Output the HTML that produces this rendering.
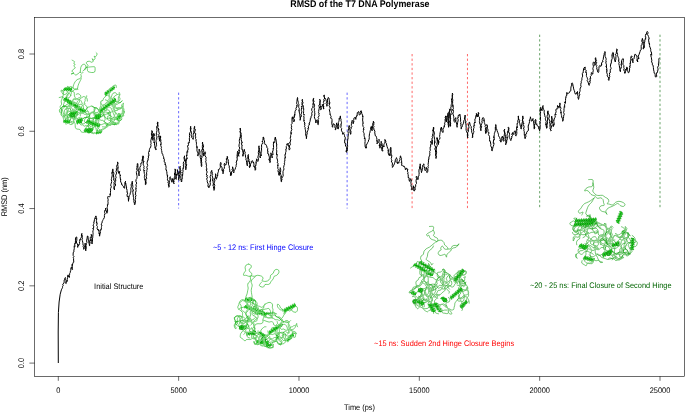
<!DOCTYPE html>
<html><head><meta charset="utf-8"><title>RMSD of the T7 DNA Polymerase</title>
<style>html,body{margin:0;padding:0;background:#fff;width:685px;height:412px;overflow:hidden}</style></head>
<body>
<svg width="685" height="412" viewBox="0 0 685 412" style="display:block;position:absolute;left:0;top:0;text-rendering:geometricPrecision" font-family="'Liberation Sans', Arial, Helvetica, sans-serif" font-size="7.30">
<rect x="0" y="0" width="685" height="412" fill="#fff"/>
<g fill="none" stroke="#000" stroke-width="0.58" stroke-linecap="butt">
<rect x="34.6" y="17.4" width="649.9" height="358.9"/>
<path d="M58.30 376.3v4.50M178.64 376.3v4.50M298.98 376.3v4.50M419.32 376.3v4.50M539.66 376.3v4.50M660.00 376.3v4.50M34.6 363.10h-5.20M34.6 285.83h-5.20M34.6 208.55h-5.20M34.6 131.28h-5.20M34.6 54.00h-5.20"/>
</g>
<text transform="translate(58.30 392.50) scale(0.9136 1)" font-size="8.10" fill="#000" text-anchor="middle">0</text>
<text transform="translate(178.64 392.50) scale(0.9136 1)" font-size="8.10" fill="#000" text-anchor="middle">5000</text>
<text transform="translate(298.98 392.50) scale(0.9136 1)" font-size="8.10" fill="#000" text-anchor="middle">10000</text>
<text transform="translate(419.32 392.50) scale(0.9136 1)" font-size="8.10" fill="#000" text-anchor="middle">15000</text>
<text transform="translate(539.66 392.50) scale(0.9136 1)" font-size="8.10" fill="#000" text-anchor="middle">20000</text>
<text transform="translate(660.00 392.50) scale(0.9136 1)" font-size="8.10" fill="#000" text-anchor="middle">25000</text>
<text transform="translate(23.90 363.10) rotate(-90) scale(0.9136 1)" font-size="8.10" fill="#000" text-anchor="middle">0.0</text>
<text transform="translate(23.90 285.83) rotate(-90) scale(0.9136 1)" font-size="8.10" fill="#000" text-anchor="middle">0.2</text>
<text transform="translate(23.90 208.55) rotate(-90) scale(0.9136 1)" font-size="8.10" fill="#000" text-anchor="middle">0.4</text>
<text transform="translate(23.90 131.28) rotate(-90) scale(0.9136 1)" font-size="8.10" fill="#000" text-anchor="middle">0.6</text>
<text transform="translate(23.90 54.00) rotate(-90) scale(0.9136 1)" font-size="8.10" fill="#000" text-anchor="middle">0.8</text>
<text transform="translate(359.50 409.70) scale(0.9136 1)" font-size="8.10" fill="#000" text-anchor="middle">Time (ps)</text>
<text transform="translate(6.70 196.80) rotate(-90) scale(0.9136 1)" font-size="8.10" fill="#000" text-anchor="middle">RMSD (nm)</text>
<text transform="translate(359.90 6.60) scale(0.9136 1)" font-size="9.72" fill="#000" text-anchor="middle" font-weight="bold">RMSD of the T7 DNA Polymerase</text>
<path d="M178.64 92.64V208.55" stroke="#0000ff" stroke-width="0.6" stroke-dasharray="2.3 2.3" fill="none"/>
<path d="M347.12 92.64V208.55" stroke="#0000ff" stroke-width="0.6" stroke-dasharray="2.3 2.3" fill="none"/>
<path d="M412.10 54.00V208.55" stroke="#ff0000" stroke-width="0.6" stroke-dasharray="2.3 2.3" fill="none"/>
<path d="M467.46 54.00V208.55" stroke="#ff0000" stroke-width="0.6" stroke-dasharray="2.3 2.3" fill="none"/>
<path d="M539.66 34.68V208.55" stroke="#006400" stroke-width="0.6" stroke-dasharray="2.3 2.3" fill="none"/>
<path d="M660.00 34.68V208.55" stroke="#006400" stroke-width="0.6" stroke-dasharray="2.3 2.3" fill="none"/>
<polyline fill="none" stroke="#000" stroke-width="1" stroke-linejoin="round" points="58.3,363.0 58.2,332.0 58.4,312.6 59.1,302.0 60.2,294.2 61.4,289.8 61.9,288.8 62.5,287.7 62.6,286.3 63.2,285.5 62.7,284.2 63.9,283.2 64.2,281.8 64.0,281.0 64.4,279.7 65.0,278.7 65.4,277.5 65.0,278.4 65.4,279.8 66.1,280.4 66.2,281.4 66.1,282.4 66.1,283.6 65.8,283.4 66.3,280.8 67.4,281.3 67.2,279.3 67.2,279.3 67.6,277.5 67.5,277.0 68.0,274.9 68.7,276.9 69.3,276.2 69.3,277.5 69.3,275.7 69.3,274.4 69.7,274.6 69.6,273.7 70.3,272.3 70.4,270.8 71.1,270.1 70.7,269.1 71.4,267.0 71.4,267.0 72.2,267.2 72.1,269.6 72.5,269.4 71.8,268.3 72.3,266.8 72.0,264.5 72.3,265.6 72.8,263.5 72.7,262.9 73.8,262.2 73.6,260.0 73.5,258.5 73.7,258.4 73.2,257.2 74.0,256.3 73.1,255.4 73.2,252.8 73.6,252.0 74.0,251.9 73.8,250.9 74.3,248.3 74.2,246.9 74.1,245.8 75.0,246.7 74.6,243.4 75.7,243.5 75.2,241.7 75.6,242.0 75.7,240.0 75.4,240.1 75.6,238.0 76.3,236.9 76.8,237.1 76.8,240.1 76.8,240.8 76.4,241.0 76.6,243.0 76.9,243.1 77.8,245.1 77.9,245.2 77.5,246.9 77.7,247.4 78.0,245.9 78.3,244.6 78.6,245.6 79.6,243.7 79.4,241.9 79.8,241.3 79.6,239.6 80.7,239.9 80.5,238.6 81.3,237.3 81.5,236.3 81.4,235.0 81.9,233.4 81.8,234.5 82.4,236.1 82.0,237.9 82.5,238.1 82.0,239.2 82.4,240.6 82.7,242.1 83.0,243.2 82.8,243.9 83.4,245.5 83.1,246.6 83.8,247.4 84.0,249.2 83.6,249.2 83.9,248.2 83.7,248.0 84.8,246.1 84.8,245.6 85.1,243.3 85.0,243.1 85.5,244.4 85.5,245.1 85.5,247.1 85.7,248.1 85.1,247.9 85.7,250.2 85.9,250.9 85.7,250.3 86.3,247.7 86.3,247.1 85.9,245.8 86.3,244.9 86.3,243.5 86.8,243.2 87.0,242.7 86.8,242.3 86.6,240.1 87.0,239.0 87.0,239.0 87.4,236.0 87.7,236.1 88.0,236.2 88.1,237.8 88.3,240.4 88.8,240.1 89.0,241.8 88.7,241.6 89.1,243.7 89.7,245.7 89.4,245.7 89.7,244.2 90.2,242.2 89.5,242.4 90.2,240.3 90.4,240.9 90.3,238.7 90.3,237.2 91.3,236.3 91.5,236.4 91.2,234.3 91.4,234.8 91.9,236.4 91.4,237.1 92.1,238.6 91.4,239.6 91.3,241.0 91.8,241.3 92.3,243.7 92.0,243.9 91.6,242.9 92.0,242.8 92.6,240.0 92.1,238.7 93.0,238.0 92.7,237.3 92.8,236.5 93.0,234.3 93.1,233.6 93.0,232.6 92.8,232.0 93.1,230.5 93.5,229.9 92.8,228.0 93.3,228.5 93.9,226.5 93.0,226.0 93.5,224.4 93.9,223.5 93.8,222.0 94.1,222.0 94.4,219.7 95.2,218.2 95.0,218.7 95.1,217.7 95.9,215.9 96.3,216.9 95.9,218.9 96.8,218.5 96.4,220.6 96.6,221.2 96.4,223.0 97.2,222.8 96.7,225.8 97.5,226.6 97.3,227.3 97.1,228.9 98.5,230.7 98.5,229.5 99.0,231.0 99.1,233.9 99.5,233.0 99.4,236.0 99.9,236.1 99.7,235.3 100.2,233.1 100.5,231.8 100.1,231.5 100.3,229.7 101.0,230.3 101.5,227.7 101.2,227.1 101.5,226.5 102.0,225.1 101.2,224.8 101.5,223.6 102.0,223.2 102.2,221.2 102.8,220.6 103.0,219.5 103.5,219.1 104.3,217.7 104.5,215.7 104.3,215.2 105.0,213.7 105.2,213.8 104.6,212.7 104.8,210.3 105.5,209.5 106.0,209.1 105.7,208.0 105.8,209.8 105.7,210.7 106.0,210.3 107.2,212.7 106.9,213.3 106.7,211.3 107.6,211.5 107.5,209.1 107.4,208.5 107.1,207.3 107.5,206.3 107.4,204.6 108.0,204.8 108.0,203.1 108.1,202.2 107.9,201.3 108.2,199.7 107.6,197.7 107.8,196.6 108.2,196.6 109.6,196.9 110.2,195.9 110.3,193.7 110.1,194.8 110.5,192.7 110.5,190.9 110.7,190.8 110.4,188.9 110.7,188.4 111.4,186.7 110.8,186.0 110.8,184.9 110.9,184.3 110.8,184.3 111.3,183.2 111.7,181.5 111.6,181.1 111.3,179.3 111.6,178.3 111.9,176.8 112.3,174.9 111.8,173.4 112.0,172.4 112.3,173.4 112.4,170.7 112.6,169.5 112.8,168.9 113.2,170.5 112.7,170.3 113.4,173.0 113.5,172.8 114.0,172.8 113.6,175.0 113.2,176.8 113.7,176.1 113.9,179.4 113.9,178.9 113.5,179.3 114.5,181.4 114.6,181.4 113.9,182.5 114.1,183.6 114.0,185.5 114.1,185.7 113.9,188.9 114.1,188.9 114.5,189.9 114.5,188.9 114.3,187.3 114.4,186.7 115.5,185.8 115.5,183.8 114.7,183.5 115.3,182.4 115.3,181.5 115.8,181.1 115.5,178.9 116.2,177.2 115.9,176.8 115.6,175.3 115.7,175.3 116.6,173.1 116.0,171.5 116.2,170.5 116.5,170.6 116.4,168.3 117.0,167.2 116.6,166.7 116.9,165.2 117.1,164.6 117.6,164.2 117.8,163.3 117.5,161.9 117.9,163.2 117.7,164.9 118.0,166.4 118.2,166.9 117.8,168.3 118.0,167.8 117.8,169.1 118.1,171.4 118.2,171.1 118.6,173.3 119.5,172.5 119.8,171.5 119.3,171.5 119.5,173.3 120.4,175.8 120.3,175.1 120.1,176.5 120.1,176.7 120.5,179.7 120.7,179.0 120.6,180.2 120.7,182.0 121.3,182.8 122.0,184.5 121.6,184.2 122.4,185.5 123.4,186.3 123.5,187.2 124.2,188.2 124.7,188.1 124.7,187.0 125.0,183.7 125.4,183.3 124.8,183.5 125.6,181.2 125.2,182.4 125.8,184.2 125.9,183.7 125.9,184.7 126.3,186.2 126.7,187.0 126.4,188.1 127.2,190.5 126.8,190.8 127.3,192.1 127.0,192.0 127.7,193.9 127.0,194.2 127.2,196.6 128.3,196.4 128.3,197.7 128.4,200.1 128.5,201.0 128.5,201.3 128.6,199.0 129.0,199.3 128.9,197.8 129.2,195.8 129.4,195.6 129.8,195.2 130.0,194.8 130.3,192.6 130.8,192.4 130.9,190.7 130.9,189.9 130.8,188.2 131.4,186.9 131.1,184.7 131.1,184.2 131.8,184.1 132.1,181.8 132.0,181.2 132.6,181.7 132.4,182.3 132.6,184.8 132.9,186.4 132.7,187.4 132.8,187.9 132.3,188.8 133.1,189.2 133.3,191.0 132.8,190.8 132.8,192.3 133.2,195.1 133.6,195.5 133.1,195.4 133.5,197.5 133.6,198.2 133.4,199.6 134.2,199.9 133.8,201.1 134.4,203.7 134.2,204.1 134.8,204.8 135.2,203.1 134.5,202.8 135.5,202.5 135.4,200.3 135.2,199.5 135.8,197.9 135.2,197.5 136.0,195.4 135.1,194.2 135.7,194.3 135.4,192.2 135.9,192.2 135.9,190.8 136.2,190.3 135.5,188.6 136.4,188.6 135.9,187.3 136.3,186.4 135.9,184.8 136.7,183.1 135.9,181.4 136.0,180.1 136.1,180.2 136.1,179.5 136.8,178.5 137.0,177.2 137.1,176.7 136.9,175.6 136.4,172.5 136.4,171.6 136.8,171.2 137.2,170.7 136.6,168.8 137.1,167.7 136.7,167.1 137.0,166.3 137.2,165.8 137.3,163.6 137.9,163.7 137.9,166.4 137.6,166.1 137.9,167.8 138.4,170.2 138.1,169.8 138.4,171.9 138.9,172.7 138.5,173.3 139.3,174.8 139.1,175.9 138.7,174.6 139.1,174.0 139.1,171.9 139.3,171.3 140.5,170.3 140.0,170.1 139.8,167.6 140.8,165.6 140.9,165.3 140.8,164.5 140.9,163.1 142.0,162.8 142.2,161.3 142.4,159.4 142.2,160.4 142.7,158.0 142.4,156.4 143.1,155.8 143.7,157.3 143.2,156.9 143.2,159.7 143.3,160.4 143.9,161.6 143.7,161.2 143.1,164.1 143.6,165.4 144.1,166.6 143.7,167.9 144.2,168.8 143.6,169.6 144.0,171.1 144.7,170.4 144.1,171.6 144.3,173.3 144.4,173.9 144.8,174.7 144.4,176.6 144.4,177.6 145.4,179.9 144.8,179.0 145.6,182.4 145.5,181.5 145.3,184.5 145.7,184.7 146.3,182.5 145.6,182.3 145.8,182.0 146.0,181.0 145.8,179.2 146.8,178.6 146.0,176.1 146.7,175.6 146.5,174.8 146.8,174.8 146.5,172.8 146.9,171.5 146.8,170.5 147.4,168.4 147.2,168.6 146.8,167.7 147.3,165.9 147.7,165.5 147.1,163.7 147.2,162.2 147.7,160.2 147.7,160.2 148.2,160.2 148.0,158.1 148.5,157.9 148.3,155.8 149.0,155.8 148.5,152.6 149.4,151.2 149.1,151.7 149.4,149.7 149.6,148.8 150.5,147.2 150.6,147.4 151.0,145.5 150.7,144.1 151.1,143.6 150.9,142.2 150.8,140.3 151.2,139.4 151.9,138.6 151.2,138.8 151.8,136.5 151.9,136.3 151.5,135.2 151.4,133.3 152.2,132.6 152.3,130.9 151.9,130.7 151.6,130.7 152.4,132.9 151.7,132.8 152.6,134.9 152.8,134.9 152.6,136.2 152.8,138.4 152.8,138.6 152.8,140.3 153.4,138.2 152.6,138.4 152.9,135.7 153.4,136.0 154.1,135.0 153.8,133.3 153.4,134.7 154.4,134.5 154.3,135.9 153.9,136.4 154.5,138.7 154.8,139.7 154.0,140.2 154.2,143.0 154.2,142.0 154.5,143.1 154.6,145.4 155.0,145.4 154.9,147.3 154.8,148.2 155.8,148.9 155.9,149.9 156.1,149.8 155.6,147.1 156.1,146.7 156.6,145.6 156.3,144.1 156.5,144.0 156.0,141.2 156.1,140.6 156.8,139.3 156.6,139.1 157.0,136.7 156.8,136.1 156.1,135.7 157.0,134.5 156.2,134.3 156.6,132.3 157.0,130.3 156.8,129.8 156.8,128.2 156.6,126.5 157.3,126.2 157.6,124.2 157.1,123.4 157.9,123.7 157.5,121.9 158.1,123.0 157.3,123.9 157.6,124.0 158.1,125.8 157.7,127.4 158.8,129.5 158.4,128.6 158.6,130.7 158.9,130.8 158.8,131.8 159.4,133.9 158.8,134.3 159.0,137.0 159.0,136.3 159.2,139.0 159.1,139.4 159.8,139.7 159.4,141.2 160.0,140.2 159.5,138.0 160.5,137.9 160.2,138.0 160.5,135.9 160.7,137.0 160.4,138.7 160.5,139.1 161.1,140.5 160.5,140.7 161.2,143.0 160.7,144.8 160.8,143.9 160.8,145.6 161.5,147.7 161.1,148.4 161.5,149.1 161.4,150.3 161.8,150.8 161.9,152.7 162.2,153.9 162.9,154.3 163.0,155.7 163.5,156.6 164.0,158.8 163.5,158.6 164.4,159.3 164.2,161.3 164.3,162.1 165.2,162.4 165.1,164.9 165.4,164.1 165.9,165.9 166.1,167.7 165.9,168.3 166.0,170.2 166.4,170.0 166.7,171.4 166.8,172.7 167.1,172.7 166.9,173.4 167.4,176.2 167.6,175.5 167.4,177.7 167.6,178.7 167.3,179.1 168.4,181.7 167.8,182.7 168.4,182.7 168.5,183.4 168.3,184.0 168.8,186.4 168.8,187.3 169.2,186.3 169.0,184.7 169.5,183.8 169.5,183.7 169.5,182.5 169.2,180.4 170.2,179.1 169.5,177.7 170.4,176.9 170.2,176.8 170.4,177.7 171.1,178.8 171.0,178.8 171.5,181.6 171.5,182.0 172.0,181.7 172.4,180.2 172.7,178.5 173.4,179.9 172.7,181.6 174.1,181.0 173.3,182.4 174.1,183.8 173.7,182.4 173.8,181.0 173.7,180.4 174.1,180.1 174.3,177.7 175.0,178.4 174.7,175.7 174.5,175.2 174.6,173.1 174.7,173.8 175.0,173.0 175.0,171.7 175.3,171.0 175.0,168.9 175.4,169.8 175.4,171.4 175.8,172.6 175.4,172.4 175.4,173.6 175.9,175.9 175.5,176.3 176.3,177.0 175.6,178.6 176.2,179.4 176.2,177.5 176.3,176.1 176.3,176.0 176.4,173.9 177.0,175.2 177.5,172.6 177.7,170.9 177.1,169.7 177.6,169.8 177.2,171.1 178.2,171.8 178.3,172.8 178.6,174.2 178.3,174.2 178.4,175.9 178.9,176.5 178.5,178.9 178.4,179.3 179.0,180.3 178.8,179.6 179.3,177.2 179.5,176.8 179.2,176.8 179.8,174.4 179.8,172.9 179.7,171.7 179.9,172.7 180.0,169.5 180.0,169.4 180.0,167.6 179.9,167.2 180.2,166.3 179.8,167.8 180.1,168.0 180.0,169.2 181.0,170.3 180.2,171.5 181.2,172.0 180.7,173.5 181.1,175.2 180.6,177.3 180.9,178.0 181.1,179.6 180.8,179.1 181.1,180.4 181.4,182.0 182.0,181.0 181.6,179.9 182.4,178.9 182.1,178.0 182.4,176.3 182.4,174.6 182.6,175.3 182.8,173.3 182.7,171.9 183.2,171.3 182.8,169.9 183.5,167.8 183.0,168.4 183.9,165.7 183.2,165.9 183.5,164.9 183.3,163.3 183.6,161.9 184.3,161.3 184.5,161.0 184.4,159.9 184.0,157.9 184.3,157.2 184.6,155.8 184.3,157.8 184.7,158.6 185.4,160.1 184.9,160.9 185.7,160.3 185.5,162.8 185.3,162.8 185.1,164.2 186.0,165.2 185.4,166.8 185.7,167.9 185.8,168.2 186.0,169.8 185.6,169.5 186.3,167.0 186.2,166.8 186.3,166.5 186.7,164.0 186.3,163.6 186.2,163.3 186.1,161.2 186.5,160.2 186.3,158.4 187.4,158.7 186.6,156.8 186.5,155.0 186.8,156.0 187.0,153.1 186.8,151.7 187.9,152.2 187.4,150.5 188.0,150.3 188.1,147.9 187.6,146.9 187.6,145.6 188.5,145.4 188.5,144.4 188.1,142.8 189.2,143.0 189.3,141.6 189.6,140.0 189.2,139.0 189.6,137.7 189.4,135.4 189.5,135.3 189.5,133.2 189.7,132.8 190.6,131.9 190.6,131.4 190.4,129.3 190.3,128.1 190.7,128.3 190.6,126.3 191.0,126.9 190.5,127.2 191.1,128.8 190.5,130.1 190.9,130.9 191.5,132.9 191.2,134.3 191.2,135.9 191.7,135.9 191.7,137.3 192.8,138.8 193.1,139.4 193.2,139.2 193.4,137.7 193.0,135.4 193.5,135.1 193.2,134.5 193.6,132.8 193.9,132.6 193.8,130.8 194.2,129.9 194.0,127.9 194.3,127.6 194.5,126.3 194.7,126.4 194.6,128.5 194.4,128.5 195.4,129.3 195.0,131.0 194.6,132.0 194.8,133.4 195.8,133.7 195.2,136.2 195.5,136.8 195.8,136.7 195.5,138.5 196.3,139.9 195.8,141.1 196.2,141.4 196.5,143.9 196.4,144.5 196.6,145.5 197.0,147.7 197.0,146.6 197.0,149.1 196.9,150.2 197.1,151.1 197.5,152.3 198.0,153.4 197.9,154.4 197.5,155.3 198.0,156.1 198.3,153.8 198.7,153.1 198.6,152.6 199.0,152.0 199.0,151.3 199.2,149.1 199.3,150.3 200.0,150.8 199.9,153.4 199.4,154.1 200.1,154.6 200.4,156.5 199.9,156.7 200.4,157.8 200.7,159.4 201.2,160.7 201.2,160.0 200.9,163.2 201.6,163.9 201.0,165.0 201.4,165.9 201.5,166.6 201.7,166.3 201.8,165.5 201.6,163.2 201.9,162.3 201.3,162.1 201.6,159.9 201.4,158.0 202.4,157.1 201.8,157.3 201.7,155.8 202.2,155.3 202.1,152.8 201.9,151.8 201.7,150.0 201.9,149.4 202.7,149.8 202.3,147.0 202.3,146.8 202.5,144.5 202.6,143.7 202.3,143.8 202.7,142.0 202.3,143.0 203.1,144.3 203.3,144.8 203.5,145.3 203.5,147.3 202.6,147.9 203.7,150.1 203.5,151.4 202.8,151.3 203.3,153.8 203.9,153.1 204.0,155.1 203.6,156.1 203.7,154.0 204.2,153.9 204.6,152.3 205.0,151.7 205.6,152.7 205.0,154.6 205.1,154.9 205.0,155.6 206.2,157.6 205.8,158.9 205.9,159.6 206.1,160.7 205.9,160.9 205.6,161.9 206.1,162.8 206.3,165.0 206.6,165.8 206.2,166.8 206.5,167.7 207.0,169.5 206.2,169.7 207.2,172.0 206.6,173.4 206.4,175.0 207.5,175.6 206.6,176.1 207.5,177.6 206.9,177.9 206.8,179.7 207.4,180.8 207.2,181.8 208.3,184.1 208.0,185.0 207.9,186.5 208.9,186.6 208.8,187.8 209.5,186.3 209.8,185.3 210.1,185.5 210.4,184.2 210.2,182.6 209.8,181.0 210.5,181.4 210.6,178.3 210.3,178.0 210.1,176.6 210.6,175.9 210.4,175.0 211.2,174.4 211.1,174.1 210.9,172.0 210.9,172.1 211.9,170.3 211.6,170.7 212.4,173.1 212.4,173.6 212.6,174.6 212.1,175.2 212.2,175.9 213.2,179.2 212.6,179.0 212.7,181.0 213.0,180.6 213.1,182.6 213.7,184.7 212.9,184.7 213.2,186.3 213.5,186.6 213.5,188.4 213.9,189.3 214.0,190.4 214.3,189.3 214.7,188.1 214.6,188.1 214.5,186.2 214.8,185.4 214.2,183.6 214.3,181.5 215.0,181.2 214.6,179.3 214.4,179.8 214.9,178.1 215.3,178.1 215.5,175.3 215.9,174.1 215.4,173.8 215.8,175.2 215.7,176.8 216.3,177.5 216.0,178.8 216.6,179.1 216.6,178.3 217.3,176.6 217.0,175.6 218.0,175.3 217.6,174.1 217.9,172.9 218.5,171.2 218.3,169.6 219.3,169.4 219.6,168.5 220.3,167.4 220.4,167.1 220.2,164.6 220.4,163.3 220.7,162.4 221.2,163.6 220.7,165.6 221.4,166.2 221.7,166.8 221.9,167.7 222.2,167.8 221.9,170.3 222.3,169.8 223.1,172.3 223.2,172.5 223.1,173.8 222.9,173.4 223.1,172.1 223.8,170.1 223.1,169.8 224.1,168.8 224.5,166.8 224.4,166.3 224.3,164.9 224.1,164.5 224.5,163.3 225.3,165.1 225.9,165.0 226.2,163.9 226.4,163.2 226.3,161.2 226.7,160.4 226.2,158.8 226.7,158.9 227.2,157.3 227.2,156.3 227.7,157.0 227.3,159.1 227.9,159.5 228.3,159.6 228.1,162.8 228.6,162.3 228.4,164.2 228.9,165.4 229.3,166.0 229.2,167.9 229.7,168.3 229.3,168.9 229.8,169.9 229.8,172.0 230.6,172.4 230.4,175.5 231.2,175.5 231.4,175.1 231.4,172.7 231.6,173.4 231.5,172.1 232.5,170.5 232.0,169.5 232.9,168.1 232.6,166.8 232.5,168.1 233.5,169.0 232.8,169.1 233.5,169.8 233.1,171.6 233.8,172.9 234.0,171.7 234.2,170.7 235.0,169.4 235.5,168.0 235.6,167.4 236.1,166.5 236.1,165.5 236.6,163.3 236.4,163.3 236.1,163.0 237.0,159.9 237.2,160.2 237.3,159.3 236.9,156.8 237.4,157.1 237.2,154.9 237.2,155.4 237.4,152.6 238.1,153.3 237.7,151.0 237.6,151.3 238.4,152.9 238.4,154.6 238.4,155.5 238.9,156.3 238.6,154.5 239.0,153.9 239.5,152.2 239.6,151.4 239.0,149.9 239.0,150.9 239.1,149.5 239.8,148.1 239.0,146.3 239.1,144.8 239.3,143.5 239.7,143.3 239.4,141.6 239.3,140.2 239.6,139.0 239.8,138.3 240.1,137.3 240.3,137.8 240.4,135.0 240.4,134.5 240.4,133.4 240.1,131.8 240.4,131.0 240.6,130.7 240.2,128.0 240.3,128.1 240.1,129.0 240.4,130.5 240.1,131.3 241.2,133.5 241.0,134.0 241.1,135.8 241.4,135.6 241.1,137.9 241.3,138.1 241.2,139.4 241.5,141.1 242.1,142.4 241.7,142.3 242.3,142.2 241.4,144.0 242.3,145.6 241.8,145.6 241.9,146.8 241.9,149.3 242.0,149.0 242.6,150.0 242.9,152.3 243.1,153.6 243.0,153.6 242.7,154.9 242.9,156.3 243.0,156.1 243.3,154.7 243.8,151.8 243.5,151.8 244.4,149.8 244.3,149.3 244.2,150.0 244.6,151.2 245.3,152.7 244.8,153.2 245.2,153.8 245.3,154.6 245.7,157.6 246.2,158.1 245.9,158.9 246.0,160.2 246.4,160.5 246.6,162.4 246.5,163.4 247.4,165.1 247.3,165.9 247.2,164.1 247.7,163.8 247.4,162.4 247.6,161.7 248.2,159.9 248.0,159.2 248.2,157.3 247.9,157.8 247.9,156.1 248.4,154.5 248.2,155.6 248.5,156.1 248.3,158.9 248.3,158.0 249.1,159.7 248.6,161.8 249.6,161.5 249.4,163.0 249.8,164.6 249.8,165.9 249.1,166.4 249.6,167.7 250.1,165.8 249.6,166.8 250.8,165.0 250.1,164.1 251.4,163.2 251.2,161.5 252.1,161.0 252.6,160.7 253.2,162.8 253.5,162.0 254.0,164.2 253.8,166.3 254.6,167.2 254.2,166.3 255.0,168.1 254.9,168.6 255.2,170.3 255.6,169.8 255.7,167.8 255.5,166.6 255.6,165.3 255.8,165.7 256.2,162.6 256.2,163.1 256.0,162.1 256.8,159.0 256.4,158.9 257.0,159.5 257.3,160.8 257.8,161.5 258.3,160.7 258.4,158.7 258.4,157.9 257.8,157.8 258.3,155.2 258.8,154.8 258.6,154.8 258.3,152.6 258.6,150.9 258.7,151.4 259.0,148.6 259.1,148.3 258.8,147.3 259.0,145.8 259.0,147.6 259.2,148.8 259.2,148.3 259.4,149.3 260.1,152.5 259.7,151.8 260.3,154.4 259.8,154.2 260.2,154.9 260.0,156.7 260.4,158.0 260.1,156.1 260.8,155.4 261.3,156.0 261.1,153.3 261.3,152.4 261.6,151.5 261.5,151.3 261.6,150.2 261.4,147.7 261.7,147.5 261.7,147.6 261.5,144.9 262.0,144.2 262.8,142.5 262.1,141.1 262.5,141.8 262.8,140.5 263.1,138.8 263.1,137.0 263.4,137.0 264.1,138.7 263.4,138.6 264.4,140.5 264.6,142.3 264.2,143.6 264.8,144.0 265.4,144.0 266.6,145.8 267.1,147.6 266.9,147.6 267.7,148.4 267.6,151.2 268.0,151.0 267.7,153.2 268.7,154.5 268.2,153.7 268.6,154.8 269.3,156.9 269.4,157.8 269.2,160.1 269.0,159.5 269.9,161.5 269.7,162.4 270.2,162.5 270.3,160.5 270.4,159.3 270.0,157.7 270.9,157.1 270.0,156.3 271.2,155.2 270.8,153.7 270.9,152.8 271.3,154.1 271.4,155.8 272.1,156.6 272.2,157.5 272.2,158.0 272.0,156.9 272.1,155.2 273.0,154.1 273.0,154.5 272.6,151.5 272.5,151.9 273.2,150.1 273.1,148.6 273.3,149.0 273.6,147.4 273.4,145.0 273.2,144.9 273.6,144.0 273.4,142.0 274.6,142.5 274.4,141.5 275.0,140.3 274.7,138.8 275.6,139.1 275.3,137.0 275.1,138.8 275.8,138.7 276.0,139.6 276.2,141.4 276.1,141.2 276.6,144.4 276.6,143.9 276.7,144.5 276.6,146.1 276.7,147.5 276.8,148.1 276.4,149.5 276.6,150.0 276.8,151.0 276.5,154.1 276.6,155.0 277.1,154.2 277.1,156.2 276.8,157.4 276.8,157.9 277.6,160.3 277.1,160.3 278.0,161.2 277.1,162.1 278.0,163.4 277.8,165.9 277.9,165.2 277.8,166.6 277.8,168.4 278.4,169.7 278.0,170.3 278.2,172.1 278.5,171.7 278.9,172.9 278.6,174.2 279.2,175.5 279.3,173.3 279.3,174.4 279.6,171.9 279.7,171.5 279.9,169.7 280.2,168.3 280.2,167.7 280.5,168.6 280.7,169.5 280.7,170.2 280.6,172.0 280.2,172.2 280.8,174.8 281.3,176.0 281.4,177.4 280.9,176.5 280.9,179.1 281.1,179.1 281.1,181.6 281.6,181.7 281.5,179.9 282.1,179.9 281.7,178.5 282.5,177.3 282.7,176.8 283.2,175.8 283.0,173.8 283.0,171.6 283.3,170.4 283.6,170.4 283.8,170.1 283.9,168.7 283.6,167.6 284.1,165.3 284.5,164.8 284.2,163.0 284.7,162.6 284.4,161.5 284.9,161.2 284.8,159.4 284.9,157.4 285.5,157.9 284.8,154.6 285.5,154.5 285.6,152.5 285.7,152.0 285.6,152.0 286.1,151.3 285.8,149.0 286.4,148.9 286.3,146.4 286.3,146.3 287.1,145.4 286.7,144.0 287.8,144.4 288.1,143.1 288.2,144.3 288.9,146.0 288.6,145.9 289.2,147.3 288.9,148.4 289.3,150.1 289.7,149.4 290.1,148.2 289.7,147.8 289.4,146.0 290.5,144.3 289.7,142.6 289.6,143.0 290.2,142.2 290.8,139.2 290.3,138.6 290.4,137.0 290.7,137.0 290.6,135.5 290.9,134.8 291.6,132.7 290.7,133.5 291.0,131.5 291.1,131.2 291.9,129.3 291.0,127.7 291.8,127.1 291.4,125.5 291.3,124.4 292.2,123.3 291.9,121.6 292.3,121.1 292.0,120.8 292.0,118.0 292.5,118.5 292.4,116.8 292.2,117.5 293.3,118.9 293.1,119.1 293.2,121.2 293.6,122.0 294.3,121.3 294.5,119.6 293.6,118.4 294.1,116.6 294.0,117.6 295.0,114.6 294.3,115.5 294.9,113.3 295.0,111.6 295.5,110.2 296.3,109.8 295.9,108.6 296.8,106.5 296.6,105.6 297.0,106.3 297.2,104.3 296.6,103.6 296.6,102.6 296.9,101.8 297.0,100.3 297.4,98.0 297.5,97.5 297.7,98.5 297.6,100.0 298.2,101.5 298.3,102.5 298.3,103.4 298.9,104.5 298.7,106.3 298.7,106.3 298.7,107.4 299.3,108.4 298.9,111.1 299.2,110.6 299.4,113.2 299.9,114.5 299.7,114.3 299.8,114.7 300.1,117.7 300.4,118.8 300.2,119.9 300.1,120.3 300.1,119.4 300.2,119.2 300.8,116.4 301.5,116.4 301.2,115.0 301.0,114.7 301.5,113.1 301.9,111.2 301.3,110.7 301.3,109.9 301.7,107.6 301.4,106.3 302.0,107.0 302.3,105.7 302.1,104.5 302.0,102.3 302.7,100.9 302.5,100.6 302.4,99.3 302.0,100.5 303.0,102.4 302.7,103.6 302.3,104.7 303.2,105.6 303.0,106.2 303.5,106.4 303.0,108.8 303.8,108.6 303.6,110.4 303.6,111.5 303.5,113.5 303.6,114.4 303.8,114.0 304.5,115.1 303.6,115.9 304.0,117.0 303.9,120.3 304.1,120.8 304.1,120.2 304.0,121.6 305.1,123.5 304.4,123.6 304.9,125.3 304.5,126.7 305.2,127.6 305.0,129.1 305.3,129.4 305.4,130.1 306.0,133.3 305.7,133.3 305.7,135.0 306.1,136.0 306.1,136.3 306.5,136.8 306.4,138.7 306.4,136.9 306.5,137.3 306.8,135.9 306.6,135.2 307.3,133.6 307.1,132.2 307.7,130.8 308.3,129.2 307.7,128.4 308.7,128.3 308.2,126.2 308.9,125.5 309.6,123.9 308.9,124.1 309.9,121.9 310.0,121.5 310.4,119.0 310.3,118.5 310.8,118.5 311.2,116.5 311.0,116.5 312.0,115.1 311.7,113.3 311.8,113.2 312.4,111.2 311.7,110.4 311.8,108.6 312.4,108.0 312.6,107.7 313.1,105.4 313.2,104.3 312.7,104.3 313.5,102.7 313.4,102.4 313.0,100.8 313.8,98.3 313.4,98.4 313.1,100.4 313.7,100.4 314.0,101.6 313.4,102.5 314.1,104.3 313.9,103.9 314.6,105.2 313.9,108.0 314.7,108.8 314.1,110.1 314.5,110.8 314.7,111.8 314.5,112.2 314.9,113.0 314.7,115.0 314.4,116.5 314.5,118.2 314.9,118.3 315.1,119.5 315.7,119.9 315.8,122.9 315.9,122.9 316.0,121.4 316.5,120.2 317.3,120.3 317.0,122.5 318.2,121.4 318.3,123.8 318.2,124.7 317.9,124.5 317.9,122.8 318.5,121.8 318.1,119.4 318.6,118.7 318.7,118.6 318.1,117.5 319.2,115.6 318.8,114.3 319.2,113.0 318.4,112.5 318.8,111.6 318.6,111.3 319.1,108.9 319.4,107.0 319.6,107.8 318.9,105.8 318.8,105.5 319.9,103.9 319.9,102.5 319.9,102.3 320.0,100.3 319.6,99.3 319.7,99.2 320.3,100.4 320.0,102.7 319.7,103.1 320.0,103.3 320.2,105.3 320.7,107.1 321.1,108.6 320.4,109.0 320.8,109.8 321.3,109.4 321.0,107.3 321.8,106.2 322.4,105.4 322.2,104.5 322.7,104.6 323.3,107.8 323.6,107.4 323.4,108.9 323.9,109.0 323.1,105.7 323.8,106.8 323.2,105.4 323.9,103.5 323.4,102.5 323.9,100.6 324.4,100.9 323.7,99.5 324.2,99.2 324.7,98.0 323.7,95.8 324.3,94.9 324.3,96.6 324.5,97.9 325.5,98.5 325.7,99.3 326.4,101.3 326.4,101.9 326.4,102.8 326.0,103.2 326.9,104.9 326.9,106.3 327.0,106.0 327.1,104.6 327.7,103.8 327.3,102.2 327.7,101.0 327.4,99.0 327.7,99.3 328.2,97.5 329.0,98.1 329.2,99.3 329.4,100.2 329.4,100.9 329.2,103.7 329.9,102.7 329.1,105.6 329.5,106.2 329.7,107.2 330.1,107.2 330.1,108.5 329.3,109.7 329.9,112.0 329.9,112.4 330.2,114.6 330.0,114.2 330.7,115.7 331.1,116.5 330.6,118.2 331.3,118.5 331.8,118.6 332.0,119.5 332.0,122.1 331.8,121.9 331.9,124.3 332.4,125.9 332.2,126.5 332.7,127.3 332.9,125.0 333.2,124.0 333.9,123.8 333.8,123.7 334.9,125.5 334.8,126.7 334.8,127.3 335.5,128.2 335.2,129.9 335.9,129.4 336.0,126.6 336.4,126.8 336.2,125.4 336.3,125.2 336.6,122.9 337.3,125.0 336.6,125.0 337.5,125.2 337.9,127.6 337.3,127.5 338.0,129.1 338.3,128.9 338.8,126.3 338.8,126.0 338.4,124.0 338.3,122.5 338.8,121.6 338.7,121.0 339.2,120.3 339.1,118.5 339.5,119.2 340.0,117.3 340.4,115.9 340.5,118.1 340.9,119.1 341.1,119.7 341.1,119.8 340.9,120.8 341.3,121.7 341.5,122.7 340.8,125.0 341.2,124.8 340.8,127.5 340.9,127.6 341.7,128.6 341.4,128.9 341.5,130.8 342.4,132.2 342.5,132.9 342.7,134.3 343.5,133.1 343.9,132.6 343.7,133.3 344.5,135.5 344.4,136.1 345.0,137.1 345.2,137.2 345.2,139.5 345.0,140.1 344.7,139.8 344.7,143.0 345.3,143.1 345.4,144.3 345.6,146.0 346.1,145.9 346.1,146.5 346.6,147.4 346.7,149.3 346.0,151.4 346.2,151.7 346.7,152.4 346.6,150.4 347.2,151.1 347.4,149.4 347.3,147.1 347.7,146.3 347.4,144.5 347.2,144.6 347.5,143.2 347.4,141.1 347.8,140.8 347.3,139.7 348.0,139.5 348.0,137.8 348.0,135.8 348.3,135.8 348.3,135.6 348.3,133.4 348.0,131.4 348.3,130.4 348.4,129.1 349.3,129.1 348.9,127.9 348.8,127.5 349.2,125.5 349.6,126.5 349.0,126.5 349.2,129.4 349.4,129.8 350.1,130.7 350.0,133.2 350.9,133.8 350.6,134.3 350.7,134.3 351.0,131.5 350.5,130.2 350.6,129.7 351.2,128.2 350.8,127.4 351.3,127.7 351.9,126.5 351.3,125.4 351.4,123.7 351.8,121.8 351.9,120.8 352.0,120.3 352.7,120.8 353.1,121.9 353.2,123.8 352.9,122.6 354.0,122.1 353.6,120.7 353.8,120.1 354.0,117.9 354.4,117.7 355.7,117.4 355.8,119.4 355.7,117.9 356.2,117.4 356.7,115.4 357.3,115.7 357.2,114.2 357.3,112.5 357.6,112.4 358.5,111.5 359.0,113.2 359.0,114.7 359.7,115.0 360.5,113.9 360.0,112.1 361.0,110.7 361.1,110.7 361.6,112.3 361.3,112.0 361.9,113.8 362.5,115.0 363.0,116.8 362.5,116.1 362.8,117.6 362.6,120.5 362.6,120.3 363.1,122.6 362.6,122.9 363.3,122.9 362.7,124.5 363.1,126.5 363.9,127.5 363.3,129.4 364.0,129.1 363.5,130.4 363.2,131.8 363.7,132.6 364.1,133.5 364.1,135.6 364.2,136.2 364.6,137.3 364.3,138.9 364.9,137.9 365.1,139.1 365.1,141.3 365.1,141.6 364.9,143.1 364.9,143.3 365.0,144.2 365.2,147.0 365.8,148.1 366.0,148.3 366.8,147.1 366.1,147.2 366.3,145.2 367.4,143.2 367.2,143.1 367.6,142.6 368.5,141.3 368.2,141.1 369.1,139.3 369.3,137.2 369.5,137.0 369.2,136.6 369.5,133.6 369.9,132.5 369.9,132.6 370.2,130.9 370.2,130.3 370.8,129.8 370.6,127.8 371.3,126.4 371.3,126.4 371.6,128.1 371.8,127.5 371.5,130.0 372.1,130.8 372.6,130.1 372.9,129.1 372.5,128.7 372.4,125.6 372.7,124.3 373.0,124.5 372.7,123.6 373.2,122.7 373.4,121.2 373.8,123.0 373.8,122.5 373.8,125.0 373.5,125.4 374.0,126.3 373.6,127.5 374.1,129.8 374.9,131.1 374.9,132.6 374.6,132.6 375.1,134.0 375.0,135.4 376.0,136.1 376.5,136.8 376.5,137.3 377.0,139.3 376.6,139.9 377.3,142.8 376.9,142.9 377.2,143.9 377.3,143.3 378.0,142.6 377.7,140.7 378.6,139.6 379.3,139.5 379.1,141.5 378.7,142.4 379.8,143.3 379.5,145.9 379.2,145.0 380.0,147.5 380.0,148.3 379.7,148.0 380.7,146.2 380.3,145.8 380.5,144.8 381.1,143.5 381.2,141.3 381.4,142.6 382.0,143.3 381.4,145.6 382.3,144.7 382.3,147.3 381.7,147.1 381.7,149.6 381.9,150.7 382.5,150.9 383.0,151.1 382.5,149.6 382.7,146.9 383.8,146.0 383.9,147.0 383.9,144.8 384.1,143.6 384.8,143.0 385.1,142.1 384.8,139.5 385.1,139.6 385.9,141.3 385.4,142.2 385.9,142.7 386.5,143.9 386.4,144.0 387.1,146.6 387.6,148.1 387.7,148.3 388.4,149.9 387.8,151.0 388.6,150.4 388.0,153.3 388.7,153.3 388.7,155.1 390.0,154.8 389.9,155.9 390.1,153.8 389.7,154.6 390.4,152.0 390.0,150.5 390.8,149.9 390.1,150.1 390.5,147.5 390.8,147.2 391.0,148.0 391.0,149.3 391.1,150.0 391.1,152.7 390.9,152.6 391.2,153.7 391.2,155.3 391.9,155.3 391.4,158.4 391.0,158.8 391.5,159.5 392.0,160.0 391.3,162.0 392.4,162.7 392.4,164.0 392.2,165.4 392.4,166.5 392.2,167.3 393.0,166.9 393.4,165.5 393.6,165.6 394.4,163.8 394.7,162.9 395.2,161.5 395.1,161.8 395.4,159.4 396.2,158.7 396.4,157.7 396.2,158.1 397.2,158.8 397.1,159.8 396.9,162.9 397.5,162.7 397.8,163.8 397.8,162.1 398.8,163.1 399.2,161.2 400.0,159.9 399.8,158.4 400.4,157.1 400.1,156.2 400.6,155.9 401.0,157.9 400.8,157.6 401.4,158.2 401.4,159.8 401.6,160.7 401.7,163.2 401.2,162.7 401.7,163.5 401.7,165.5 402.4,165.5 403.1,166.4 404.0,165.9 404.5,167.3 405.1,167.6 405.4,169.6 405.7,169.9 405.9,168.6 406.9,168.2 407.4,169.8 407.8,169.3 407.4,171.2 408.1,172.7 407.7,173.0 408.1,174.5 408.3,176.1 408.0,177.4 409.2,177.9 409.0,180.1 409.8,181.4 409.5,181.3 410.2,179.7 410.2,179.2 410.8,178.7 411.2,180.5 411.3,180.1 410.8,183.3 411.0,183.5 411.2,184.9 410.9,186.3 412.0,187.1 411.5,188.3 411.4,189.6 411.8,190.1 412.5,189.2 412.8,188.3 413.2,187.8 413.2,185.7 413.8,187.7 414.0,186.8 413.6,189.8 413.8,190.8 414.5,190.9 414.9,189.1 415.3,189.4 414.8,187.5 415.5,187.2 415.6,186.7 415.7,184.8 415.6,184.6 416.5,183.5 416.0,180.9 416.2,180.2 416.5,178.4 416.2,177.3 416.2,176.7 416.7,176.1 417.2,177.9 417.4,179.3 418.0,179.6 418.2,179.5 418.2,176.8 418.2,176.8 418.9,176.0 419.0,174.4 419.2,172.6 418.9,172.5 419.0,169.6 420.1,168.2 420.2,169.4 419.4,166.9 420.3,167.1 420.1,165.9 420.2,163.8 420.3,165.5 420.1,166.4 420.4,167.6 420.6,167.0 420.9,168.6 421.2,169.2 421.2,170.8 421.5,172.6 421.6,171.8 422.2,170.4 422.1,168.9 422.6,168.9 422.7,167.3 422.7,165.2 423.6,164.4 423.7,163.8 424.2,165.1 423.7,165.8 424.8,168.1 424.7,169.7 425.3,170.3 425.0,170.8 425.8,169.6 426.2,168.0 426.2,167.3 426.9,169.5 427.0,170.5 427.0,170.9 426.6,172.0 427.2,172.6 426.9,172.5 427.8,171.4 427.9,168.9 427.8,168.3 428.3,167.5 427.9,166.8 428.4,165.5 428.1,164.5 428.4,162.1 428.5,162.0 428.4,160.1 428.8,158.9 429.2,159.0 428.7,158.2 429.5,155.4 429.6,155.4 430.0,155.4 429.7,153.3 430.0,152.9 429.6,151.6 430.3,150.5 430.1,148.2 430.2,146.9 430.6,147.0 430.7,146.2 430.5,144.6 431.2,143.6 430.6,141.6 431.1,141.0 431.2,141.7 432.0,143.1 432.1,144.5 431.9,144.5 432.4,143.3 432.3,140.3 432.0,141.1 432.0,138.0 432.7,137.7 432.2,136.5 432.9,135.0 432.7,134.1 432.9,134.5 433.1,133.1 433.4,130.2 432.7,131.1 433.2,129.0 433.7,127.5 433.4,127.0 433.5,128.8 433.8,128.2 433.4,131.2 433.9,131.2 434.4,132.6 434.5,133.2 434.3,134.5 433.7,136.3 434.4,136.6 434.3,138.0 434.6,139.3 434.8,141.5 435.0,142.5 434.6,141.3 434.5,144.4 434.5,145.2 435.6,146.4 435.1,146.1 435.6,147.1 434.8,148.9 435.8,151.2 435.5,149.9 435.5,152.0 435.8,152.9 435.6,155.1 436.1,154.7 435.9,155.3 435.9,156.3 436.0,158.5 436.2,157.2 436.6,156.3 435.8,155.8 436.1,154.2 436.6,152.8 436.4,150.8 436.2,149.8 436.5,149.6 436.3,148.2 436.1,148.6 437.1,145.9 437.3,145.8 436.8,143.7 437.1,143.8 437.3,141.8 437.4,140.2 437.4,140.9 436.7,137.8 437.2,137.5 437.6,139.1 437.2,138.7 438.3,142.2 438.5,141.1 438.5,143.2 438.5,144.5 438.4,143.0 439.0,142.2 438.5,140.2 438.5,140.1 439.4,139.4 439.8,139.1 439.9,137.3 439.6,136.6 439.9,134.3 439.9,134.0 440.1,132.7 440.3,131.7 440.6,130.8 440.6,128.5 441.6,128.8 441.3,127.0 441.3,128.8 442.1,128.7 441.8,129.4 441.7,130.6 442.5,132.3 443.2,132.3 443.2,131.2 442.9,129.1 443.7,127.9 444.6,126.1 443.9,126.6 444.8,124.4 445.0,124.4 444.5,123.1 445.2,122.1 445.1,119.0 445.5,118.7 445.1,117.2 445.2,117.2 445.8,115.9 446.2,116.0 445.7,118.7 445.9,119.2 446.0,120.8 446.6,120.0 446.6,122.0 446.6,121.4 446.6,119.0 446.9,117.6 446.7,116.7 447.1,117.3 447.8,115.2 447.8,115.2 447.7,113.3 448.3,113.7 448.0,116.4 448.2,115.4 448.3,118.2 448.1,117.6 447.6,118.6 448.2,121.1 447.8,122.7 448.2,122.1 448.4,123.5 448.1,124.4 448.8,125.3 448.6,127.3 448.3,125.4 448.8,125.6 448.6,123.2 448.2,124.0 448.9,120.8 449.0,121.6 448.6,120.8 448.6,118.5 448.9,118.7 449.0,117.0 449.4,114.9 449.1,114.2 449.0,112.5 448.9,113.3 449.8,110.3 449.9,109.6 449.4,108.9 449.8,109.9 449.5,110.9 449.1,112.2 449.4,114.3 449.8,113.9 450.1,115.7 450.0,117.1 450.1,117.0 450.3,119.3 450.3,120.4 449.7,122.1 450.3,123.0 449.9,122.7 450.6,125.4 450.5,124.5 450.3,126.4 450.1,125.5 449.9,123.9 450.5,124.2 450.7,123.1 450.2,122.0 450.3,119.4 450.8,118.3 450.2,118.3 450.3,117.1 450.4,115.7 451.3,114.5 450.6,114.5 451.4,112.4 451.3,110.8 450.5,109.7 451.2,110.0 450.7,107.4 451.2,107.2 451.1,105.5 451.2,105.6 451.3,104.5 451.7,103.8 451.8,102.9 451.6,100.8 451.5,98.9 451.8,99.4 452.5,97.3 452.0,96.0 452.3,95.2 452.9,94.7 452.4,93.1 452.3,94.4 452.5,96.4 452.2,97.2 452.3,97.3 452.1,98.0 452.5,99.1 452.9,99.9 452.5,102.0 452.8,103.2 452.5,103.5 453.2,106.4 452.6,105.3 453.4,108.6 452.9,109.6 453.2,110.5 452.6,109.5 453.5,111.7 452.8,113.5 452.7,113.2 453.3,115.0 453.8,116.8 453.7,117.6 454.0,118.0 453.9,120.0 454.0,121.6 454.5,122.0 455.3,121.3 454.8,119.3 455.5,118.6 455.7,117.7 455.8,117.6 455.9,119.5 455.8,122.0 456.7,123.1 456.2,123.5 456.9,123.5 456.9,125.7 457.1,126.3 457.1,127.3 457.0,125.6 457.2,125.1 457.4,123.2 457.2,124.0 457.6,122.7 458.3,119.8 457.7,118.8 457.6,117.7 458.4,117.7 458.1,116.2 458.5,115.0 459.4,115.1 459.9,114.2 460.2,115.8 459.7,115.4 460.5,117.2 460.5,119.0 460.7,120.0 460.4,121.5 460.7,121.6 461.0,122.3 460.6,124.0 461.3,124.1 460.7,124.9 461.2,126.9 461.1,127.6 461.2,129.1 461.4,128.4 461.6,127.2 462.4,126.4 462.4,125.4 463.1,124.0 463.2,123.9 463.8,122.0 463.7,120.9 464.7,119.4 464.3,119.0 464.6,118.0 465.2,115.6 465.0,115.0 465.1,116.1 465.2,117.6 465.0,117.9 465.1,119.4 465.3,120.2 466.1,122.1 465.5,122.0 466.0,124.3 466.0,124.1 466.1,127.0 466.2,127.8 466.1,128.3 466.1,130.3 466.4,130.8 466.9,132.1 466.8,132.6 467.6,133.2 467.3,135.0 467.8,137.8 467.6,137.8 467.8,137.2 467.5,136.7 467.9,135.3 467.5,132.9 468.4,131.4 467.7,130.6 468.6,130.8 468.1,129.0 469.0,128.3 468.8,126.5 468.5,124.9 468.9,123.8 469.2,122.6 469.1,122.0 469.7,122.5 470.2,125.3 470.5,125.5 471.1,126.4 471.4,126.8 471.1,128.2 471.3,128.7 471.7,130.8 471.7,132.2 472.2,133.0 472.6,134.7 472.5,136.3 472.2,137.3 472.6,137.8 472.7,136.2 473.0,136.2 472.5,135.2 473.6,132.5 473.7,132.4 473.9,131.2 473.5,130.8 473.5,128.8 474.0,128.0 474.0,127.3 473.6,125.7 474.7,125.7 474.0,124.0 474.7,122.1 475.1,123.0 475.0,121.4 474.9,119.0 475.2,118.5 475.6,118.4 475.9,115.6 476.5,116.4 476.4,113.6 476.4,113.3 476.4,113.5 477.4,115.7 477.5,116.8 478.2,114.9 477.7,114.1 478.5,114.1 478.3,112.4 478.8,113.5 478.4,114.4 478.4,116.3 479.2,117.0 479.6,117.2 479.5,118.2 479.6,120.3 479.4,121.7 479.9,123.3 479.7,123.1 480.0,124.0 480.5,125.2 480.3,127.3 480.1,128.0 480.7,128.5 480.8,129.0 481.0,130.8 480.7,130.3 481.0,128.1 481.0,128.0 481.7,126.9 481.1,125.4 481.6,123.7 482.1,123.2 482.3,122.4 481.8,122.2 482.2,120.3 482.1,119.1 482.9,117.6 483.4,117.7 483.8,118.2 484.4,120.7 483.6,120.0 484.5,122.2 484.3,122.4 484.8,123.8 485.5,125.9 484.9,126.4 485.7,127.4 485.3,129.1 485.6,129.6 486.1,129.1 485.3,130.2 485.7,133.5 486.0,133.4 486.4,132.0 486.4,131.1 486.4,129.8 487.0,129.6 486.2,128.2 487.3,126.6 486.6,124.7 487.1,124.7 487.3,125.5 487.5,127.4 487.5,128.3 487.9,129.3 488.0,129.6 487.9,131.8 488.3,132.6 489.1,132.7 488.4,134.5 489.6,136.6 489.1,137.0 489.7,137.8 489.5,139.7 489.7,141.2 490.2,140.9 490.4,141.6 490.6,143.0 490.9,144.8 490.6,145.8 491.7,147.5 491.6,147.0 491.7,148.3 491.9,150.8 492.2,150.9 492.1,149.9 492.7,148.6 492.5,148.7 493.2,146.6 493.8,144.8 493.9,144.2 494.0,142.8 493.2,143.3 493.6,139.9 493.6,139.5 494.4,139.9 493.9,136.7 493.8,137.7 494.3,134.5 494.5,134.3 494.4,133.3 494.9,132.2 495.2,131.0 495.4,130.5 495.3,128.0 495.2,127.4 496.0,127.7 495.9,126.2 495.9,124.7 495.7,124.5 495.8,126.6 496.2,128.9 496.2,129.1 496.7,129.0 497.1,130.8 497.9,132.7 498.0,133.1 498.5,134.3 498.5,135.7 499.6,137.6 499.7,137.8 500.4,139.6 500.0,141.0 500.2,140.5 500.9,142.2 501.2,141.7 501.6,140.4 501.9,138.9 501.4,137.6 502.2,137.6 502.3,136.1 502.5,137.2 503.2,138.4 503.0,139.0 502.9,140.0 503.6,141.3 504.2,140.2 503.7,139.5 503.5,137.8 503.7,136.9 504.0,136.5 504.4,134.3 504.8,133.7 504.2,131.6 503.9,130.9 504.6,129.6 504.6,129.1 504.3,130.1 504.4,130.6 504.9,133.0 504.8,134.0 504.9,133.8 505.5,136.2 505.4,137.5 505.3,137.0 505.0,139.3 505.7,139.2 505.8,142.4 505.8,143.5 505.7,144.3 505.8,144.8 505.5,143.8 506.4,143.3 506.8,141.3 506.0,141.0 507.1,140.4 507.2,137.1 507.1,138.2 507.1,136.1 507.0,135.2 507.5,133.6 508.1,131.8 507.4,132.3 508.2,130.5 508.5,128.8 508.0,127.3 508.5,127.3 509.0,127.9 508.8,129.4 508.9,129.9 508.5,132.2 509.0,132.2 509.2,132.5 509.6,134.3 509.3,135.1 509.1,137.3 509.7,137.8 510.3,139.4 510.6,140.4 511.1,140.4 511.2,139.4 511.8,137.7 511.7,136.7 511.4,137.1 512.5,135.5 511.8,134.7 512.5,132.6 512.7,134.4 513.7,134.3 514.0,132.0 514.8,130.8 514.9,130.8 515.5,131.0 515.7,131.8 515.2,134.4 515.9,135.5 516.0,136.1 515.7,135.2 516.6,134.7 516.8,133.4 516.8,131.9 516.6,131.1 517.1,129.0 516.6,129.5 516.7,126.7 517.4,127.8 517.2,125.5 517.0,123.4 517.5,123.6 517.8,122.6 517.8,120.3 517.8,120.1 518.6,119.1 518.3,118.4 518.4,117.4 518.5,115.9 518.2,116.4 518.5,118.0 518.8,120.2 518.8,119.4 519.7,120.5 519.2,122.1 519.9,123.8 520.0,124.8 520.5,126.5 521.2,126.4 520.9,127.7 521.3,129.1 521.0,128.1 521.9,126.2 521.3,124.8 521.7,125.9 522.1,122.7 522.6,121.8 522.1,121.6 522.8,121.2 522.3,120.3 522.7,118.9 522.5,117.3 522.8,115.9 523.2,118.2 523.4,118.3 522.6,119.6 522.7,121.2 523.7,122.1 522.8,122.5 523.5,124.0 523.8,123.5 523.2,124.3 524.1,126.5 523.8,128.5 523.4,128.3 524.0,129.4 523.9,130.8 524.3,131.7 524.3,133.2 524.3,135.3 524.9,134.8 524.8,136.7 524.6,136.7 525.1,138.7 525.3,137.9 525.9,136.8 525.8,135.5 525.5,134.2 526.6,133.9 526.5,132.6 526.7,132.6 527.7,130.8 528.4,130.5 528.4,128.1 528.1,127.0 528.5,125.1 528.4,125.4 529.0,123.8 529.6,121.6 529.1,120.8 530.0,120.2 529.7,119.4 530.4,118.1 530.4,116.8 530.8,118.6 531.1,119.3 531.3,121.0 531.8,121.2 532.6,120.4 532.7,120.3 533.0,118.5 532.7,119.2 533.1,120.9 533.7,121.9 533.6,123.4 533.5,124.2 534.0,124.8 534.1,124.7 534.1,127.5 534.3,127.1 534.2,129.1 534.4,128.3 534.8,128.0 534.3,125.2 535.0,123.7 534.9,122.6 535.3,122.9 534.9,120.7 535.3,120.0 535.6,119.4 535.8,120.6 535.9,120.3 535.8,123.3 536.2,124.6 536.7,123.7 537.0,125.5 538.2,126.4 538.7,126.5 538.7,128.8 539.2,128.7 539.6,130.8 539.9,129.1 540.2,127.8 539.4,126.9 540.1,127.2 540.2,124.5 539.8,124.2 540.0,124.0 540.3,121.9 539.6,121.9 540.6,120.4 540.4,119.1 540.6,118.0 540.3,116.4 540.3,114.1 540.4,113.1 540.7,112.0 540.1,112.4 540.0,109.9 540.4,110.6 541.0,107.4 540.5,107.3 540.4,107.7 541.8,110.0 541.9,110.8 542.5,109.8 542.3,109.5 542.5,108.4 543.0,105.7 543.1,105.5 542.8,106.7 543.3,109.0 543.2,109.0 544.1,109.8 544.2,111.1 544.2,112.6 544.1,112.6 544.7,115.0 544.8,115.2 544.6,115.9 545.6,117.4 545.4,118.7 545.7,119.0 545.4,119.8 546.3,121.3 545.9,122.2 546.0,125.2 546.1,123.9 546.3,126.4 546.3,126.1 546.6,128.3 546.9,127.1 547.2,127.3 547.0,125.7 547.2,122.9 547.2,123.5 547.5,122.0 547.5,121.4 547.7,118.9 547.9,119.4 547.1,116.9 547.1,116.3 547.3,115.0 547.6,114.3 547.6,112.1 547.4,112.9 548.0,110.8 548.1,112.2 547.9,112.0 548.6,114.4 549.2,114.6 549.3,117.4 548.9,117.5 548.8,118.9 549.4,119.6 549.9,121.5 549.8,121.4 549.4,122.8 550.1,123.0 549.9,126.1 550.3,127.4 549.9,127.6 550.1,129.0 551.0,130.1 550.7,130.9 551.2,130.5 550.5,129.6 551.1,128.2 551.5,125.8 551.4,126.5 550.6,124.8 551.3,123.4 551.2,121.5 551.5,122.2 551.8,119.2 551.7,118.9 552.1,118.9 551.7,116.6 551.9,116.1 551.5,116.9 551.8,118.8 552.3,119.2 552.0,119.4 552.2,120.5 552.3,122.0 552.9,123.4 552.9,124.5 552.7,125.3 553.3,126.6 553.6,124.3 553.8,125.4 554.3,124.4 553.8,121.7 553.7,120.0 554.5,120.0 554.0,119.4 554.7,117.8 555.3,117.1 555.0,115.4 554.9,114.2 556.2,114.6 555.5,113.6 556.1,111.7 555.8,109.9 556.4,108.9 557.1,109.3 557.3,107.9 557.4,107.6 557.5,105.5 558.3,106.8 559.0,106.1 558.9,108.2 559.0,107.2 559.6,105.2 559.5,105.1 559.9,104.7 559.9,102.9 560.0,105.2 559.9,106.1 560.5,107.0 560.9,108.3 561.0,108.4 560.5,109.6 560.9,111.0 561.3,113.1 560.7,112.3 561.3,114.3 561.3,115.2 561.6,115.5 561.7,117.1 562.3,118.5 562.9,119.0 562.7,121.3 563.1,119.9 563.3,118.6 563.6,117.4 562.9,118.1 563.6,116.7 563.5,116.0 564.2,114.7 564.2,113.9 563.6,112.6 564.1,110.8 563.9,110.1 564.1,108.3 564.3,106.6 564.7,107.2 564.6,104.5 565.2,103.5 564.6,101.9 565.4,103.0 565.5,100.9 565.6,100.3 565.5,98.5 566.3,97.8 565.6,97.7 566.5,95.2 566.9,95.4 566.6,93.2 566.9,92.4 567.3,93.9 568.4,93.3 569.3,92.8 569.8,91.5 569.8,91.2 570.9,90.7 570.8,88.9 571.0,86.9 571.4,85.8 571.3,85.6 572.1,85.4 571.4,83.9 572.0,82.8 572.5,83.2 572.7,83.8 573.1,86.1 573.6,88.0 573.4,88.0 573.5,88.1 574.2,90.7 574.6,90.9 574.7,92.4 575.3,94.0 576.1,94.2 576.6,92.7 576.6,92.9 577.5,91.5 577.4,93.7 578.1,93.6 577.6,93.8 578.1,96.6 577.8,97.0 578.2,98.2 578.5,99.4 578.8,98.2 579.1,96.5 579.4,96.0 579.4,95.2 580.0,94.9 579.2,93.2 579.9,91.5 580.1,90.8 580.0,89.2 580.3,88.0 581.1,86.7 580.7,85.0 580.8,84.4 581.0,83.0 581.3,82.8 581.2,81.3 581.6,80.6 581.9,79.9 581.9,78.3 582.1,77.8 582.1,77.5 582.7,76.1 582.2,73.5 582.7,73.1 583.1,73.0 583.2,71.8 583.6,68.8 584.2,69.9 583.9,67.9 585.2,67.0 585.2,68.8 585.2,69.5 585.8,70.0 586.2,70.4 585.6,72.5 586.4,72.3 586.5,73.8 586.4,75.6 586.6,76.6 587.1,77.4 587.3,78.2 587.8,79.4 587.1,80.3 588.2,82.2 588.0,82.8 588.2,82.7 589.0,85.0 589.2,85.4 589.0,84.0 589.9,83.5 590.2,82.5 589.5,81.1 590.3,81.2 590.0,78.1 590.8,78.4 590.2,76.8 591.3,75.6 591.0,73.7 591.6,73.3 591.3,72.6 591.9,73.0 592.5,74.3 593.1,73.0 592.9,72.8 593.1,71.0 593.3,70.3 592.8,68.7 593.1,67.8 593.4,66.3 593.6,66.3 593.0,64.9 593.1,62.8 593.6,62.0 594.2,62.1 594.9,63.7 594.8,65.5 595.3,64.6 595.1,64.3 595.1,63.3 595.6,61.0 595.5,60.7 595.2,58.1 595.8,57.7 595.8,59.2 596.5,60.3 595.8,61.8 596.8,62.7 596.1,63.8 596.0,64.4 596.8,65.4 596.5,66.6 596.9,67.4 596.6,67.9 597.5,70.8 597.1,70.8 597.3,70.9 598.3,72.6 598.6,72.2 598.8,71.4 598.8,68.8 598.9,68.5 599.2,66.1 599.7,65.5 600.9,66.4 601.7,64.5 601.4,65.1 601.7,62.5 602.3,62.0 603.0,62.0 602.6,60.4 603.2,59.5 603.5,57.0 603.5,56.8 604.0,54.9 604.5,53.7 604.0,53.6 605.0,52.2 604.9,51.5 604.9,51.8 605.4,53.3 605.1,53.7 605.1,55.2 605.1,56.4 606.0,58.2 606.2,59.5 605.8,60.6 606.2,60.9 605.8,63.0 606.2,63.8 606.5,64.9 606.3,66.7 606.1,66.0 606.8,68.7 606.6,70.2 606.7,69.5 607.2,71.3 606.6,71.2 606.8,72.9 607.4,74.3 607.1,75.9 608.0,76.5 607.8,76.5 608.8,78.3 608.3,79.3 608.8,80.4 609.0,80.3 609.1,77.7 608.8,78.1 609.8,76.6 609.3,76.0 609.7,74.5 609.4,73.0 610.4,72.6 610.2,70.8 610.7,69.5 610.2,69.5 611.1,68.5 610.8,67.4 610.4,66.3 610.8,63.5 611.2,63.5 611.4,62.0 611.3,60.2 612.1,60.1 611.8,59.5 612.2,58.8 612.1,55.9 611.9,56.0 612.3,53.5 612.7,53.7 612.8,52.4 613.5,52.9 613.1,55.5 613.6,54.6 613.5,55.7 614.1,57.9 614.1,58.5 614.4,58.6 614.9,60.3 615.3,62.0 615.4,60.3 615.0,60.8 615.8,59.5 615.9,56.5 616.4,56.0 615.5,55.0 615.6,54.1 616.4,53.3 616.3,53.4 616.4,52.2 616.8,49.8 616.7,48.9 617.2,49.3 616.7,52.1 617.0,52.2 617.6,54.4 617.6,55.6 618.0,56.0 617.9,56.8 618.2,57.3 618.7,58.3 618.9,60.6 618.4,60.3 619.1,62.7 619.3,62.6 618.8,63.7 619.3,65.5 619.5,67.2 619.5,66.6 619.8,68.5 620.4,70.8 620.2,70.1 620.4,71.7 620.1,69.4 620.1,68.8 620.4,68.2 621.2,68.3 621.3,66.7 621.6,66.3 620.9,63.9 621.8,64.3 621.4,62.0 621.7,60.3 622.7,58.7 622.8,58.5 623.4,58.9 623.3,60.9 623.1,62.6 623.0,63.2 623.0,64.4 623.6,65.2 623.9,65.8 623.8,67.7 624.2,68.3 623.9,69.1 623.7,70.1 624.9,71.7 624.4,73.0 625.1,73.4 625.6,71.5 625.1,71.5 625.4,69.2 626.3,70.4 626.6,67.7 626.3,67.3 627.3,67.4 627.5,69.3 627.7,70.8 628.3,72.8 628.9,72.6 629.4,71.1 629.6,70.1 629.5,68.1 630.2,67.0 629.3,66.3 630.2,66.4 630.2,64.7 629.9,63.1 630.5,63.5 630.4,60.6 630.7,59.5 631.5,60.2 630.7,58.5 631.2,56.1 631.6,55.9 632.1,56.6 631.4,57.6 632.4,58.6 632.8,60.8 632.8,62.5 632.6,62.9 633.2,62.3 632.8,61.6 633.1,59.3 633.8,58.5 634.6,58.1 634.2,57.5 634.9,54.2 635.1,54.2 635.8,54.6 636.5,55.9 637.1,55.9 636.9,57.3 637.2,58.1 636.9,60.8 637.6,60.9 637.7,62.0 637.4,59.8 638.2,59.2 638.7,57.9 638.9,58.4 638.2,56.1 638.9,55.0 639.1,54.3 640.0,51.7 640.1,51.6 640.0,50.7 641.2,49.8 641.2,49.1 641.2,46.6 641.1,45.3 642.2,44.4 642.0,43.9 642.4,42.3 641.7,41.1 642.1,39.5 642.2,39.4 642.4,38.4 642.7,40.1 643.0,39.8 643.1,42.7 643.3,42.1 643.2,42.9 643.4,44.8 642.9,45.0 643.8,45.9 643.0,48.8 643.5,48.9 644.1,46.6 644.1,47.6 644.4,44.6 644.6,43.5 644.0,43.0 644.9,42.1 644.7,41.0 645.3,38.7 645.6,39.2 645.8,36.7 645.1,36.3 645.4,35.6 645.9,34.0 646.6,34.2 646.6,32.4 647.3,31.4 648.1,32.8 647.5,34.4 648.0,35.0 648.1,36.1 648.6,36.6 649.2,38.6 648.9,38.4 648.6,40.1 648.8,41.9 648.9,41.8 649.2,44.1 649.5,43.4 649.6,45.4 649.4,45.8 650.3,47.9 650.6,49.1 650.8,49.8 650.7,50.8 651.5,52.9 651.5,52.5 651.7,55.2 650.8,54.1 651.1,57.1 651.5,57.5 651.3,57.5 651.8,60.3 652.0,61.2 651.4,61.3 652.5,63.7 652.1,63.8 652.4,64.8 653.0,65.1 653.4,67.6 653.4,67.9 653.5,69.1 653.9,71.2 654.0,71.3 654.2,73.2 654.7,73.4 655.1,74.4 655.3,76.9 656.1,76.9 656.8,76.5 656.4,74.2 656.2,73.0 657.0,73.2 657.6,71.2 657.3,70.8 658.0,70.6 658.0,68.8 657.6,67.2 658.4,66.0 658.6,65.8 658.4,63.8 658.8,62.1 658.9,60.6 658.6,59.7 658.8,59.5 659.1,58.4 659.6,57.7"/>
<text transform="translate(94.10 288.60) scale(0.9136 1)" font-size="8.10" fill="#000" text-anchor="start">Initial Structure</text>
<text transform="translate(212.90 249.80) scale(0.9136 1)" font-size="8.10" fill="#0000ff" text-anchor="start">~5 - 12 ns: First Hinge Closure</text>
<text transform="translate(374.10 346.20) scale(0.9136 1)" font-size="8.10" fill="#ff0000" text-anchor="start">~15 ns: Sudden 2nd Hinge Closure Begins</text>
<text transform="translate(529.90 288.10) scale(0.9136 1)" font-size="8.10" fill="#006400" text-anchor="start">~20 - 25 ns: Final Closure of Second Hinge</text>
<g fill="none" stroke-linecap="round" stroke-linejoin="round">
<path d="M80.8 74.5C80.9 75.0 81.5 76.4 81.3 77.1C81.2 77.8 80.5 78.2 79.8 78.6C79.1 79.0 78.0 79.1 77.2 79.6C76.5 80.1 75.8 80.8 75.2 81.7C74.6 82.5 74.0 83.8 73.7 84.7C73.3 85.7 73.0 86.5 73.2 87.3C73.3 88.1 74.0 89.0 74.7 89.3C75.4 89.7 76.7 89.8 77.2 89.3C77.8 88.9 77.5 87.7 77.8 86.8C78.0 85.8 78.4 84.7 78.8 83.7C79.2 82.7 79.9 81.5 80.3 80.7C80.7 79.8 81.2 79.0 81.3 78.6" stroke="#12b012" stroke-width="0.60"/>
<path d="M72.1 60.2C72.6 60.5 74.4 61.3 74.7 61.8C74.9 62.3 73.6 62.9 73.7 63.3C73.8 63.7 75.2 63.9 75.2 64.3C75.2 64.8 73.7 65.3 73.7 65.9C73.7 66.4 75.1 66.9 75.2 67.4C75.3 67.9 74.6 68.5 74.2 68.9C73.8 69.3 73.0 69.5 72.7 69.9C72.3 70.4 72.0 71.0 72.1 71.5C72.3 72.0 73.8 72.6 73.7 73.0C73.5 73.4 71.1 73.9 71.1 74.0C71.1 74.1 72.9 73.3 73.7 73.5C74.4 73.7 75.0 75.0 75.7 75.0C76.4 75.1 77.2 74.4 77.8 74.0C78.4 73.6 78.8 72.7 79.3 72.5C79.8 72.2 80.4 72.3 80.8 72.5C81.2 72.7 81.5 73.5 81.8 73.5C82.2 73.5 82.7 72.7 82.9 72.5" stroke="#12b012" stroke-width="0.60"/>
<path d="M80.3 72.0C80.4 71.2 80.5 68.6 80.8 67.4C81.2 66.2 81.8 65.3 82.3 64.8C82.9 64.3 83.8 64.2 84.4 64.3C85.0 64.5 85.7 65.2 85.9 65.9C86.1 66.5 85.7 67.7 85.4 68.4C85.1 69.1 84.3 69.5 83.9 69.9C83.5 70.4 83.0 70.8 82.9 71.0" stroke="#12b012" stroke-width="0.60"/>
<path d="M86.9 67.4C87.5 67.3 89.2 67.0 90.5 66.9C91.8 66.8 93.8 66.5 94.6 66.9C95.4 67.2 95.1 68.1 95.1 68.9C95.1 69.8 95.2 71.4 94.6 72.0C94.0 72.6 92.6 72.6 91.5 72.5C90.4 72.4 88.6 72.0 88.0 71.5C87.3 71.0 87.6 70.1 87.4 69.4C87.3 68.7 87.0 67.7 86.9 67.4" stroke="#12b012" stroke-width="0.60"/>
<path d="M96.1 52.6C96.3 52.8 97.2 53.4 97.1 54.1C97.1 54.8 96.1 56.3 95.6 56.7C95.1 57.0 94.2 55.9 94.1 56.2C94.0 56.4 95.2 57.5 95.1 58.2C95.0 58.9 94.0 60.2 93.6 60.2C93.1 60.3 92.4 58.5 92.3 58.7C92.3 58.9 93.2 60.7 93.1 61.3C93.0 61.9 92.3 62.3 91.7 62.3C91.1 62.3 90.3 61.4 89.5 61.3C88.7 61.2 87.4 61.4 86.9 61.8C86.4 62.1 86.3 62.7 86.4 63.3C86.6 63.9 87.9 64.8 88.0 65.3C88.0 65.9 87.4 66.4 86.9 66.9C86.5 67.4 85.7 67.9 85.4 68.4C85.1 68.9 85.0 69.7 84.9 69.9" stroke="#12b012" stroke-width="0.60"/>
<path d="M67.4 94.3C67.2 94.7 66.6 95.8 66.3 96.5C66.0 97.3 65.5 98.2 65.7 98.9C66.0 99.5 67.0 99.9 67.7 100.3C68.4 100.7 69.3 100.8 69.9 101.3C70.5 101.8 71.3 102.5 71.4 103.2C71.5 103.9 70.9 104.8 70.3 105.3C69.8 105.9 68.9 106.1 68.1 106.3C67.3 106.4 66.5 106.4 65.7 106.3C64.9 106.2 63.9 105.5 63.3 105.7C62.7 106.0 62.2 106.9 61.8 107.7C61.5 108.4 61.3 109.2 61.2 110.0C61.2 110.8 61.6 111.6 61.5 112.4C61.5 113.2 60.8 114.1 61.0 114.8C61.1 115.5 61.9 116.1 62.5 116.6C63.1 117.1 63.9 117.5 64.6 117.9C65.2 118.3 66.3 119.0 66.6 119.2" stroke="#12b012" stroke-width="0.60"/>
<path d="M59.2 97.5C59.5 97.4 60.4 97.2 61.0 97.1C61.6 97.0 62.3 96.6 62.8 96.8C63.3 97.0 63.3 98.1 63.8 98.3C64.3 98.6 65.2 98.6 65.7 98.3C66.2 98.1 66.5 97.4 66.9 96.9C67.2 96.4 67.7 95.9 67.9 95.4C68.1 94.8 68.0 94.1 68.2 93.6C68.5 93.0 69.0 92.6 69.5 92.2C69.9 91.7 70.3 91.0 70.8 90.9C71.3 90.8 72.0 91.2 72.6 91.4C73.1 91.7 73.9 91.9 74.2 92.3C74.5 92.8 74.2 93.6 74.3 94.2C74.3 94.8 74.3 95.4 74.5 96.0C74.6 96.6 74.9 97.2 75.3 97.7C75.6 98.1 76.2 98.8 76.7 98.8C77.2 98.9 77.8 98.2 78.4 98.0C78.9 97.8 79.8 98.0 80.2 97.6C80.6 97.3 80.9 96.4 80.8 95.9C80.7 95.4 80.1 94.8 79.6 94.5C79.1 94.1 78.5 93.7 77.9 93.7C77.3 93.7 76.5 94.4 76.2 94.5" stroke="#12b012" stroke-width="0.60"/>
<path d="M120.7 120.0C120.9 119.8 121.8 118.6 121.8 118.6C121.9 118.7 121.5 119.9 121.1 120.2C120.7 120.6 119.9 120.4 119.4 120.7C118.9 120.9 118.2 121.2 117.9 121.7C117.7 122.1 118.0 123.1 117.7 123.4C117.4 123.7 116.5 123.5 116.0 123.4C115.4 123.3 114.8 123.2 114.3 123.0C113.7 122.7 113.2 122.4 112.8 122.0C112.4 121.6 112.3 121.0 111.9 120.5C111.5 120.1 110.8 119.9 110.5 119.4C110.2 119.0 110.0 118.3 110.0 117.8C110.1 117.2 110.8 116.7 110.8 116.2C110.8 115.7 110.4 115.0 110.1 114.6C109.7 114.2 109.2 113.6 108.7 113.5C108.2 113.4 107.6 113.8 107.0 113.9C106.4 114.1 105.9 114.3 105.3 114.4C104.8 114.6 104.1 114.6 103.7 114.9C103.2 115.2 102.8 115.7 102.4 116.1C101.9 116.5 101.6 117.1 101.0 117.2C100.5 117.4 99.9 116.9 99.3 117.0C98.8 117.1 98.0 117.6 97.7 117.7" stroke="#12b012" stroke-width="0.60"/>
<path d="M65.8 109.2C66.0 109.5 66.9 110.0 67.1 110.6C67.4 111.2 67.2 111.9 67.2 112.5C67.3 113.2 67.1 114.0 67.4 114.5C67.8 114.9 68.8 114.7 69.3 115.1C69.8 115.5 70.1 116.1 70.4 116.7C70.7 117.3 71.1 118.0 71.0 118.5C70.9 119.1 70.2 119.6 69.9 120.1C69.5 120.6 68.9 121.1 68.8 121.7C68.7 122.3 68.8 123.2 69.1 123.6C69.4 124.1 70.2 124.5 70.8 124.6C71.4 124.6 72.2 124.4 72.7 124.0C73.1 123.6 73.4 122.9 73.5 122.2C73.6 121.6 73.3 120.9 73.4 120.3C73.5 119.7 73.8 119.1 74.1 118.5C74.3 117.9 75.0 117.4 75.1 116.8C75.1 116.2 74.5 115.6 74.4 115.0C74.4 114.4 74.8 113.6 74.6 113.0C74.4 112.5 73.6 112.0 73.1 111.9C72.5 111.8 71.8 112.2 71.2 112.5C70.6 112.7 70.1 113.1 69.6 113.5C69.1 113.9 68.6 114.3 68.2 114.8C67.8 115.4 67.4 116.0 67.3 116.6C67.2 117.2 67.5 117.9 67.7 118.5C68.0 119.1 68.5 119.5 68.7 120.1C68.9 120.7 68.7 121.6 69.1 122.0C69.5 122.4 70.7 122.5 71.0 122.5" stroke="#12b012" stroke-width="0.60"/>
<path d="M99.2 120.8C98.9 120.6 98.0 120.0 97.6 119.5C97.1 119.0 97.0 118.0 96.5 117.8C96.0 117.6 95.1 117.8 94.5 118.1C93.9 118.4 93.3 118.9 93.0 119.5C92.6 120.1 92.4 120.8 92.4 121.5C92.3 122.1 92.5 122.8 92.6 123.5C92.6 124.2 92.5 124.9 92.5 125.5C92.6 126.2 92.8 126.9 92.9 127.5C93.1 128.2 93.4 129.0 93.2 129.6C93.1 130.2 92.1 130.6 91.9 131.1C91.8 131.7 92.7 132.9 92.5 133.1C92.3 133.3 91.2 132.7 90.6 132.3C90.1 131.9 89.4 131.4 89.2 130.8C89.1 130.2 89.8 129.5 89.9 128.9C90.1 128.2 89.7 127.3 90.1 126.8C90.4 126.3 91.3 126.3 91.9 125.9C92.5 125.6 92.9 124.7 93.4 124.6C94.0 124.5 95.0 125.3 95.3 125.4" stroke="#12b012" stroke-width="0.60"/>
<path d="M120.4 120.0C120.2 120.2 119.6 121.1 119.2 121.7C118.9 122.2 118.6 122.9 118.1 123.4C117.7 123.9 117.0 124.7 116.5 124.6C116.0 124.6 115.6 123.5 115.0 123.2C114.5 122.8 113.8 122.5 113.2 122.4C112.5 122.2 111.6 122.7 111.1 122.4C110.6 122.1 110.7 120.9 110.3 120.5C109.8 120.1 108.8 120.5 108.3 120.1C107.8 119.8 107.4 119.0 107.3 118.3C107.2 117.7 107.3 116.8 107.7 116.3C108.1 115.9 109.2 116.1 109.6 115.6C110.0 115.2 110.3 114.3 110.3 113.7C110.3 113.0 110.0 112.4 109.7 111.7C109.4 111.1 109.1 110.3 108.6 110.0C108.1 109.7 107.2 109.8 106.5 109.9C105.9 110.1 105.0 110.7 104.7 110.8" stroke="#12b012" stroke-width="0.60"/>
<path d="M68.7 115.3C68.9 115.5 69.7 116.0 70.1 116.3C70.6 116.7 70.9 117.3 71.3 117.7C71.7 118.1 72.2 118.7 72.7 118.8C73.3 118.9 74.1 118.7 74.5 118.3C74.8 117.9 74.4 116.9 74.8 116.5C75.1 116.2 76.0 116.4 76.5 116.0C77.0 115.7 77.1 115.0 77.6 114.6C78.1 114.3 78.8 114.3 79.2 113.9C79.7 113.5 79.7 112.7 80.2 112.4C80.7 112.0 81.4 112.0 82.0 112.0C82.5 111.9 83.2 112.1 83.7 112.0C84.3 111.8 85.0 111.5 85.3 111.1C85.7 110.7 85.6 109.9 85.9 109.4C86.2 108.9 87.0 108.7 87.2 108.2C87.3 107.7 87.1 106.9 86.8 106.4C86.5 105.9 85.9 105.7 85.5 105.3C85.0 104.8 84.4 104.4 84.3 103.9C84.1 103.4 84.4 102.7 84.5 102.1C84.7 101.5 85.2 101.0 85.2 100.5C85.3 99.9 84.8 99.2 85.0 98.7C85.2 98.2 86.1 98.0 86.4 97.5C86.7 97.1 86.7 96.1 86.7 95.8" stroke="#12b012" stroke-width="0.60"/>
<path d="M91.1 131.1C90.8 131.2 89.9 132.0 89.4 131.9C88.8 131.8 88.3 131.1 87.9 130.6C87.6 130.1 87.6 129.2 87.1 128.9C86.7 128.6 85.7 128.5 85.2 128.7C84.7 128.9 84.2 129.7 84.1 130.2C84.0 130.8 84.7 131.8 84.5 132.1C84.2 132.5 83.2 132.4 82.6 132.3C82.0 132.2 81.3 131.9 80.9 131.4C80.5 131.0 80.6 130.0 80.1 129.7C79.7 129.3 78.9 129.3 78.3 129.2C77.7 129.1 76.9 129.2 76.4 128.9C75.9 128.6 75.5 127.9 75.3 127.3C75.2 126.7 75.3 126.0 75.2 125.4C75.2 124.8 75.2 124.1 75.0 123.5C74.8 122.9 74.4 122.2 73.9 121.9C73.4 121.7 72.5 122.1 72.0 121.9C71.4 121.7 70.7 121.2 70.5 120.7C70.2 120.2 70.4 119.1 70.4 118.8" stroke="#12b012" stroke-width="0.60"/>
<path d="M94.4 133.2C94.1 133.1 93.0 133.0 92.3 132.9C91.7 132.7 91.0 132.4 90.3 132.3C89.6 132.2 88.7 132.6 88.2 132.2C87.7 131.9 87.3 131.0 87.4 130.3C87.4 129.7 88.3 129.2 88.5 128.6C88.7 128.0 88.6 127.2 88.6 126.5C88.6 125.8 88.8 125.0 88.5 124.4C88.2 123.9 87.4 123.5 86.8 123.2C86.3 122.8 85.4 122.7 85.0 122.2C84.6 121.7 84.2 120.8 84.3 120.2C84.4 119.6 85.2 119.1 85.6 118.5C86.0 118.0 86.5 117.4 86.7 116.8C86.9 116.1 87.1 115.3 87.0 114.7C86.8 114.1 86.1 113.6 85.8 113.0C85.5 112.4 85.2 111.3 85.1 111.0" stroke="#12b012" stroke-width="0.60"/>
<path d="M92.0 106.1C92.3 106.2 93.3 106.6 93.8 107.0C94.3 107.4 95.1 107.9 95.2 108.4C95.4 109.0 94.9 109.7 94.7 110.4C94.4 111.0 94.3 111.8 93.9 112.2C93.4 112.6 92.6 112.6 92.0 112.8C91.3 113.0 90.7 113.2 90.1 113.5C89.5 113.8 89.0 114.6 88.4 114.6C87.9 114.7 87.2 114.1 86.7 113.7C86.2 113.2 85.6 112.7 85.4 112.1C85.2 111.5 85.7 110.6 85.4 110.1C85.1 109.6 84.0 109.5 83.7 109.0C83.3 108.5 83.6 107.7 83.4 107.1C83.2 106.4 83.1 105.7 82.7 105.2C82.2 104.7 81.5 104.3 80.9 104.2C80.3 104.2 79.7 104.9 79.0 104.9C78.4 104.9 77.5 104.7 77.2 104.2C76.8 103.8 76.8 102.8 77.0 102.2C77.2 101.6 78.0 100.9 78.2 100.6" stroke="#12b012" stroke-width="0.60"/>
<path d="M62.9 106.6C63.3 106.6 64.5 106.3 65.2 106.5C66.0 106.6 66.8 106.9 67.4 107.5C67.9 108.0 68.4 108.9 68.3 109.6C68.3 110.3 67.4 110.8 67.1 111.6C66.8 112.3 66.9 113.2 66.6 113.8C66.3 114.5 65.8 115.4 65.2 115.7C64.6 116.0 63.5 115.9 62.9 115.6C62.3 115.3 62.0 114.3 61.5 113.7C61.0 113.2 60.1 112.8 59.8 112.2C59.4 111.5 59.2 110.5 59.4 109.9C59.6 109.2 60.4 108.7 61.0 108.1C61.5 107.6 62.1 107.1 62.8 106.7C63.5 106.3 64.3 106.2 65.0 105.8C65.7 105.5 66.2 104.8 66.9 104.4C67.5 104.0 68.2 103.7 69.0 103.4C69.7 103.2 70.7 103.4 71.3 103.0C71.8 102.5 71.7 101.5 72.1 100.8C72.5 100.1 73.0 99.2 73.6 99.0C74.3 98.9 75.5 99.6 75.9 99.8" stroke="#12b012" stroke-width="0.60"/>
<path d="M120.2 108.9C119.9 108.8 119.0 108.4 118.4 108.3C117.8 108.1 117.0 108.3 116.5 108.0C116.0 107.7 115.4 107.0 115.3 106.5C115.2 105.9 115.5 105.0 115.9 104.6C116.3 104.2 117.1 104.3 117.7 104.0C118.2 103.7 118.7 103.2 119.2 102.8C119.8 102.5 120.5 102.4 121.0 102.1C121.5 101.7 122.2 100.6 122.2 100.6C122.3 100.6 121.5 101.7 121.0 102.1C120.5 102.5 119.8 102.9 119.3 102.8C118.7 102.7 118.3 101.9 117.8 101.6C117.2 101.3 116.4 101.2 115.9 101.3C115.3 101.5 114.8 102.0 114.3 102.5C113.8 102.9 113.2 103.3 112.9 103.8C112.6 104.3 112.4 105.0 112.4 105.6C112.5 106.2 112.9 106.9 113.2 107.4C113.5 108.0 114.1 108.7 114.3 109.0" stroke="#12b012" stroke-width="0.60"/>
<path d="M71.0 95.4C70.8 95.2 70.2 94.5 69.7 94.1C69.3 93.6 68.8 93.2 68.4 92.8C67.9 92.3 67.4 91.9 67.1 91.4C66.7 90.9 66.1 90.4 66.0 89.8C65.9 89.3 66.3 88.6 66.5 88.0C66.7 87.5 67.1 86.5 67.5 86.4C67.9 86.4 68.6 87.2 68.8 87.8C69.0 88.3 68.3 89.2 68.5 89.7C68.7 90.1 69.6 90.3 70.1 90.7C70.6 91.1 71.1 91.6 71.3 92.1C71.4 92.7 71.2 93.4 71.1 94.0C70.9 94.6 70.6 95.2 70.4 95.8C70.1 96.3 70.0 97.1 69.5 97.4C69.1 97.8 68.3 97.7 67.7 97.9C67.1 98.0 66.4 97.9 65.8 98.1C65.3 98.4 64.8 99.0 64.5 99.5C64.3 100.1 64.5 100.8 64.4 101.4C64.3 102.0 64.3 102.6 64.1 103.2C63.9 103.8 63.4 104.4 63.4 105.0C63.4 105.6 64.3 106.1 64.3 106.7C64.3 107.2 63.8 107.8 63.4 108.3C63.0 108.8 62.4 109.1 62.0 109.6C61.6 110.1 61.2 110.7 61.2 111.3C61.2 111.9 61.7 112.8 61.8 113.1" stroke="#12b012" stroke-width="0.60"/>
<path d="M98.4 128.3C98.5 128.5 99.0 129.5 99.5 129.7C100.0 130.0 100.7 130.0 101.3 129.8C101.8 129.7 102.2 129.0 102.8 128.8C103.4 128.6 104.1 128.9 104.6 128.7C105.2 128.5 105.9 128.2 106.1 127.7C106.3 127.2 105.9 126.4 106.1 125.9C106.3 125.3 107.0 125.0 107.4 124.6C107.7 124.1 107.9 123.4 108.4 123.1C108.8 122.7 109.7 122.9 110.1 122.6C110.5 122.2 110.7 121.5 110.8 120.9C111.0 120.3 110.9 119.6 111.1 119.1C111.3 118.5 112.1 118.1 112.1 117.6C112.2 117.1 111.6 116.4 111.2 116.1C110.7 115.7 110.0 115.8 109.4 115.5C108.9 115.2 108.3 114.8 108.1 114.3C107.9 113.8 108.0 112.9 108.4 112.5C108.7 112.1 109.8 112.1 110.1 112.0" stroke="#12b012" stroke-width="0.60"/>
<path d="M98.4 118.6C98.1 118.4 97.3 117.3 96.6 117.1C95.9 116.9 95.1 117.2 94.3 117.5C93.6 117.7 93.0 118.4 92.3 118.6C91.6 118.8 90.7 118.4 90.0 118.5C89.2 118.6 88.2 118.7 87.7 119.1C87.2 119.6 87.3 120.7 86.9 121.3C86.4 121.9 85.7 122.3 85.1 122.8C84.5 123.2 83.8 123.9 83.1 124.0C82.4 124.0 81.4 123.5 81.0 122.9C80.7 122.3 80.6 121.2 80.9 120.6C81.2 120.0 82.2 119.7 82.8 119.2C83.4 118.7 83.8 117.9 84.5 117.6C85.2 117.3 86.1 117.7 86.8 117.5C87.5 117.3 88.3 116.9 88.9 116.4C89.4 115.9 89.8 115.2 90.2 114.5C90.6 113.8 90.6 112.8 91.1 112.4C91.6 111.9 92.7 111.8 93.4 112.0C94.0 112.2 94.4 113.3 95.0 113.7C95.7 114.1 96.5 114.1 97.3 114.2C98.0 114.2 98.9 114.1 99.6 113.9C100.3 113.6 101.3 113.0 101.7 112.8" stroke="#12b012" stroke-width="0.60"/>
<path d="M117.2 94.6C116.9 94.3 116.1 92.9 115.4 92.7C114.7 92.5 113.5 92.9 112.9 93.4C112.3 93.9 112.1 94.9 111.8 95.7C111.5 96.5 110.8 97.5 111.0 98.2C111.2 98.9 112.4 99.3 113.0 99.9C113.6 100.5 114.3 101.2 114.5 102.0C114.6 102.8 114.0 103.7 114.0 104.6C113.9 105.4 113.8 106.5 114.2 107.2C114.6 107.8 115.7 108.2 116.5 108.3C117.3 108.4 118.2 107.8 119.0 107.7C119.9 107.7 121.0 108.3 121.6 108.0C122.3 107.6 122.6 106.5 122.9 105.7C123.2 104.9 123.6 103.2 123.4 103.1C123.2 103.1 121.9 104.4 121.7 105.2C121.5 105.9 121.9 106.9 122.2 107.7C122.5 108.5 123.1 109.2 123.4 110.0C123.6 110.8 123.8 111.7 123.8 112.6C123.7 113.4 123.5 114.3 123.2 115.1C122.9 115.9 122.6 116.8 122.0 117.4C121.4 118.0 120.2 118.5 119.8 118.8" stroke="#12b012" stroke-width="0.60"/>
<path d="M110.8 125.0C110.4 124.9 109.2 124.7 108.5 124.4C107.8 124.1 107.2 123.6 106.6 123.2C105.9 122.8 105.2 122.4 104.6 121.9C104.0 121.5 103.6 120.6 102.9 120.3C102.3 120.1 101.2 120.6 100.6 120.3C100.1 119.9 99.5 118.9 99.5 118.2C99.6 117.6 100.4 116.9 101.0 116.5C101.6 116.0 102.5 115.5 103.2 115.6C103.8 115.7 104.4 116.5 105.0 117.1C105.5 117.6 105.9 118.6 106.5 118.8C107.2 118.9 108.0 118.2 108.7 118.1C109.5 118.0 110.4 118.0 111.1 118.3C111.7 118.6 112.1 119.6 112.8 119.8C113.4 120.0 114.3 119.7 115.0 119.5C115.8 119.4 116.6 119.3 117.3 119.1C118.1 118.9 118.8 118.7 119.5 118.3C120.1 117.8 120.9 117.3 121.1 116.6C121.3 116.0 120.5 115.0 120.7 114.4C120.9 113.7 121.9 113.3 122.2 112.6C122.5 111.9 122.1 110.5 122.5 110.3C122.9 110.1 124.3 110.9 124.5 111.5C124.7 112.1 124.0 113.0 123.7 113.7C123.3 114.4 122.7 115.3 122.5 115.7" stroke="#12b012" stroke-width="0.60"/>
<path d="M85.5 129.9C85.7 129.8 86.6 129.2 87.1 129.1C87.7 129.1 88.4 129.7 88.9 129.7C89.5 129.6 90.0 129.1 90.6 128.8C91.1 128.6 91.7 128.4 92.3 128.2C92.9 128.0 93.6 127.8 93.9 127.4C94.3 126.9 94.2 126.1 94.6 125.6C95.0 125.2 95.8 125.0 96.1 124.5C96.3 124.0 96.0 123.3 96.1 122.7C96.3 122.1 96.9 121.5 96.8 121.0C96.8 120.4 96.2 119.9 95.9 119.4C95.5 118.9 95.1 118.3 94.6 118.0C94.1 117.7 93.4 117.7 92.8 117.7C92.2 117.8 91.6 118.5 91.1 118.4C90.6 118.4 90.0 117.7 89.7 117.2C89.5 116.7 89.7 116.0 89.5 115.4C89.3 114.8 88.7 114.1 88.5 113.8" stroke="#12b012" stroke-width="0.60"/>
<path d="M71.4 104.4C71.4 104.8 70.8 105.9 70.9 106.7C71.0 107.4 71.7 108.0 72.1 108.6C72.5 109.3 72.7 110.4 73.3 110.7C73.9 110.9 75.0 110.1 75.6 110.4C76.3 110.6 76.9 111.4 77.2 112.1C77.5 112.8 77.4 113.7 77.3 114.4C77.1 115.2 76.8 116.1 76.2 116.5C75.7 116.9 74.7 117.0 74.0 117.1C73.2 117.1 72.4 116.9 71.6 116.9C70.8 116.9 70.1 117.2 69.3 117.3C68.5 117.3 67.8 117.1 67.0 117.1C66.2 117.0 65.2 117.3 64.6 116.9C64.1 116.4 63.9 115.4 63.9 114.6C63.9 113.9 64.8 113.2 64.8 112.5C64.9 111.7 64.2 110.8 64.5 110.2C64.7 109.5 65.5 108.9 66.2 108.6C66.8 108.3 67.7 108.1 68.5 108.2C69.2 108.3 70.1 108.8 70.5 109.3C71.0 109.9 71.1 111.2 71.2 111.5" stroke="#12b012" stroke-width="0.60"/>
<path d="M114.6 124.9C114.4 124.7 113.4 124.1 113.2 123.5C113.1 123.0 113.3 122.2 113.5 121.6C113.8 121.0 114.6 120.6 114.7 120.0C114.7 119.4 114.0 118.8 113.9 118.2C113.9 117.6 114.2 116.9 114.3 116.3C114.5 115.6 114.7 115.0 115.0 114.4C115.2 113.8 115.7 113.1 115.6 112.6C115.5 112.0 114.7 111.5 114.2 111.2C113.6 111.0 112.8 111.0 112.2 111.2C111.6 111.5 111.3 112.2 110.8 112.6C110.2 112.9 109.5 113.2 108.9 113.1C108.3 113.1 107.7 112.6 107.1 112.4C106.5 112.2 105.7 111.8 105.2 112.0C104.7 112.2 104.3 112.9 103.9 113.5C103.6 114.0 103.2 114.9 103.0 115.2" stroke="#12b012" stroke-width="0.60"/>
<path d="M109.8 123.2C110.2 123.3 111.2 123.7 111.9 123.9C112.7 124.1 113.4 124.4 114.1 124.5C114.9 124.5 116.4 124.4 116.4 124.3C116.4 124.3 114.9 124.3 114.1 124.3C113.4 124.3 112.6 124.2 111.9 124.3C111.2 124.5 110.5 125.3 109.8 125.3C109.2 125.3 108.5 124.7 107.8 124.4C107.1 124.1 106.4 123.8 105.8 123.4C105.2 122.9 104.3 122.3 104.2 121.7C104.1 121.1 105.0 120.4 105.1 119.7C105.2 118.9 104.9 118.2 104.8 117.4C104.7 116.7 105.0 115.8 104.6 115.2C104.3 114.6 103.3 114.4 102.9 113.8C102.5 113.2 102.4 112.0 102.3 111.6" stroke="#12b012" stroke-width="0.60"/>
<path d="M66.1 124.3C66.1 123.9 65.8 122.6 66.0 121.8C66.2 121.1 67.0 120.5 67.4 119.8C67.7 119.1 68.2 118.2 68.1 117.5C68.0 116.7 67.5 115.8 66.9 115.3C66.3 114.9 65.1 115.3 64.5 114.8C63.9 114.4 63.6 113.5 63.3 112.7C62.9 112.0 62.9 111.1 62.5 110.4C62.1 109.8 61.1 109.4 60.7 108.8C60.3 108.1 60.1 107.1 60.2 106.4C60.4 105.6 61.4 105.1 61.6 104.3C61.8 103.6 61.2 102.7 61.2 101.9C61.2 101.1 61.4 100.3 61.7 99.5C61.9 98.8 62.3 98.1 62.6 97.3C62.9 96.5 63.2 95.8 63.3 95.0C63.4 94.2 63.1 93.4 63.0 92.5C63.0 91.7 62.6 90.7 63.0 90.1C63.3 89.5 64.3 88.9 65.0 88.8C65.7 88.6 66.6 89.1 67.4 89.2C68.2 89.3 69.2 89.0 69.8 89.4C70.5 89.7 70.8 91.1 71.4 91.2C72.1 91.4 73.1 90.9 73.7 90.5C74.4 90.1 74.8 89.0 75.5 88.8C76.2 88.6 77.5 89.2 77.9 89.3" stroke="#12b012" stroke-width="0.60"/>
<path d="M75.6 119.8C75.9 119.9 76.8 120.2 77.4 120.5C78.0 120.7 78.7 121.0 79.1 121.4C79.5 121.9 79.6 122.6 79.9 123.2C80.2 123.8 80.3 124.6 80.8 124.9C81.2 125.2 82.1 124.7 82.7 124.9C83.3 125.1 83.6 126.1 84.2 126.2C84.7 126.3 85.4 125.5 86.0 125.6C86.6 125.6 87.2 126.3 87.8 126.3C88.4 126.3 89.1 125.9 89.6 125.6C90.1 125.2 90.4 124.5 91.0 124.2C91.5 123.9 92.4 124.3 92.9 124.0C93.4 123.7 93.9 123.0 94.1 122.4C94.2 121.8 93.7 121.2 93.6 120.5C93.5 119.9 93.3 118.9 93.2 118.6" stroke="#12b012" stroke-width="0.60"/>
<path d="M106.4 125.8C106.7 125.6 107.5 124.9 108.1 124.7C108.8 124.5 110.1 124.4 110.2 124.5C110.2 124.6 108.9 125.3 108.3 125.3C107.7 125.3 107.0 124.9 106.4 124.6C105.8 124.3 105.2 123.7 104.6 123.6C104.0 123.6 103.3 124.0 102.7 124.2C102.0 124.4 101.3 124.9 100.7 124.8C100.1 124.6 99.8 123.7 99.2 123.4C98.6 123.2 97.8 123.4 97.1 123.2C96.5 122.9 95.7 122.6 95.4 122.1C95.1 121.6 95.2 120.6 95.5 120.1C95.8 119.5 96.6 119.2 97.2 118.9C97.8 118.6 98.5 118.5 99.1 118.2C99.6 117.8 100.3 117.2 100.5 116.7C100.6 116.1 100.3 115.3 100.2 114.6C100.2 114.0 100.4 113.2 100.2 112.6C100.0 112.0 99.5 111.4 99.1 110.9C98.7 110.3 98.4 109.7 98.0 109.1C97.6 108.6 97.2 107.9 96.6 107.7C96.0 107.5 95.0 107.6 94.6 107.9C94.1 108.3 94.1 109.3 94.1 109.9C94.0 110.6 94.1 111.3 94.1 112.0C94.1 112.6 93.8 113.5 94.0 114.0C94.3 114.5 95.5 114.5 95.8 115.0C96.1 115.5 95.9 116.7 95.9 117.1" stroke="#12b012" stroke-width="0.60"/>
<path d="M85.2 128.6C85.4 128.3 86.3 127.5 86.7 126.9C87.2 126.3 87.3 125.4 87.9 124.9C88.4 124.4 89.5 124.3 89.9 123.8C90.2 123.2 90.0 122.2 89.9 121.5C89.8 120.7 89.4 120.0 89.1 119.3C88.8 118.6 88.7 117.6 88.1 117.2C87.6 116.9 86.6 117.2 85.9 117.3C85.1 117.5 84.5 118.0 83.7 118.2C83.0 118.3 82.2 118.4 81.4 118.3C80.7 118.2 79.9 117.7 79.2 117.7C78.5 117.8 77.7 118.7 77.1 118.6C76.4 118.5 75.8 117.8 75.3 117.2C74.8 116.6 74.7 115.7 74.2 115.2C73.7 114.6 72.9 114.3 72.4 113.7C71.9 113.1 71.6 112.4 71.3 111.7C71.0 111.0 70.8 110.3 70.5 109.6C70.3 108.8 70.2 108.0 69.9 107.3C69.7 106.6 68.8 106.0 68.8 105.3C68.8 104.7 69.7 104.1 70.2 103.6C70.8 103.1 71.5 102.6 72.2 102.3C72.9 102.1 73.8 102.0 74.5 102.2C75.2 102.4 76.1 103.2 76.4 103.4" stroke="#12b012" stroke-width="0.60"/>
<path d="M98.8 120.1C98.8 119.7 98.9 118.5 98.5 117.9C98.2 117.3 97.5 116.8 96.9 116.5C96.2 116.2 95.2 116.7 94.7 116.3C94.2 115.9 93.9 114.8 94.0 114.2C94.1 113.6 94.8 112.8 95.4 112.5C95.9 112.2 97.0 112.9 97.5 112.5C98.1 112.2 98.6 111.2 98.6 110.6C98.5 110.0 97.9 109.2 97.4 108.7C96.8 108.3 96.1 108.1 95.4 107.8C94.7 107.5 93.9 107.5 93.3 107.2C92.6 106.9 92.1 106.1 91.4 106.1C90.8 106.0 90.1 106.6 89.4 106.9C88.7 107.1 87.7 107.1 87.3 107.5C86.9 108.0 86.6 109.0 86.7 109.6C86.9 110.3 87.9 110.6 88.2 111.3C88.6 111.9 88.7 112.6 88.9 113.3C89.1 114.0 89.3 114.8 89.3 115.5C89.4 116.2 89.0 116.9 89.1 117.7C89.1 118.4 89.3 119.1 89.5 119.8C89.6 120.5 89.6 121.4 90.0 122.0C90.4 122.5 91.1 123.0 91.7 123.3C92.4 123.6 93.3 123.5 93.8 123.8C94.4 124.2 95.1 124.9 95.3 125.5C95.5 126.1 94.8 127.1 95.1 127.7C95.3 128.3 96.5 128.8 96.8 129.0" stroke="#12b012" stroke-width="0.60"/>
<path d="M100.8 110.1C100.8 110.4 100.9 111.3 100.6 111.7C100.3 112.1 99.5 112.1 99.2 112.4C98.8 112.7 98.4 113.3 98.4 113.8C98.3 114.3 98.8 114.8 98.8 115.3C98.9 115.9 98.9 116.4 98.8 116.9C98.6 117.5 98.2 117.9 98.0 118.4C97.9 118.9 97.9 119.5 97.9 120.0C98.0 120.5 98.2 121.0 98.3 121.6C98.4 122.1 98.3 122.7 98.5 123.1C98.7 123.6 99.4 123.9 99.5 124.4C99.7 124.9 99.3 125.4 99.2 126.0C99.1 126.5 99.1 127.1 98.9 127.5C98.7 128.0 98.1 128.3 97.8 128.8C97.6 129.2 97.3 129.8 97.4 130.3C97.5 130.8 98.3 131.2 98.3 131.7C98.3 132.1 98.0 132.8 97.6 133.1C97.3 133.4 96.5 133.4 96.0 133.4C95.5 133.3 95.0 132.6 94.6 132.7C94.1 132.7 93.8 133.7 93.4 133.7C92.9 133.7 92.6 132.9 92.1 132.7C91.6 132.5 91.0 132.3 90.5 132.4C90.0 132.5 89.6 133.1 89.1 133.2C88.6 133.2 88.1 132.9 87.6 132.7C87.1 132.4 86.7 132.1 86.2 131.8C85.8 131.5 85.1 131.2 84.8 131.0" stroke="#fff" stroke-width="0.95"/>
<path d="M100.8 110.1C100.8 110.4 100.9 111.3 100.6 111.7C100.3 112.1 99.5 112.1 99.2 112.4C98.8 112.7 98.4 113.3 98.4 113.8C98.3 114.3 98.8 114.8 98.8 115.3C98.9 115.9 98.9 116.4 98.8 116.9C98.6 117.5 98.2 117.9 98.0 118.4C97.9 118.9 97.9 119.5 97.9 120.0C98.0 120.5 98.2 121.0 98.3 121.6C98.4 122.1 98.3 122.7 98.5 123.1C98.7 123.6 99.4 123.9 99.5 124.4C99.7 124.9 99.3 125.4 99.2 126.0C99.1 126.5 99.1 127.1 98.9 127.5C98.7 128.0 98.1 128.3 97.8 128.8C97.6 129.2 97.3 129.8 97.4 130.3C97.5 130.8 98.3 131.2 98.3 131.7C98.3 132.1 98.0 132.8 97.6 133.1C97.3 133.4 96.5 133.4 96.0 133.4C95.5 133.3 95.0 132.6 94.6 132.7C94.1 132.7 93.8 133.7 93.4 133.7C92.9 133.7 92.6 132.9 92.1 132.7C91.6 132.5 91.0 132.3 90.5 132.4C90.0 132.5 89.6 133.1 89.1 133.2C88.6 133.2 88.1 132.9 87.6 132.7C87.1 132.4 86.7 132.1 86.2 131.8C85.8 131.5 85.1 131.2 84.8 131.0" stroke="#12b012" stroke-width="0.60"/>
<path d="M69.6 114.1L77.6 113.0" stroke="#0b800b" stroke-width="1.84" stroke-linecap="butt"/>
<g fill="#25dc25" stroke="#0b800b" stroke-width="0.25"><ellipse cx="70.6" cy="114.0" rx="0.85" ry="2.62" transform="rotate(17 70.6 114.0)"/><ellipse cx="72.6" cy="113.7" rx="0.85" ry="2.62" transform="rotate(17 72.6 113.7)"/><ellipse cx="74.6" cy="113.4" rx="0.85" ry="2.62" transform="rotate(17 74.6 113.4)"/><ellipse cx="76.6" cy="113.1" rx="0.85" ry="2.62" transform="rotate(17 76.6 113.1)"/></g>
<path d="M84.6 130.7L92.6 129.8" stroke="#0b800b" stroke-width="1.49" stroke-linecap="butt"/>
<g fill="#25dc25" stroke="#0b800b" stroke-width="0.25"><ellipse cx="85.6" cy="130.6" rx="0.85" ry="2.12" transform="rotate(18 85.6 130.6)"/><ellipse cx="87.6" cy="130.4" rx="0.85" ry="2.12" transform="rotate(18 87.6 130.4)"/><ellipse cx="89.6" cy="130.1" rx="0.85" ry="2.12" transform="rotate(18 89.6 130.1)"/><ellipse cx="91.6" cy="129.9" rx="0.85" ry="2.12" transform="rotate(18 91.6 129.9)"/></g>
<path d="M80.3 116.0C80.3 115.6 80.3 114.4 80.3 113.6C80.3 112.9 80.6 111.9 80.3 111.3C79.9 110.7 79.1 110.3 78.4 110.0C77.7 109.7 76.6 109.9 76.1 109.4C75.6 109.0 75.2 107.9 75.3 107.3C75.3 106.6 76.1 106.0 76.6 105.4C77.1 104.8 77.7 104.3 78.2 103.7C78.7 103.1 79.2 102.4 79.4 101.7C79.6 101.0 79.2 100.0 79.5 99.4C79.8 98.8 80.8 98.5 81.4 98.1C82.0 97.6 82.5 96.7 83.2 96.6C83.8 96.4 84.7 96.8 85.4 97.2C86.1 97.6 86.8 98.1 87.1 98.7C87.4 99.4 87.2 100.7 87.3 101.1" stroke="#fff" stroke-width="0.95"/>
<path d="M80.3 116.0C80.3 115.6 80.3 114.4 80.3 113.6C80.3 112.9 80.6 111.9 80.3 111.3C79.9 110.7 79.1 110.3 78.4 110.0C77.7 109.7 76.6 109.9 76.1 109.4C75.6 109.0 75.2 107.9 75.3 107.3C75.3 106.6 76.1 106.0 76.6 105.4C77.1 104.8 77.7 104.3 78.2 103.7C78.7 103.1 79.2 102.4 79.4 101.7C79.6 101.0 79.2 100.0 79.5 99.4C79.8 98.8 80.8 98.5 81.4 98.1C82.0 97.6 82.5 96.7 83.2 96.6C83.8 96.4 84.7 96.8 85.4 97.2C86.1 97.6 86.8 98.1 87.1 98.7C87.4 99.4 87.2 100.7 87.3 101.1" stroke="#12b012" stroke-width="0.60"/>
<path d="M76.3 89.4C76.1 89.4 75.2 89.6 74.7 89.4C74.1 89.3 73.7 88.9 73.3 88.5C72.9 88.1 72.7 87.5 72.3 87.1C71.8 86.8 71.2 86.6 70.7 86.6C70.1 86.6 69.6 87.2 69.1 87.2C68.5 87.2 67.5 86.6 67.5 86.7C67.4 86.7 68.7 87.1 68.9 87.5C69.2 87.9 69.0 88.6 68.9 89.2C68.7 89.7 68.3 90.2 68.1 90.7C67.9 91.2 67.6 91.7 67.4 92.2C67.1 92.7 66.9 93.3 66.5 93.6C66.1 94.0 65.6 94.3 65.0 94.5C64.5 94.6 63.8 94.7 63.3 94.5C62.9 94.2 62.8 93.5 62.4 93.0C62.1 92.6 61.4 92.3 61.2 91.9C61.0 91.4 60.9 90.4 61.2 90.2C61.5 90.0 62.4 90.3 62.8 90.6C63.3 90.9 63.6 91.5 63.7 92.1C63.8 92.6 63.4 93.4 63.3 93.7" stroke="#fff" stroke-width="0.95"/>
<path d="M76.3 89.4C76.1 89.4 75.2 89.6 74.7 89.4C74.1 89.3 73.7 88.9 73.3 88.5C72.9 88.1 72.7 87.5 72.3 87.1C71.8 86.8 71.2 86.6 70.7 86.6C70.1 86.6 69.6 87.2 69.1 87.2C68.5 87.2 67.5 86.6 67.5 86.7C67.4 86.7 68.7 87.1 68.9 87.5C69.2 87.9 69.0 88.6 68.9 89.2C68.7 89.7 68.3 90.2 68.1 90.7C67.9 91.2 67.6 91.7 67.4 92.2C67.1 92.7 66.9 93.3 66.5 93.6C66.1 94.0 65.6 94.3 65.0 94.5C64.5 94.6 63.8 94.7 63.3 94.5C62.9 94.2 62.8 93.5 62.4 93.0C62.1 92.6 61.4 92.3 61.2 91.9C61.0 91.4 60.9 90.4 61.2 90.2C61.5 90.0 62.4 90.3 62.8 90.6C63.3 90.9 63.6 91.5 63.7 92.1C63.8 92.6 63.4 93.4 63.3 93.7" stroke="#12b012" stroke-width="0.60"/>
<path d="M119.2 92.5C119.3 92.9 120.2 94.2 120.0 95.0C119.9 95.7 118.7 96.2 118.4 97.0C118.2 97.8 118.5 98.8 118.3 99.6C118.2 100.5 118.2 101.5 117.8 102.1C117.3 102.8 116.1 102.9 115.6 103.5C115.1 104.2 115.2 105.2 114.9 106.0C114.7 106.8 113.9 107.7 114.0 108.4C114.1 109.2 114.9 110.2 115.5 110.5C116.2 110.8 117.4 110.4 118.1 110.0C118.8 109.6 118.9 108.1 119.6 107.9C120.2 107.6 121.5 107.9 122.1 108.4C122.7 108.9 122.8 110.0 122.9 110.9C123.0 111.7 122.6 112.6 122.7 113.4C122.9 114.3 124.0 115.3 123.7 115.8C123.5 116.3 122.0 116.1 121.2 116.4C120.4 116.7 119.7 117.3 118.9 117.6C118.1 118.0 117.2 118.4 116.4 118.4C115.6 118.3 114.8 117.1 114.1 117.2C113.4 117.3 112.5 118.2 112.1 118.9C111.7 119.6 111.8 120.6 111.8 121.5C111.7 122.3 112.1 123.6 111.6 124.1C111.2 124.6 109.7 124.2 109.1 124.6C108.4 125.1 108.3 126.4 107.7 126.8C107.0 127.2 105.9 127.0 105.1 127.0C104.2 127.0 102.9 126.8 102.5 126.8" stroke="#fff" stroke-width="0.95"/>
<path d="M119.2 92.5C119.3 92.9 120.2 94.2 120.0 95.0C119.9 95.7 118.7 96.2 118.4 97.0C118.2 97.8 118.5 98.8 118.3 99.6C118.2 100.5 118.2 101.5 117.8 102.1C117.3 102.8 116.1 102.9 115.6 103.5C115.1 104.2 115.2 105.2 114.9 106.0C114.7 106.8 113.9 107.7 114.0 108.4C114.1 109.2 114.9 110.2 115.5 110.5C116.2 110.8 117.4 110.4 118.1 110.0C118.8 109.6 118.9 108.1 119.6 107.9C120.2 107.6 121.5 107.9 122.1 108.4C122.7 108.9 122.8 110.0 122.9 110.9C123.0 111.7 122.6 112.6 122.7 113.4C122.9 114.3 124.0 115.3 123.7 115.8C123.5 116.3 122.0 116.1 121.2 116.4C120.4 116.7 119.7 117.3 118.9 117.6C118.1 118.0 117.2 118.4 116.4 118.4C115.6 118.3 114.8 117.1 114.1 117.2C113.4 117.3 112.5 118.2 112.1 118.9C111.7 119.6 111.8 120.6 111.8 121.5C111.7 122.3 112.1 123.6 111.6 124.1C111.2 124.6 109.7 124.2 109.1 124.6C108.4 125.1 108.3 126.4 107.7 126.8C107.0 127.2 105.9 127.0 105.1 127.0C104.2 127.0 102.9 126.8 102.5 126.8" stroke="#12b012" stroke-width="0.60"/>
<circle cx="80.0" cy="121.0" r="1.5" stroke="#0b800b" stroke-width="1.5"/><circle cx="80.0" cy="121.0" r="1.5" stroke="#25dc25" stroke-width="0.9" stroke-dasharray="1.3 0.6"/>
<path d="M99.9 108.6C100.2 108.4 101.2 107.8 101.7 107.2C102.1 106.6 102.1 105.5 102.7 105.1C103.2 104.6 104.2 104.7 104.8 104.3C105.5 103.9 105.8 103.0 106.3 102.5C106.9 102.0 107.5 101.5 108.2 101.2C108.9 100.9 109.8 101.1 110.5 100.8C111.2 100.5 111.8 99.9 112.3 99.3C112.8 98.7 112.9 97.8 113.4 97.3C113.9 96.7 114.6 96.2 115.2 95.8C115.8 95.3 116.5 94.8 117.2 94.6C117.9 94.3 119.1 93.8 119.4 94.1C119.7 94.4 119.0 95.6 119.1 96.4C119.2 97.1 119.9 97.8 120.0 98.5C120.0 99.2 119.8 100.2 119.4 100.7C119.0 101.3 118.1 102.0 117.5 102.0C116.8 102.0 116.2 100.9 115.5 100.8C114.8 100.7 113.8 101.1 113.3 101.6C112.9 102.1 113.0 103.1 112.7 103.8C112.5 104.6 112.0 105.6 111.9 106.0" stroke="#fff" stroke-width="0.95"/>
<path d="M99.9 108.6C100.2 108.4 101.2 107.8 101.7 107.2C102.1 106.6 102.1 105.5 102.7 105.1C103.2 104.6 104.2 104.7 104.8 104.3C105.5 103.9 105.8 103.0 106.3 102.5C106.9 102.0 107.5 101.5 108.2 101.2C108.9 100.9 109.8 101.1 110.5 100.8C111.2 100.5 111.8 99.9 112.3 99.3C112.8 98.7 112.9 97.8 113.4 97.3C113.9 96.7 114.6 96.2 115.2 95.8C115.8 95.3 116.5 94.8 117.2 94.6C117.9 94.3 119.1 93.8 119.4 94.1C119.7 94.4 119.0 95.6 119.1 96.4C119.2 97.1 119.9 97.8 120.0 98.5C120.0 99.2 119.8 100.2 119.4 100.7C119.0 101.3 118.1 102.0 117.5 102.0C116.8 102.0 116.2 100.9 115.5 100.8C114.8 100.7 113.8 101.1 113.3 101.6C112.9 102.1 113.0 103.1 112.7 103.8C112.5 104.6 112.0 105.6 111.9 106.0" stroke="#12b012" stroke-width="0.60"/>
<path d="M96.1 132.6L101.8 131.4" stroke="#0b800b" stroke-width="1.40" stroke-linecap="butt"/>
<g fill="#25dc25" stroke="#0b800b" stroke-width="0.25"><ellipse cx="97.0" cy="132.4" rx="0.85" ry="2.00" transform="rotate(14 97.0 132.4)"/><ellipse cx="99.0" cy="132.0" rx="0.85" ry="2.00" transform="rotate(14 99.0 132.0)"/><ellipse cx="100.9" cy="131.6" rx="0.85" ry="2.00" transform="rotate(14 100.9 131.6)"/></g>
<path d="M116.8 119.9L120.3 114.1" stroke="#0b800b" stroke-width="1.49" stroke-linecap="butt"/>
<g fill="#25dc25" stroke="#0b800b" stroke-width="0.25"><ellipse cx="117.4" cy="118.9" rx="0.85" ry="2.12" transform="rotate(-34 117.4 118.9)"/><ellipse cx="118.5" cy="117.0" rx="0.85" ry="2.12" transform="rotate(-34 118.5 117.0)"/><ellipse cx="119.7" cy="115.1" rx="0.85" ry="2.12" transform="rotate(-34 119.7 115.1)"/></g>
<path d="M99.5 111.8L115.7 99.1" stroke="#0b800b" stroke-width="1.49" stroke-linecap="butt"/>
<g fill="#25dc25" stroke="#0b800b" stroke-width="0.25"><ellipse cx="100.4" cy="111.1" rx="0.85" ry="2.12" transform="rotate(-13 100.4 111.1)"/><ellipse cx="102.2" cy="109.7" rx="0.85" ry="2.12" transform="rotate(-13 102.2 109.7)"/><ellipse cx="104.0" cy="108.3" rx="0.85" ry="2.12" transform="rotate(-13 104.0 108.3)"/><ellipse cx="105.8" cy="106.9" rx="0.85" ry="2.12" transform="rotate(-13 105.8 106.9)"/><ellipse cx="107.6" cy="105.5" rx="0.85" ry="2.12" transform="rotate(-13 107.6 105.5)"/><ellipse cx="109.4" cy="104.1" rx="0.85" ry="2.12" transform="rotate(-13 109.4 104.1)"/><ellipse cx="111.2" cy="102.7" rx="0.85" ry="2.12" transform="rotate(-13 111.2 102.7)"/><ellipse cx="113.0" cy="101.3" rx="0.85" ry="2.12" transform="rotate(-13 113.0 101.3)"/><ellipse cx="114.8" cy="99.9" rx="0.85" ry="2.12" transform="rotate(-13 114.8 99.9)"/></g>
<path d="M63.8 89.2L71.9 89.2" stroke="#0b800b" stroke-width="1.31" stroke-linecap="butt"/>
<g fill="#25dc25" stroke="#0b800b" stroke-width="0.25"><ellipse cx="64.8" cy="89.2" rx="0.85" ry="1.88" transform="rotate(25 64.8 89.2)"/><ellipse cx="66.8" cy="89.2" rx="0.85" ry="1.88" transform="rotate(25 66.8 89.2)"/><ellipse cx="68.9" cy="89.2" rx="0.85" ry="1.88" transform="rotate(25 68.9 89.2)"/><ellipse cx="70.9" cy="89.2" rx="0.85" ry="1.88" transform="rotate(25 70.9 89.2)"/></g>
<path d="M64.3 98.5L84.6 111.8" stroke="#0b800b" stroke-width="1.57" stroke-linecap="butt"/>
<g fill="#25dc25" stroke="#0b800b" stroke-width="0.25"><ellipse cx="65.2" cy="99.1" rx="0.85" ry="2.25" transform="rotate(58 65.2 99.1)"/><ellipse cx="67.1" cy="100.3" rx="0.85" ry="2.25" transform="rotate(58 67.1 100.3)"/><ellipse cx="68.9" cy="101.5" rx="0.85" ry="2.25" transform="rotate(58 68.9 101.5)"/><ellipse cx="70.7" cy="102.7" rx="0.85" ry="2.25" transform="rotate(58 70.7 102.7)"/><ellipse cx="72.6" cy="103.9" rx="0.85" ry="2.25" transform="rotate(58 72.6 103.9)"/><ellipse cx="74.4" cy="105.1" rx="0.85" ry="2.25" transform="rotate(58 74.4 105.1)"/><ellipse cx="76.3" cy="106.4" rx="0.85" ry="2.25" transform="rotate(58 76.3 106.4)"/><ellipse cx="78.1" cy="107.6" rx="0.85" ry="2.25" transform="rotate(58 78.1 107.6)"/><ellipse cx="80.0" cy="108.8" rx="0.85" ry="2.25" transform="rotate(58 80.0 108.8)"/><ellipse cx="81.8" cy="110.0" rx="0.85" ry="2.25" transform="rotate(58 81.8 110.0)"/><ellipse cx="83.6" cy="111.2" rx="0.85" ry="2.25" transform="rotate(58 83.6 111.2)"/></g>
<path d="M114.5 119.8C114.6 119.5 114.7 118.6 115.0 118.1C115.3 117.7 115.8 117.1 116.3 117.0C116.8 116.9 117.5 117.3 117.9 117.7C118.4 118.0 118.6 118.7 118.9 119.2C119.2 119.7 119.6 120.2 119.6 120.8C119.6 121.3 119.2 121.9 119.0 122.4C118.8 123.0 118.8 123.9 118.4 124.1C118.1 124.2 117.4 123.5 116.9 123.2C116.4 123.0 115.9 122.7 115.3 122.5C114.7 122.4 114.0 122.2 113.6 122.4C113.1 122.5 112.8 123.3 112.4 123.7C112.0 124.0 111.4 124.4 110.9 124.6C110.4 124.8 109.8 124.8 109.2 125.0C108.6 125.1 107.8 124.9 107.5 125.3C107.1 125.6 107.4 126.7 107.0 127.0C106.6 127.3 105.7 126.8 105.3 127.1C104.8 127.4 104.8 128.2 104.4 128.6C104.0 129.0 103.4 129.2 102.9 129.6C102.4 129.9 102.1 130.5 101.6 130.8C101.1 131.0 100.4 130.8 99.9 130.9C99.3 131.1 98.8 131.7 98.3 131.7C97.8 131.7 97.0 131.5 96.6 131.2C96.3 130.8 96.3 129.7 96.2 129.5" stroke="#fff" stroke-width="0.95"/>
<path d="M114.5 119.8C114.6 119.5 114.7 118.6 115.0 118.1C115.3 117.7 115.8 117.1 116.3 117.0C116.8 116.9 117.5 117.3 117.9 117.7C118.4 118.0 118.6 118.7 118.9 119.2C119.2 119.7 119.6 120.2 119.6 120.8C119.6 121.3 119.2 121.9 119.0 122.4C118.8 123.0 118.8 123.9 118.4 124.1C118.1 124.2 117.4 123.5 116.9 123.2C116.4 123.0 115.9 122.7 115.3 122.5C114.7 122.4 114.0 122.2 113.6 122.4C113.1 122.5 112.8 123.3 112.4 123.7C112.0 124.0 111.4 124.4 110.9 124.6C110.4 124.8 109.8 124.8 109.2 125.0C108.6 125.1 107.8 124.9 107.5 125.3C107.1 125.6 107.4 126.7 107.0 127.0C106.6 127.3 105.7 126.8 105.3 127.1C104.8 127.4 104.8 128.2 104.4 128.6C104.0 129.0 103.4 129.2 102.9 129.6C102.4 129.9 102.1 130.5 101.6 130.8C101.1 131.0 100.4 130.8 99.9 130.9C99.3 131.1 98.8 131.7 98.3 131.7C97.8 131.7 97.0 131.5 96.6 131.2C96.3 130.8 96.3 129.7 96.2 129.5" stroke="#12b012" stroke-width="0.60"/>
<path d="M105.4 99.8C105.7 99.9 106.7 100.6 107.4 100.5C108.0 100.4 108.8 99.8 109.1 99.3C109.4 98.7 109.3 97.8 109.2 97.2C109.0 96.5 108.7 95.6 108.2 95.3C107.7 95.0 106.6 94.9 106.1 95.2C105.6 95.5 105.6 96.5 105.1 97.1C104.7 97.6 103.8 97.8 103.5 98.4C103.1 98.9 103.4 100.0 103.0 100.4C102.6 100.9 101.4 100.6 101.0 101.1C100.6 101.6 100.6 102.5 100.6 103.2C100.6 103.9 101.0 104.6 100.9 105.3C100.8 105.9 100.3 106.6 100.1 107.2C99.9 107.9 99.9 108.6 99.7 109.3C99.5 110.0 99.0 110.6 99.0 111.3C99.0 112.0 99.7 112.6 99.8 113.3C99.9 113.9 99.6 114.7 99.7 115.4C99.8 116.1 100.3 117.0 100.4 117.4" stroke="#fff" stroke-width="0.95"/>
<path d="M105.4 99.8C105.7 99.9 106.7 100.6 107.4 100.5C108.0 100.4 108.8 99.8 109.1 99.3C109.4 98.7 109.3 97.8 109.2 97.2C109.0 96.5 108.7 95.6 108.2 95.3C107.7 95.0 106.6 94.9 106.1 95.2C105.6 95.5 105.6 96.5 105.1 97.1C104.7 97.6 103.8 97.8 103.5 98.4C103.1 98.9 103.4 100.0 103.0 100.4C102.6 100.9 101.4 100.6 101.0 101.1C100.6 101.6 100.6 102.5 100.6 103.2C100.6 103.9 101.0 104.6 100.9 105.3C100.8 105.9 100.3 106.6 100.1 107.2C99.9 107.9 99.9 108.6 99.7 109.3C99.5 110.0 99.0 110.6 99.0 111.3C99.0 112.0 99.7 112.6 99.8 113.3C99.9 113.9 99.6 114.7 99.7 115.4C99.8 116.1 100.3 117.0 100.4 117.4" stroke="#12b012" stroke-width="0.60"/>
<circle cx="97.2" cy="116.9" r="1.5" stroke="#0b800b" stroke-width="1.5"/><circle cx="97.2" cy="116.9" r="1.5" stroke="#25dc25" stroke-width="0.9" stroke-dasharray="1.3 0.6"/>
<path d="M88.3 111.9C88.0 111.8 86.9 111.3 86.3 111.4C85.7 111.4 85.1 112.0 84.5 112.4C83.9 112.7 83.3 113.1 82.6 113.3C82.0 113.5 81.2 113.7 80.6 113.6C80.0 113.5 79.4 112.6 78.8 112.5C78.2 112.5 77.5 113.0 77.0 113.4C76.4 113.8 75.8 114.4 75.7 115.0C75.6 115.6 76.3 116.3 76.3 117.0C76.3 117.6 75.9 118.3 75.4 118.9C75.0 119.4 74.0 119.6 73.8 120.2C73.6 120.7 74.5 121.6 74.2 122.2C74.0 122.7 73.1 123.3 72.6 123.4C72.0 123.4 71.3 122.8 70.7 122.4C70.2 122.0 69.8 121.4 69.4 120.8C69.0 120.2 69.0 119.4 68.6 118.9C68.1 118.5 67.2 118.1 66.6 118.3C66.0 118.4 65.7 119.3 65.2 119.8C64.7 120.3 64.0 121.4 63.7 121.3C63.5 121.2 63.7 119.9 63.6 119.2C63.5 118.5 63.0 117.8 63.1 117.2C63.3 116.6 63.9 116.0 64.3 115.5C64.7 114.9 65.1 114.3 65.6 113.8C66.1 113.4 66.7 113.1 67.3 112.7C67.9 112.3 68.4 111.8 69.0 111.6C69.6 111.3 70.4 111.3 71.0 111.2C71.7 111.0 72.7 110.7 73.0 110.6" stroke="#fff" stroke-width="0.95"/>
<path d="M88.3 111.9C88.0 111.8 86.9 111.3 86.3 111.4C85.7 111.4 85.1 112.0 84.5 112.4C83.9 112.7 83.3 113.1 82.6 113.3C82.0 113.5 81.2 113.7 80.6 113.6C80.0 113.5 79.4 112.6 78.8 112.5C78.2 112.5 77.5 113.0 77.0 113.4C76.4 113.8 75.8 114.4 75.7 115.0C75.6 115.6 76.3 116.3 76.3 117.0C76.3 117.6 75.9 118.3 75.4 118.9C75.0 119.4 74.0 119.6 73.8 120.2C73.6 120.7 74.5 121.6 74.2 122.2C74.0 122.7 73.1 123.3 72.6 123.4C72.0 123.4 71.3 122.8 70.7 122.4C70.2 122.0 69.8 121.4 69.4 120.8C69.0 120.2 69.0 119.4 68.6 118.9C68.1 118.5 67.2 118.1 66.6 118.3C66.0 118.4 65.7 119.3 65.2 119.8C64.7 120.3 64.0 121.4 63.7 121.3C63.5 121.2 63.7 119.9 63.6 119.2C63.5 118.5 63.0 117.8 63.1 117.2C63.3 116.6 63.9 116.0 64.3 115.5C64.7 114.9 65.1 114.3 65.6 113.8C66.1 113.4 66.7 113.1 67.3 112.7C67.9 112.3 68.4 111.8 69.0 111.6C69.6 111.3 70.4 111.3 71.0 111.2C71.7 111.0 72.7 110.7 73.0 110.6" stroke="#12b012" stroke-width="0.60"/>
<circle cx="72.6" cy="115.3" r="1.5" stroke="#0b800b" stroke-width="1.5"/><circle cx="72.6" cy="115.3" r="1.5" stroke="#25dc25" stroke-width="0.9" stroke-dasharray="1.3 0.6"/>
<circle cx="89.2" cy="130.7" r="1.5" stroke="#0b800b" stroke-width="1.5"/><circle cx="89.2" cy="130.7" r="1.5" stroke="#25dc25" stroke-width="0.9" stroke-dasharray="1.3 0.6"/>
<path d="M82.3 103.8C82.2 103.4 81.8 102.2 81.4 101.5C81.0 100.9 80.6 100.0 80.0 99.6C79.3 99.3 78.4 99.6 77.6 99.4C76.8 99.3 76.1 98.6 75.3 98.7C74.6 98.7 73.6 99.2 73.2 99.8C72.8 100.3 72.9 101.3 72.9 102.1C72.8 102.9 73.2 103.9 72.9 104.5C72.5 105.2 71.7 105.8 71.0 106.1C70.3 106.3 69.4 105.8 68.6 106.0C67.9 106.2 67.0 106.8 66.7 107.4C66.4 108.0 66.6 109.1 67.0 109.8C67.3 110.4 68.2 110.9 68.9 111.2C69.6 111.5 70.7 111.8 71.3 111.5C71.9 111.3 72.0 109.9 72.6 109.5C73.2 109.1 74.2 109.3 74.9 109.1C75.7 108.9 76.4 108.4 77.2 108.2C77.9 108.0 78.8 108.1 79.5 107.8C80.2 107.5 80.8 106.8 81.4 106.4C82.1 105.9 82.9 105.7 83.5 105.2C84.1 104.7 84.7 103.6 85.0 103.3" stroke="#fff" stroke-width="0.95"/>
<path d="M82.3 103.8C82.2 103.4 81.8 102.2 81.4 101.5C81.0 100.9 80.6 100.0 80.0 99.6C79.3 99.3 78.4 99.6 77.6 99.4C76.8 99.3 76.1 98.6 75.3 98.7C74.6 98.7 73.6 99.2 73.2 99.8C72.8 100.3 72.9 101.3 72.9 102.1C72.8 102.9 73.2 103.9 72.9 104.5C72.5 105.2 71.7 105.8 71.0 106.1C70.3 106.3 69.4 105.8 68.6 106.0C67.9 106.2 67.0 106.8 66.7 107.4C66.4 108.0 66.6 109.1 67.0 109.8C67.3 110.4 68.2 110.9 68.9 111.2C69.6 111.5 70.7 111.8 71.3 111.5C71.9 111.3 72.0 109.9 72.6 109.5C73.2 109.1 74.2 109.3 74.9 109.1C75.7 108.9 76.4 108.4 77.2 108.2C77.9 108.0 78.8 108.1 79.5 107.8C80.2 107.5 80.8 106.8 81.4 106.4C82.1 105.9 82.9 105.7 83.5 105.2C84.1 104.7 84.7 103.6 85.0 103.3" stroke="#12b012" stroke-width="0.60"/>
<path d="M86.9 121.0L99.5 126.1" stroke="#0b800b" stroke-width="1.57" stroke-linecap="butt"/>
<g fill="#25dc25" stroke="#0b800b" stroke-width="0.25"><ellipse cx="87.9" cy="121.5" rx="0.85" ry="2.25" transform="rotate(47 87.9 121.5)"/><ellipse cx="90.0" cy="122.3" rx="0.85" ry="2.25" transform="rotate(47 90.0 122.3)"/><ellipse cx="92.1" cy="123.1" rx="0.85" ry="2.25" transform="rotate(47 92.1 123.1)"/><ellipse cx="94.3" cy="124.0" rx="0.85" ry="2.25" transform="rotate(47 94.3 124.0)"/><ellipse cx="96.4" cy="124.8" rx="0.85" ry="2.25" transform="rotate(47 96.4 124.8)"/><ellipse cx="98.5" cy="125.7" rx="0.85" ry="2.25" transform="rotate(47 98.5 125.7)"/></g>
<path d="M104.8 94.5L114.5 86.9" stroke="#0b800b" stroke-width="1.49" stroke-linecap="butt"/>
<g fill="#25dc25" stroke="#0b800b" stroke-width="0.25"><ellipse cx="105.8" cy="93.8" rx="0.85" ry="2.12" transform="rotate(-13 105.8 93.8)"/><ellipse cx="107.7" cy="92.3" rx="0.85" ry="2.12" transform="rotate(-13 107.7 92.3)"/><ellipse cx="109.7" cy="90.7" rx="0.85" ry="2.12" transform="rotate(-13 109.7 90.7)"/><ellipse cx="111.6" cy="89.2" rx="0.85" ry="2.12" transform="rotate(-13 111.6 89.2)"/><ellipse cx="113.5" cy="87.7" rx="0.85" ry="2.12" transform="rotate(-13 113.5 87.7)"/></g>
<path d="M76.5 122.2L82.3 119.9" stroke="#0b800b" stroke-width="1.84" stroke-linecap="butt"/>
<g fill="#25dc25" stroke="#0b800b" stroke-width="0.25"><ellipse cx="77.5" cy="121.8" rx="0.85" ry="2.62" transform="rotate(3 77.5 121.8)"/><ellipse cx="79.4" cy="121.0" rx="0.85" ry="2.62" transform="rotate(3 79.4 121.0)"/><ellipse cx="81.3" cy="120.3" rx="0.85" ry="2.62" transform="rotate(3 81.3 120.3)"/></g>
<path d="M116.9 120.2C116.7 119.9 116.1 118.7 115.7 118.0C115.3 117.2 114.8 116.5 114.4 115.8C114.0 115.1 113.7 114.3 113.4 113.5C113.0 112.7 112.7 112.0 112.4 111.2C112.1 110.4 111.9 109.5 111.5 108.8C111.0 108.1 110.3 107.3 109.6 107.1C108.9 106.9 107.6 107.2 107.2 107.7C106.7 108.2 107.2 109.6 106.7 110.2C106.2 110.7 104.8 110.4 104.3 110.9C103.7 111.4 103.9 112.6 103.4 113.2C102.9 113.9 102.0 114.3 101.2 114.6C100.4 114.8 99.5 114.8 98.7 115.0C97.9 115.1 96.9 115.6 96.2 115.4C95.5 115.2 95.1 114.2 94.4 113.7C93.7 113.2 92.9 112.6 92.1 112.6C91.3 112.6 90.6 113.4 89.8 113.6C89.0 113.9 88.1 113.9 87.3 114.0C86.4 114.1 85.5 114.4 84.7 114.3C83.9 114.1 83.3 113.3 82.5 113.0C81.7 112.8 80.4 112.7 80.0 112.7" stroke="#fff" stroke-width="0.95"/>
<path d="M116.9 120.2C116.7 119.9 116.1 118.7 115.7 118.0C115.3 117.2 114.8 116.5 114.4 115.8C114.0 115.1 113.7 114.3 113.4 113.5C113.0 112.7 112.7 112.0 112.4 111.2C112.1 110.4 111.9 109.5 111.5 108.8C111.0 108.1 110.3 107.3 109.6 107.1C108.9 106.9 107.6 107.2 107.2 107.7C106.7 108.2 107.2 109.6 106.7 110.2C106.2 110.7 104.8 110.4 104.3 110.9C103.7 111.4 103.9 112.6 103.4 113.2C102.9 113.9 102.0 114.3 101.2 114.6C100.4 114.8 99.5 114.8 98.7 115.0C97.9 115.1 96.9 115.6 96.2 115.4C95.5 115.2 95.1 114.2 94.4 113.7C93.7 113.2 92.9 112.6 92.1 112.6C91.3 112.6 90.6 113.4 89.8 113.6C89.0 113.9 88.1 113.9 87.3 114.0C86.4 114.1 85.5 114.4 84.7 114.3C83.9 114.1 83.3 113.3 82.5 113.0C81.7 112.8 80.4 112.7 80.0 112.7" stroke="#12b012" stroke-width="0.60"/>
<path d="M94.9 116.9L100.7 116.0" stroke="#0b800b" stroke-width="1.66" stroke-linecap="butt"/>
<g fill="#25dc25" stroke="#0b800b" stroke-width="0.25"><ellipse cx="95.9" cy="116.7" rx="0.85" ry="2.38" transform="rotate(16 95.9 116.7)"/><ellipse cx="97.8" cy="116.4" rx="0.85" ry="2.38" transform="rotate(16 97.8 116.4)"/><ellipse cx="99.7" cy="116.1" rx="0.85" ry="2.38" transform="rotate(16 99.7 116.1)"/></g>
<path d="M63.8 121.0L69.6 122.2" stroke="#0b800b" stroke-width="1.31" stroke-linecap="butt"/>
<g fill="#25dc25" stroke="#0b800b" stroke-width="0.25"><ellipse cx="64.8" cy="121.2" rx="0.85" ry="1.88" transform="rotate(36 64.8 121.2)"/><ellipse cx="66.7" cy="121.6" rx="0.85" ry="1.88" transform="rotate(36 66.7 121.6)"/><ellipse cx="68.6" cy="122.0" rx="0.85" ry="1.88" transform="rotate(36 68.6 122.0)"/></g>
<path d="M100.8 102.4C101.0 102.8 101.2 104.0 101.7 104.6C102.2 105.1 103.1 105.6 103.8 105.5C104.4 105.4 104.9 104.5 105.4 103.9C106.0 103.4 106.4 102.7 107.0 102.3C107.6 101.9 108.6 102.0 109.2 101.6C109.7 101.1 110.1 100.3 110.2 99.6C110.4 98.9 110.3 98.0 110.1 97.3C110.0 96.6 109.3 95.9 109.2 95.2C109.1 94.5 109.3 93.7 109.3 92.9C109.4 92.2 109.4 91.4 109.5 90.6C109.7 89.9 109.9 89.1 110.4 88.5C110.8 88.0 111.7 87.8 112.3 87.3C112.9 86.8 113.2 85.9 113.8 85.6C114.5 85.2 115.7 84.9 116.1 85.3C116.5 85.6 116.2 87.2 116.2 87.6" stroke="#fff" stroke-width="0.95"/>
<path d="M100.8 102.4C101.0 102.8 101.2 104.0 101.7 104.6C102.2 105.1 103.1 105.6 103.8 105.5C104.4 105.4 104.9 104.5 105.4 103.9C106.0 103.4 106.4 102.7 107.0 102.3C107.6 101.9 108.6 102.0 109.2 101.6C109.7 101.1 110.1 100.3 110.2 99.6C110.4 98.9 110.3 98.0 110.1 97.3C110.0 96.6 109.3 95.9 109.2 95.2C109.1 94.5 109.3 93.7 109.3 92.9C109.4 92.2 109.4 91.4 109.5 90.6C109.7 89.9 109.9 89.1 110.4 88.5C110.8 88.0 111.7 87.8 112.3 87.3C112.9 86.8 113.2 85.9 113.8 85.6C114.5 85.2 115.7 84.9 116.1 85.3C116.5 85.6 116.2 87.2 116.2 87.6" stroke="#12b012" stroke-width="0.60"/>
<path d="M115.2 111.0C115.5 110.9 116.2 110.4 116.7 110.2C117.2 109.9 117.6 109.6 118.1 109.4C118.7 109.2 119.3 109.2 119.8 109.0C120.3 108.8 120.8 108.5 121.2 108.2C121.5 107.8 121.6 107.1 122.0 106.7C122.3 106.3 123.0 105.5 123.2 105.6C123.4 105.7 123.0 106.8 123.1 107.3C123.2 107.8 123.6 108.3 123.8 108.8C123.9 109.3 124.0 109.9 123.9 110.5C123.8 111.0 123.4 111.4 123.2 112.0C123.1 112.5 123.2 113.2 122.9 113.6C122.6 114.0 122.0 114.2 121.4 114.3C120.9 114.4 120.2 113.9 119.8 114.1C119.4 114.2 119.2 115.2 118.8 115.4C118.4 115.5 117.5 115.3 117.2 115.0C116.9 114.6 117.1 113.7 116.8 113.4C116.4 113.0 115.5 113.2 115.2 112.9C114.8 112.6 114.9 111.8 114.7 111.3C114.5 110.8 114.2 110.3 113.9 109.8C113.7 109.4 113.1 108.9 113.1 108.4C113.1 107.9 113.9 107.6 114.0 107.0C114.2 106.5 114.0 105.9 114.0 105.4C114.0 104.8 114.1 104.0 114.1 103.7" stroke="#fff" stroke-width="0.95"/>
<path d="M115.2 111.0C115.5 110.9 116.2 110.4 116.7 110.2C117.2 109.9 117.6 109.6 118.1 109.4C118.7 109.2 119.3 109.2 119.8 109.0C120.3 108.8 120.8 108.5 121.2 108.2C121.5 107.8 121.6 107.1 122.0 106.7C122.3 106.3 123.0 105.5 123.2 105.6C123.4 105.7 123.0 106.8 123.1 107.3C123.2 107.8 123.6 108.3 123.8 108.8C123.9 109.3 124.0 109.9 123.9 110.5C123.8 111.0 123.4 111.4 123.2 112.0C123.1 112.5 123.2 113.2 122.9 113.6C122.6 114.0 122.0 114.2 121.4 114.3C120.9 114.4 120.2 113.9 119.8 114.1C119.4 114.2 119.2 115.2 118.8 115.4C118.4 115.5 117.5 115.3 117.2 115.0C116.9 114.6 117.1 113.7 116.8 113.4C116.4 113.0 115.5 113.2 115.2 112.9C114.8 112.6 114.9 111.8 114.7 111.3C114.5 110.8 114.2 110.3 113.9 109.8C113.7 109.4 113.1 108.9 113.1 108.4C113.1 107.9 113.9 107.6 114.0 107.0C114.2 106.5 114.0 105.9 114.0 105.4C114.0 104.8 114.1 104.0 114.1 103.7" stroke="#12b012" stroke-width="0.60"/>
</g>
<g fill="none" stroke-linecap="round" stroke-linejoin="round">
<path d="M252.2 297.2C252.2 296.7 251.9 295.3 251.7 294.2C251.6 293.1 251.2 291.7 251.2 290.6C251.2 289.5 251.6 288.5 251.7 287.6C251.9 286.6 252.3 285.9 252.2 285.0C252.2 284.1 251.3 283.3 251.2 282.4C251.1 281.6 251.4 280.6 251.7 279.9C252.1 279.2 252.7 278.9 253.3 278.4C253.9 277.9 255.0 277.1 255.3 276.8" stroke="#12b012" stroke-width="0.60"/>
<path d="M250.2 276.3C250.3 276.8 250.6 278.5 250.5 279.4C250.4 280.3 250.1 281.3 249.7 281.9C249.3 282.5 248.5 282.4 248.2 283.0C247.8 283.6 247.7 284.7 247.7 285.5C247.7 286.4 248.2 287.2 248.2 288.1C248.2 288.9 247.8 289.7 247.7 290.6C247.5 291.5 247.4 292.7 247.1 293.7C246.9 294.6 246.4 295.5 246.1 296.2C245.9 297.0 245.7 297.9 245.6 298.3" stroke="#12b012" stroke-width="0.60"/>
<path d="M251.2 275.8C251.7 275.9 253.3 276.4 254.3 276.3C255.3 276.2 256.3 275.4 257.3 275.3C258.4 275.2 259.6 275.6 260.4 275.8C261.3 276.1 262.0 276.3 262.4 276.8C262.9 277.3 263.0 278.3 263.0 278.9C262.9 279.5 261.7 280.0 261.9 280.4C262.2 280.8 263.6 281.3 264.5 281.4C265.4 281.5 266.6 281.4 267.6 280.9C268.5 280.4 269.6 279.3 270.1 278.4C270.6 277.4 270.1 276.2 270.6 275.3C271.1 274.5 272.6 274.0 273.2 273.3C273.8 272.5 273.7 271.4 274.2 270.7C274.7 270.1 275.5 269.5 276.2 269.4C277.0 269.3 278.1 269.6 278.6 270.2C279.0 270.8 279.1 271.9 278.8 272.8C278.5 273.6 277.5 274.7 276.7 275.3C276.0 275.9 274.8 275.7 274.2 276.3C273.6 276.9 273.7 278.0 273.2 278.9C272.7 279.7 271.7 280.6 271.1 281.4C270.5 282.3 270.2 283.5 269.6 284.0C269.0 284.5 268.3 284.4 267.6 284.5C266.8 284.6 265.7 284.1 265.0 284.5C264.3 284.9 264.1 286.7 263.5 287.0C262.8 287.4 261.6 287.0 260.9 286.7C260.2 286.5 259.5 286.1 259.4 285.5C259.3 285.0 260.0 284.1 260.4 283.5C260.8 282.9 261.7 282.2 261.9 281.9" stroke="#12b012" stroke-width="0.60"/>
<path d="M248.7 264.1C249.1 264.3 250.9 264.9 251.2 265.6C251.6 266.3 251.1 267.6 250.7 268.2C250.4 268.8 249.4 268.6 249.2 269.2C249.0 269.8 249.3 271.1 249.7 271.7C250.1 272.4 251.5 272.6 251.7 273.3C252.0 273.9 251.7 275.3 251.2 275.8C250.7 276.3 249.5 276.4 248.7 276.3C247.8 276.2 247.0 275.5 246.1 275.3C245.3 275.1 243.9 275.7 243.6 275.3C243.2 274.9 243.7 273.5 244.1 272.8C244.4 272.0 245.4 271.6 245.6 270.7C245.8 269.9 245.0 268.6 245.1 267.7C245.2 266.7 245.5 265.7 246.1 265.1C246.7 264.5 248.2 264.3 248.7 264.1" stroke="#12b012" stroke-width="0.60"/>
<path d="M248.4 332.5C248.0 332.5 246.9 332.9 246.2 332.8C245.4 332.6 244.7 332.2 244.1 331.7C243.6 331.2 243.5 330.3 242.9 329.8C242.4 329.3 241.5 329.2 240.9 328.7C240.3 328.3 239.8 327.6 239.5 327.0C239.1 326.3 238.7 325.5 238.8 324.8C238.9 324.1 239.5 323.5 239.9 322.8C240.3 322.1 240.5 321.2 241.1 320.9C241.7 320.5 242.6 320.7 243.4 320.9C244.1 321.0 244.6 321.9 245.3 322.0C246.0 322.1 246.8 321.7 247.6 321.6C248.3 321.6 249.2 321.9 249.9 321.7C250.5 321.4 251.0 320.6 251.6 320.2C252.2 319.8 253.1 319.7 253.7 319.3C254.3 318.8 254.6 317.7 255.2 317.5C255.8 317.4 257.0 318.2 257.3 318.3" stroke="#12b012" stroke-width="0.60"/>
<path d="M264.5 304.3C264.9 304.1 266.0 303.6 266.7 303.3C267.5 303.0 268.2 302.5 269.0 302.4C269.7 302.4 270.7 302.5 271.3 302.9C271.9 303.3 272.4 304.2 272.6 304.9C272.7 305.6 272.2 306.5 272.3 307.3C272.3 308.1 273.0 308.8 273.0 309.6C273.1 310.3 272.7 311.1 272.6 311.9C272.6 312.7 273.0 313.7 272.6 314.3C272.3 314.9 271.3 315.6 270.6 315.6C269.9 315.7 269.2 315.0 268.5 314.6C267.8 314.2 267.2 313.6 266.5 313.3C265.7 313.0 264.8 313.2 264.1 312.8C263.4 312.5 263.1 311.5 262.4 311.2C261.7 310.9 260.7 311.2 260.0 311.0C259.2 310.8 258.4 310.5 257.9 309.9C257.3 309.3 257.2 308.4 256.9 307.7C256.7 306.9 256.8 305.9 256.3 305.4C255.9 304.9 254.7 305.1 254.0 304.7C253.4 304.3 253.3 303.1 252.6 302.7C252.0 302.4 250.8 302.9 250.3 302.5C249.7 302.1 249.4 301.1 249.2 300.4C249.0 299.6 248.8 298.2 249.2 298.0C249.6 297.7 250.7 298.5 251.4 298.9C252.1 299.3 253.1 300.0 253.4 300.2" stroke="#12b012" stroke-width="0.60"/>
<path d="M289.2 332.7C288.8 332.7 287.7 332.9 287.1 332.7C286.5 332.5 286.1 331.4 285.5 331.3C284.9 331.1 283.9 331.5 283.5 332.0C283.1 332.5 283.4 333.4 283.2 334.1C283.0 334.7 282.1 335.3 282.1 335.9C282.2 336.5 283.0 337.1 283.4 337.6C283.9 338.2 284.4 338.7 284.7 339.3C285.0 339.9 285.5 340.7 285.4 341.3C285.4 342.0 284.9 342.8 284.4 343.2C283.9 343.6 283.1 343.8 282.4 343.9C281.7 344.1 281.0 344.3 280.3 344.3C279.6 344.3 278.7 344.5 278.2 344.1C277.7 343.8 277.6 342.8 277.3 342.2C277.1 341.5 276.8 340.8 276.7 340.1C276.7 339.4 276.7 338.6 277.0 338.0C277.3 337.4 278.0 336.9 278.7 336.7C279.3 336.6 280.2 336.7 280.8 337.1C281.3 337.4 281.6 338.2 282.0 338.8C282.4 339.4 282.8 340.2 283.3 340.5C283.9 340.7 284.8 340.1 285.4 340.3C286.1 340.5 286.9 341.3 287.2 341.6" stroke="#12b012" stroke-width="0.60"/>
<path d="M251.7 327.7C251.8 328.0 252.1 329.2 252.5 329.8C253.0 330.4 254.2 330.6 254.4 331.2C254.6 331.8 253.8 332.7 253.8 333.4C253.9 334.2 254.2 335.2 254.8 335.6C255.3 336.0 256.5 335.4 257.1 335.8C257.7 336.2 257.8 337.2 258.2 337.8C258.7 338.4 259.3 339.3 259.9 339.4C260.6 339.5 261.4 338.8 262.1 338.5C262.8 338.2 263.5 337.8 264.1 337.4C264.7 336.9 265.2 336.2 265.8 335.8C266.5 335.5 267.4 335.5 268.1 335.2C268.8 334.9 269.4 334.1 270.1 334.0C270.8 333.9 271.6 334.6 272.4 334.6C273.1 334.5 273.9 333.7 274.6 333.8C275.2 334.0 275.6 335.1 276.3 335.3C277.0 335.6 278.1 335.5 278.6 335.1C279.1 334.7 278.9 333.4 279.5 332.9C280.0 332.5 280.9 332.4 281.7 332.3C282.4 332.3 283.3 332.3 284.0 332.6C284.7 332.9 285.5 333.6 285.7 334.2C285.9 334.8 285.6 335.7 285.5 336.5C285.4 337.3 285.1 338.4 285.0 338.8" stroke="#12b012" stroke-width="0.60"/>
<path d="M248.8 297.8C249.2 297.7 250.4 297.1 251.1 297.3C251.8 297.5 252.4 298.3 253.0 298.8C253.6 299.3 254.5 299.7 254.9 300.3C255.3 300.9 255.4 301.9 255.5 302.6C255.6 303.4 255.8 304.3 255.5 305.1C255.3 305.8 254.2 306.3 254.0 307.0C253.9 307.7 254.6 308.5 254.6 309.3C254.6 310.1 253.9 310.9 254.1 311.7C254.2 312.4 254.8 313.3 255.4 313.7C256.0 314.1 257.0 314.3 257.8 314.3C258.5 314.3 259.3 313.7 260.1 313.6C260.9 313.6 261.7 314.0 262.5 314.1C263.3 314.2 264.1 314.1 264.9 314.0C265.7 314.0 266.5 313.8 267.3 313.7C268.1 313.5 268.9 313.4 269.7 313.3C270.5 313.3 271.3 313.5 272.1 313.4C272.9 313.3 273.7 312.9 274.5 313.0C275.3 313.1 276.3 313.9 276.7 314.0" stroke="#12b012" stroke-width="0.60"/>
<path d="M265.2 304.6C264.9 304.8 264.0 305.5 263.5 306.0C262.9 306.5 262.4 307.3 261.8 307.4C261.2 307.5 260.5 306.7 259.8 306.4C259.2 306.2 258.3 306.2 257.7 305.9C257.1 305.5 256.8 304.6 256.2 304.3C255.6 304.0 254.6 304.3 254.0 304.0C253.4 303.6 252.8 302.9 252.7 302.3C252.5 301.6 252.6 300.4 253.1 300.1C253.5 299.8 254.6 300.3 255.2 300.6C255.8 301.0 256.3 301.6 256.7 302.3C257.0 302.9 257.4 303.8 257.2 304.4C257.0 305.0 255.9 305.3 255.7 305.9C255.4 306.6 255.7 307.4 255.7 308.1C255.8 308.9 255.6 309.9 256.0 310.3C256.4 310.8 257.4 310.8 258.1 310.9C258.8 311.0 259.6 311.2 260.3 310.9C260.9 310.7 261.3 309.9 261.9 309.4C262.4 308.9 263.3 308.7 263.6 308.1C263.9 307.5 263.8 306.3 263.9 305.9" stroke="#12b012" stroke-width="0.60"/>
<path d="M253.7 341.6C253.8 341.9 253.9 342.8 254.2 343.1C254.6 343.5 255.3 343.3 255.8 343.5C256.2 343.8 256.4 344.6 256.9 344.7C257.3 344.9 258.0 344.6 258.5 344.4C259.0 344.2 259.3 343.7 259.8 343.4C260.2 343.2 261.0 343.2 261.3 342.9C261.5 342.5 261.4 341.8 261.4 341.3C261.3 340.7 261.0 340.0 261.2 339.7C261.4 339.3 262.1 339.0 262.6 338.9C263.1 338.8 263.7 339.1 264.2 339.0C264.8 339.0 265.4 338.6 265.8 338.7C266.3 338.8 266.6 339.4 267.0 339.8C267.3 340.2 267.8 340.7 267.9 341.2C268.0 341.6 267.7 342.2 267.7 342.8C267.7 343.3 267.9 343.8 268.1 344.3C268.3 344.8 268.8 345.2 268.9 345.7C269.1 346.2 269.2 347.1 269.0 347.3C268.8 347.5 268.0 347.1 267.5 346.8C267.0 346.6 266.5 346.2 266.0 346.1C265.5 346.0 264.7 346.1 264.4 346.0" stroke="#12b012" stroke-width="0.60"/>
<path d="M255.6 301.6C255.4 301.2 254.4 299.5 254.0 299.6C253.7 299.7 253.8 301.3 253.4 302.1C253.1 302.8 252.1 303.4 252.0 304.2C252.0 304.9 252.5 306.0 253.1 306.4C253.7 306.8 255.0 306.1 255.6 306.5C256.3 306.8 256.3 308.0 256.9 308.6C257.4 309.2 258.2 309.9 258.9 310.1C259.7 310.2 260.6 309.4 261.4 309.5C262.1 309.7 262.9 310.4 263.4 311.0C264.0 311.6 264.4 312.4 264.7 313.1C265.0 313.9 265.3 314.9 265.2 315.6C265.0 316.4 264.0 316.9 263.6 317.6C263.2 318.3 263.1 319.2 262.9 320.0C262.8 320.8 263.3 321.9 262.9 322.5C262.5 323.1 261.5 323.5 260.7 323.7C259.9 323.9 259.0 323.6 258.2 323.7C257.4 323.8 256.3 323.8 255.7 324.3C255.2 324.7 254.8 325.7 254.6 326.5C254.5 327.3 254.8 328.2 254.9 329.0C254.9 329.9 254.8 331.1 254.8 331.5" stroke="#12b012" stroke-width="0.60"/>
<path d="M250.8 325.1C251.1 324.8 252.1 323.8 252.2 323.0C252.3 322.3 251.6 321.4 251.3 320.6C251.0 319.8 251.0 318.8 250.5 318.2C250.0 317.6 249.0 317.5 248.3 317.1C247.5 316.6 246.6 316.3 246.2 315.7C245.7 315.0 246.0 313.9 245.5 313.2C245.1 312.5 244.3 312.0 243.7 311.5C243.0 311.0 241.9 310.8 241.5 310.2C241.1 309.6 241.5 308.5 241.4 307.7C241.3 306.8 241.2 306.0 240.9 305.2C240.6 304.4 239.6 303.8 239.5 303.1C239.4 302.3 239.9 301.3 240.4 300.7C241.0 300.1 242.0 299.6 242.7 299.6C243.5 299.6 244.3 300.3 244.9 300.8C245.5 301.4 245.8 302.3 246.4 302.9C247.0 303.5 247.8 303.9 248.3 304.6C248.7 305.3 249.2 306.2 249.2 307.0C249.1 307.7 248.6 308.6 248.1 309.3C247.7 310.0 246.7 310.4 246.4 311.1C246.0 311.8 245.9 312.8 246.0 313.6C246.1 314.4 246.5 315.2 246.9 316.0C247.3 316.7 248.1 317.3 248.3 318.1C248.5 318.9 248.2 319.8 248.1 320.6C248.0 321.5 247.8 322.3 247.6 323.1C247.3 323.9 247.2 324.9 246.7 325.5C246.2 326.1 244.8 326.4 244.4 326.6" stroke="#12b012" stroke-width="0.60"/>
<path d="M256.3 337.9C255.9 338.1 254.8 338.9 254.0 338.9C253.3 338.9 252.2 338.4 251.8 337.8C251.4 337.2 251.6 336.1 251.8 335.3C251.9 334.5 252.6 333.8 252.8 333.0C253.0 332.2 252.5 331.2 252.9 330.5C253.2 329.8 254.6 329.6 254.8 329.0C255.1 328.3 254.4 327.4 254.2 326.6C254.1 325.7 254.1 324.9 254.0 324.1C253.9 323.3 253.4 322.3 253.6 321.6C253.8 320.9 254.6 320.3 255.3 319.8C255.9 319.3 256.9 319.1 257.4 318.5C257.9 317.9 258.2 316.9 258.1 316.1C258.1 315.3 257.6 314.3 257.0 313.9C256.3 313.6 255.2 314.2 254.5 314.0C253.7 313.8 252.8 313.3 252.4 312.7C251.9 312.0 251.9 311.0 251.6 310.3C251.2 309.6 250.7 308.7 250.1 308.3C249.5 307.8 248.5 307.9 247.7 307.6C246.9 307.3 246.2 306.6 245.4 306.6C244.7 306.5 243.8 307.1 243.1 307.3C242.3 307.6 241.4 307.6 240.6 307.9C239.9 308.3 238.9 309.2 238.6 309.4" stroke="#12b012" stroke-width="0.60"/>
<path d="M295.2 325.6C294.9 325.6 294.0 325.6 293.6 325.8C293.1 326.0 292.8 326.6 292.3 326.8C291.8 327.0 291.0 326.7 290.7 327.0C290.3 327.2 290.1 328.0 290.1 328.5C290.2 329.0 290.5 329.5 290.9 329.9C291.2 330.3 291.9 330.5 292.1 330.9C292.4 331.3 292.1 332.1 292.3 332.5C292.6 332.9 293.2 333.2 293.7 333.3C294.2 333.4 294.7 332.8 295.2 332.9C295.7 332.9 296.7 333.5 296.7 333.6C296.6 333.8 295.6 333.9 295.1 333.8C294.6 333.7 294.2 333.1 293.7 333.0C293.2 332.9 292.5 333.1 292.1 333.4C291.7 333.6 291.6 334.3 291.2 334.7C290.9 335.1 290.4 335.4 289.9 335.6C289.4 335.8 288.9 335.9 288.3 336.0C287.8 336.0 287.1 336.2 286.7 336.0C286.3 335.7 286.2 334.9 285.8 334.7C285.4 334.4 284.7 334.1 284.2 334.3C283.8 334.4 283.3 335.2 283.1 335.4" stroke="#12b012" stroke-width="0.60"/>
<path d="M257.3 312.0C257.6 312.3 258.5 313.3 259.2 313.5C259.9 313.8 260.8 313.4 261.6 313.5C262.4 313.5 263.2 313.8 264.0 313.8C264.8 313.8 265.6 313.5 266.4 313.5C267.2 313.5 268.0 313.6 268.8 313.8C269.6 313.9 270.7 314.1 271.1 314.6C271.4 315.1 270.8 316.4 271.1 317.0C271.5 317.6 272.7 317.5 273.3 318.0C274.0 318.5 274.3 319.4 275.0 319.7C275.7 320.0 276.7 319.6 277.4 319.7C278.2 319.8 279.1 320.6 279.7 320.4C280.4 320.3 280.9 319.3 281.4 318.7C282.0 318.1 282.5 317.5 282.9 316.9C283.4 316.2 283.5 315.3 284.0 314.7C284.4 314.0 285.4 313.7 285.7 313.0C285.9 312.3 285.9 311.1 285.4 310.6C285.0 310.1 283.9 310.0 283.1 309.9C282.4 309.8 281.5 310.2 280.7 309.9C280.0 309.7 279.4 309.1 278.8 308.5C278.3 307.9 277.7 307.2 277.5 306.5C277.3 305.7 277.3 304.2 277.7 304.1C278.0 303.9 279.1 305.0 279.6 305.6C280.0 306.2 280.0 307.2 280.5 307.8C281.0 308.4 282.1 308.6 282.5 309.2C282.9 309.8 282.9 311.2 283.0 311.6" stroke="#12b012" stroke-width="0.60"/>
<path d="M284.0 313.9C284.1 313.6 284.0 312.5 284.4 312.0C284.8 311.6 285.6 311.5 286.2 311.2C286.7 311.0 287.2 310.3 287.8 310.3C288.4 310.2 289.0 311.0 289.6 311.0C290.2 310.9 290.8 310.4 291.3 310.0C291.8 309.6 292.3 309.2 292.7 308.7C293.1 308.2 293.1 307.4 293.5 306.9C293.9 306.5 294.7 306.1 295.3 306.1C295.8 306.1 296.6 306.4 297.0 306.9C297.4 307.3 297.4 308.1 297.5 308.7C297.5 309.4 297.5 310.1 297.3 310.7C297.0 311.2 296.6 311.9 296.1 312.2C295.5 312.4 294.7 312.2 294.1 312.0C293.5 311.9 292.8 311.6 292.4 311.2C291.9 310.8 291.9 310.0 291.4 309.5C291.0 309.0 290.5 308.6 289.9 308.3C289.4 308.1 288.7 308.0 288.0 307.9C287.4 307.8 286.4 307.9 286.1 307.9" stroke="#12b012" stroke-width="0.60"/>
<path d="M265.5 313.6C265.8 313.4 266.6 312.4 267.2 312.3C267.8 312.2 268.6 312.9 269.3 312.9C270.0 313.0 270.7 313.0 271.4 312.8C272.1 312.7 272.9 312.0 273.5 312.1C274.1 312.2 274.6 313.0 275.0 313.7C275.3 314.3 275.0 315.2 275.4 315.8C275.8 316.3 276.7 316.5 277.3 316.8C277.9 317.2 278.5 317.7 279.1 318.1C279.7 318.5 280.3 318.8 280.9 319.3C281.4 319.8 281.7 320.5 282.3 320.9C282.9 321.3 283.7 321.5 284.4 321.5C285.1 321.5 285.9 320.8 286.5 321.0C287.1 321.1 287.5 322.0 288.0 322.6C288.4 323.1 288.7 323.8 289.0 324.4C289.4 325.1 289.8 325.7 289.9 326.4C290.0 327.1 290.0 327.9 289.8 328.6C289.5 329.2 288.6 329.6 288.4 330.3C288.2 330.9 288.8 331.8 288.7 332.4C288.5 333.1 287.7 333.9 287.5 334.2" stroke="#12b012" stroke-width="0.60"/>
<path d="M235.7 321.4C235.7 321.7 235.5 322.5 235.4 323.0C235.3 323.6 235.5 324.1 235.4 324.7C235.3 325.2 234.7 325.8 234.8 326.2C235.0 326.7 235.9 326.8 236.1 327.3C236.2 327.7 236.0 328.8 235.8 328.9C235.6 329.0 235.0 328.1 234.7 327.7C234.5 327.2 234.3 326.6 234.3 326.1C234.2 325.6 234.2 325.0 234.4 324.5C234.6 324.0 235.1 323.6 235.4 323.2C235.7 322.7 235.9 322.2 236.3 321.8C236.7 321.5 237.4 321.2 237.8 321.2C238.3 321.2 238.7 321.9 239.2 322.1C239.7 322.2 240.4 321.8 240.9 322.1C241.3 322.3 241.5 323.0 241.7 323.4C242.0 323.9 242.0 324.5 242.2 325.0C242.5 325.5 242.7 326.2 243.2 326.4C243.6 326.5 244.3 326.1 244.8 326.2C245.3 326.3 245.7 326.7 246.2 327.0C246.7 327.2 247.3 327.6 247.8 327.5C248.2 327.4 248.8 326.8 248.9 326.3C249.0 325.9 248.7 325.2 248.4 324.8C248.0 324.4 247.3 324.1 246.8 324.2C246.4 324.3 246.1 325.1 245.7 325.4C245.3 325.7 244.5 326.0 244.2 326.1" stroke="#12b012" stroke-width="0.60"/>
<path d="M253.5 337.0C253.6 337.3 253.7 338.3 254.1 338.7C254.5 339.1 255.4 338.9 255.8 339.3C256.3 339.6 256.5 340.3 256.8 340.8C257.1 341.3 257.3 341.9 257.8 342.3C258.2 342.8 258.7 343.3 259.3 343.4C259.8 343.5 260.4 342.9 261.0 342.9C261.6 342.9 262.2 343.5 262.7 343.5C263.3 343.4 263.8 342.8 264.2 342.4C264.6 342.0 265.0 341.4 265.3 340.9C265.6 340.4 266.2 339.9 266.2 339.4C266.2 338.9 265.5 338.4 265.2 337.9C265.0 337.3 265.0 336.7 264.7 336.1C264.5 335.6 264.3 334.9 263.8 334.5C263.4 334.2 262.6 334.1 262.0 334.1C261.5 334.2 260.7 334.4 260.4 334.9C260.1 335.3 260.2 336.1 260.4 336.7C260.6 337.2 261.4 337.6 261.6 338.1C261.8 338.6 261.5 339.5 261.8 339.9C262.1 340.3 263.2 340.2 263.5 340.6C263.8 341.0 263.6 341.8 263.7 342.4C263.8 343.0 263.8 343.8 264.1 344.2C264.5 344.6 265.5 344.7 265.8 344.8" stroke="#12b012" stroke-width="0.60"/>
<path d="M271.8 338.6C271.5 338.6 270.6 338.7 270.2 339.1C269.7 339.4 269.5 340.0 269.2 340.5C268.9 341.0 268.7 341.8 268.3 342.0C267.8 342.1 267.1 341.9 266.6 341.7C266.1 341.4 265.9 340.6 265.4 340.4C264.9 340.3 264.2 340.4 263.7 340.7C263.2 340.9 262.8 341.4 262.4 341.9C262.1 342.3 262.0 343.1 261.6 343.4C261.2 343.7 260.4 343.5 259.9 343.6C259.3 343.8 258.8 344.0 258.2 344.1C257.6 344.1 257.0 343.8 256.5 343.9C255.9 344.0 255.4 344.9 255.0 344.8C254.6 344.6 254.3 343.7 254.3 343.2C254.2 342.6 254.4 342.0 254.7 341.5C255.0 341.0 255.8 340.8 256.0 340.3C256.2 339.8 255.9 339.2 255.9 338.6C256.0 338.0 256.0 337.4 256.2 336.9C256.3 336.3 256.6 335.7 256.9 335.3C257.3 334.9 258.0 334.8 258.5 334.5C258.9 334.2 259.7 334.0 259.9 333.5C260.1 333.1 259.5 332.3 259.7 331.8C259.9 331.3 260.7 331.2 261.0 330.7C261.3 330.3 261.3 329.6 261.6 329.1C261.9 328.7 262.5 328.4 263.0 328.1C263.4 327.7 263.8 327.1 264.3 326.9C264.8 326.7 265.7 326.8 266.0 326.8" stroke="#12b012" stroke-width="0.60"/>
<path d="M272.7 338.7C273.0 338.5 273.8 337.7 274.5 337.5C275.2 337.3 276.0 337.4 276.7 337.5C277.5 337.6 278.2 337.9 278.9 338.0C279.6 338.1 280.4 338.2 281.1 338.0C281.8 337.9 282.7 337.7 283.2 337.2C283.7 336.7 284.1 335.7 283.9 335.1C283.8 334.5 282.9 334.0 282.3 333.6C281.7 333.2 281.0 332.9 280.2 332.8C279.5 332.7 278.6 332.7 278.0 333.1C277.5 333.5 277.4 334.4 277.1 335.1C276.8 335.8 276.4 336.4 276.2 337.1C276.0 337.8 276.4 338.8 276.1 339.4C275.8 339.9 274.8 340.3 274.1 340.4C273.5 340.5 272.6 340.3 272.0 340.0C271.3 339.8 270.5 339.4 270.1 338.8C269.7 338.3 270.0 337.3 269.7 336.6C269.4 336.0 268.9 335.2 268.3 335.0C267.7 334.7 266.8 335.1 266.1 335.1C265.3 335.0 264.6 334.5 263.9 334.6C263.2 334.7 262.5 335.7 261.9 335.6C261.3 335.5 260.8 334.6 260.2 334.1C259.6 333.7 258.7 333.6 258.3 333.0C257.9 332.4 258.1 331.2 258.1 330.8" stroke="#12b012" stroke-width="0.60"/>
<path d="M273.4 344.3C273.4 344.7 273.5 345.9 273.2 346.5C272.9 347.2 272.1 347.7 271.4 348.0C270.8 348.2 269.9 348.1 269.2 347.8C268.5 347.6 267.6 347.1 267.3 346.5C267.1 346.0 267.4 345.0 267.7 344.3C268.0 343.7 268.7 343.1 269.3 342.7C269.9 342.3 270.7 342.1 271.4 342.0C272.2 341.9 273.0 342.3 273.7 342.2C274.4 342.1 275.3 341.7 275.7 341.2C276.2 340.7 276.1 339.7 276.4 339.1C276.8 338.4 277.6 337.8 277.6 337.2C277.7 336.5 276.9 335.8 276.6 335.1C276.3 334.4 276.2 333.7 276.0 333.0C275.8 332.2 275.6 331.5 275.5 330.8C275.4 330.0 275.6 329.1 275.2 328.5C274.8 328.0 273.9 327.4 273.2 327.4C272.6 327.4 271.6 328.3 271.3 328.5" stroke="#12b012" stroke-width="0.60"/>
<path d="M266.3 313.0C266.7 313.2 267.8 314.1 268.5 314.0C269.2 314.0 270.2 313.4 270.5 312.8C270.8 312.2 270.5 311.1 270.2 310.4C269.9 309.7 269.4 308.8 268.8 308.5C268.2 308.2 267.2 308.7 266.4 308.9C265.6 309.0 264.8 309.1 264.1 309.4C263.4 309.7 262.4 310.1 262.1 310.7C261.9 311.3 262.4 312.3 262.5 313.1C262.7 313.8 262.8 314.7 263.2 315.4C263.5 316.0 264.2 316.7 264.8 317.1C265.5 317.4 266.4 317.3 267.2 317.4C268.0 317.6 268.7 318.0 269.5 318.0C270.3 318.0 271.3 318.1 271.9 317.6C272.4 317.2 272.1 315.9 272.7 315.4C273.2 315.0 274.4 314.7 275.0 315.0C275.6 315.2 275.8 316.4 276.4 316.9C277.0 317.3 278.0 317.2 278.7 317.6C279.4 318.0 280.0 318.6 280.5 319.1C281.1 319.7 281.4 320.6 282.0 321.0C282.6 321.4 283.5 321.4 284.3 321.7C285.0 322.0 285.7 322.5 286.5 322.6C287.2 322.7 288.1 322.5 288.8 322.2C289.5 321.9 290.3 320.9 290.6 320.6" stroke="#12b012" stroke-width="0.60"/>
<path d="M277.1 321.6C277.1 321.9 277.7 323.0 277.5 323.5C277.4 324.1 276.3 324.5 276.2 325.0C276.1 325.6 277.0 326.2 277.0 326.9C277.0 327.5 276.3 328.1 276.3 328.7C276.4 329.3 277.1 329.9 277.2 330.5C277.3 331.2 276.7 332.0 277.0 332.5C277.2 333.0 278.2 333.2 278.6 333.7C279.0 334.2 279.4 335.0 279.3 335.5C279.2 336.1 278.3 336.5 278.0 337.1C277.8 337.7 277.6 338.5 277.8 339.1C278.0 339.6 278.6 340.2 279.1 340.6C279.6 341.0 280.5 341.0 280.8 341.5C281.2 342.0 281.4 342.8 281.3 343.4C281.2 344.1 280.8 345.2 280.4 345.2C280.1 345.3 279.4 343.9 279.2 343.7" stroke="#12b012" stroke-width="0.60"/>
<path d="M248.8 319.9C248.4 320.0 247.4 320.6 246.8 320.5C246.1 320.5 245.5 319.6 244.9 319.7C244.2 319.7 243.7 320.6 243.0 320.7C242.4 320.8 241.7 320.2 241.0 320.2C240.3 320.3 239.7 320.7 239.0 320.9C238.4 321.2 237.7 321.5 237.0 321.6C236.4 321.8 235.3 322.3 235.0 322.0C234.6 321.7 235.1 320.5 235.0 319.9C234.8 319.2 234.1 318.5 234.2 317.9C234.3 317.3 235.1 316.7 235.6 316.4C236.2 316.0 236.9 315.6 237.6 315.6C238.2 315.5 239.0 315.8 239.6 316.0C240.3 316.2 240.9 316.6 241.6 316.8C242.3 317.0 243.0 316.9 243.7 317.2C244.3 317.5 244.7 318.5 245.3 318.6C245.9 318.6 246.6 317.5 247.1 317.6C247.7 317.6 248.2 318.5 248.7 318.9C249.3 319.3 250.2 319.8 250.5 320.0" stroke="#12b012" stroke-width="0.60"/>
<path d="M276.2 335.3C276.5 335.4 277.6 335.7 277.9 336.1C278.2 336.6 277.6 337.5 277.9 338.0C278.1 338.5 278.8 338.9 279.3 339.3C279.9 339.6 280.6 339.6 281.1 340.1C281.5 340.5 281.9 341.2 282.0 341.7C282.0 342.3 281.8 343.2 281.4 343.6C281.0 343.9 280.1 343.8 279.5 343.7C278.9 343.5 278.4 343.0 277.9 342.6C277.3 342.3 276.9 341.7 276.4 341.5C275.8 341.3 275.1 341.5 274.4 341.6C273.8 341.7 273.0 341.7 272.6 342.1C272.2 342.5 272.1 343.3 272.1 343.9C272.1 344.5 272.3 345.2 272.5 345.8C272.7 346.4 273.4 347.3 273.2 347.6C273.0 347.9 271.9 347.5 271.3 347.5C270.7 347.6 270.0 347.9 269.4 347.9C268.8 347.9 268.1 347.9 267.5 347.7C266.9 347.5 266.4 347.0 265.9 346.7C265.3 346.4 264.6 346.3 264.1 345.9C263.7 345.6 263.4 344.9 263.1 344.3C262.9 343.7 262.4 343.0 262.5 342.5C262.6 342.0 263.3 341.6 263.8 341.1C264.3 340.7 264.7 340.2 265.3 339.9C265.8 339.5 266.4 339.4 267.0 339.1C267.6 338.8 268.3 338.2 268.6 338.0" stroke="#12b012" stroke-width="0.60"/>
<path d="M236.3 324.7C236.5 324.5 237.4 324.2 237.6 323.7C237.8 323.3 237.3 322.6 237.3 322.1C237.3 321.5 237.3 320.9 237.3 320.4C237.3 319.8 237.2 319.2 237.4 318.7C237.5 318.2 237.9 317.7 238.2 317.3C238.5 316.8 238.8 316.2 239.3 316.0C239.7 315.8 240.4 315.9 240.9 316.0C241.4 316.2 242.0 316.6 242.3 317.1C242.5 317.5 242.0 318.3 242.2 318.8C242.4 319.3 242.8 319.9 243.2 320.1C243.6 320.3 244.4 319.7 244.9 319.9C245.3 320.1 245.5 321.0 246.0 321.2C246.4 321.3 247.2 321.0 247.5 320.6C247.8 320.3 248.0 319.5 247.8 319.0C247.7 318.5 246.8 318.2 246.7 317.8C246.6 317.3 247.0 316.5 247.4 316.2C247.8 316.0 248.8 316.2 249.1 316.1" stroke="#12b012" stroke-width="0.60"/>
<path d="M240.6 329.4C240.5 329.0 240.4 327.6 239.9 327.0C239.3 326.4 238.2 326.3 237.6 325.8C236.9 325.3 236.1 324.6 235.9 323.9C235.7 323.1 236.5 322.1 236.3 321.4C236.1 320.6 234.8 320.2 234.6 319.5C234.4 318.7 234.6 317.5 235.1 317.0C235.5 316.4 236.7 316.2 237.5 316.2C238.3 316.3 239.5 316.7 239.9 317.3C240.2 317.9 239.6 319.1 239.8 319.9C240.0 320.6 240.5 321.4 241.0 322.1C241.6 322.7 242.3 323.6 243.1 323.7C243.8 323.7 244.6 322.4 245.3 322.5C246.1 322.5 246.9 323.3 247.4 324.0C247.9 324.6 247.9 325.6 248.3 326.4C248.7 327.1 249.6 327.7 249.7 328.5C249.9 329.3 249.1 330.4 249.5 331.1C249.8 331.7 251.0 331.8 251.6 332.4C252.2 333.0 252.9 333.7 253.2 334.5C253.4 335.2 253.3 336.6 253.3 337.0" stroke="#12b012" stroke-width="0.60"/>
<path d="M256.6 341.4L268.2 342.9" stroke="#0b800b" stroke-width="1.57" stroke-linecap="butt"/>
<g fill="#25dc25" stroke="#0b800b" stroke-width="0.25"><ellipse cx="257.7" cy="341.6" rx="0.85" ry="2.25" transform="rotate(32 257.7 341.6)"/><ellipse cx="260.1" cy="341.9" rx="0.85" ry="2.25" transform="rotate(32 260.1 341.9)"/><ellipse cx="262.4" cy="342.2" rx="0.85" ry="2.25" transform="rotate(32 262.4 342.2)"/><ellipse cx="264.7" cy="342.5" rx="0.85" ry="2.25" transform="rotate(32 264.7 342.5)"/><ellipse cx="267.1" cy="342.8" rx="0.85" ry="2.25" transform="rotate(32 267.1 342.8)"/></g>
<path d="M284.0 310.9L295.4 304.8" stroke="#0b800b" stroke-width="1.49" stroke-linecap="butt"/>
<g fill="#25dc25" stroke="#0b800b" stroke-width="0.25"><ellipse cx="285.0" cy="310.3" rx="0.85" ry="2.12" transform="rotate(-3 285.0 310.3)"/><ellipse cx="286.9" cy="309.3" rx="0.85" ry="2.12" transform="rotate(-3 286.9 309.3)"/><ellipse cx="288.8" cy="308.3" rx="0.85" ry="2.12" transform="rotate(-3 288.8 308.3)"/><ellipse cx="290.7" cy="307.3" rx="0.85" ry="2.12" transform="rotate(-3 290.7 307.3)"/><ellipse cx="292.6" cy="306.3" rx="0.85" ry="2.12" transform="rotate(-3 292.6 306.3)"/><ellipse cx="294.5" cy="305.3" rx="0.85" ry="2.12" transform="rotate(-3 294.5 305.3)"/></g>
<path d="M274.5 332.8C274.7 333.0 275.2 333.9 275.6 334.1C276.1 334.3 277.0 334.5 277.4 334.2C277.8 334.0 277.9 333.2 278.2 332.7C278.6 332.2 279.3 331.9 279.5 331.4C279.6 330.9 279.2 330.2 279.3 329.6C279.4 329.1 279.8 328.6 280.0 328.0C280.3 327.5 280.4 326.9 280.7 326.4C281.0 325.9 281.6 325.6 282.1 325.3C282.5 324.9 283.0 324.5 283.6 324.4C284.1 324.3 284.9 324.3 285.3 324.6C285.8 324.9 286.1 325.5 286.5 326.0C286.8 326.5 287.0 327.0 287.2 327.6C287.4 328.2 287.3 328.8 287.6 329.3C287.8 329.9 288.1 330.5 288.6 330.8C289.1 331.0 289.9 331.1 290.4 330.9C290.8 330.7 291.0 329.7 291.4 329.5C291.9 329.2 292.7 329.6 293.2 329.4C293.7 329.2 294.1 328.6 294.5 328.2C294.9 327.7 295.3 327.3 295.5 326.8C295.8 326.2 295.7 325.6 295.9 325.0C296.1 324.5 296.5 323.4 296.7 323.4C296.9 323.5 296.7 324.6 296.9 325.2C297.0 325.8 297.5 326.6 297.6 326.8" stroke="#fff" stroke-width="0.95"/>
<path d="M274.5 332.8C274.7 333.0 275.2 333.9 275.6 334.1C276.1 334.3 277.0 334.5 277.4 334.2C277.8 334.0 277.9 333.2 278.2 332.7C278.6 332.2 279.3 331.9 279.5 331.4C279.6 330.9 279.2 330.2 279.3 329.6C279.4 329.1 279.8 328.6 280.0 328.0C280.3 327.5 280.4 326.9 280.7 326.4C281.0 325.9 281.6 325.6 282.1 325.3C282.5 324.9 283.0 324.5 283.6 324.4C284.1 324.3 284.9 324.3 285.3 324.6C285.8 324.9 286.1 325.5 286.5 326.0C286.8 326.5 287.0 327.0 287.2 327.6C287.4 328.2 287.3 328.8 287.6 329.3C287.8 329.9 288.1 330.5 288.6 330.8C289.1 331.0 289.9 331.1 290.4 330.9C290.8 330.7 291.0 329.7 291.4 329.5C291.9 329.2 292.7 329.6 293.2 329.4C293.7 329.2 294.1 328.6 294.5 328.2C294.9 327.7 295.3 327.3 295.5 326.8C295.8 326.2 295.7 325.6 295.9 325.0C296.1 324.5 296.5 323.4 296.7 323.4C296.9 323.5 296.7 324.6 296.9 325.2C297.0 325.8 297.5 326.6 297.6 326.8" stroke="#12b012" stroke-width="0.60"/>
<path d="M268.7 333.2L282.3 324.0" stroke="#0b800b" stroke-width="1.49" stroke-linecap="butt"/>
<g fill="#25dc25" stroke="#0b800b" stroke-width="0.25"><ellipse cx="269.7" cy="332.5" rx="0.85" ry="2.12" transform="rotate(-9 269.7 332.5)"/><ellipse cx="271.6" cy="331.2" rx="0.85" ry="2.12" transform="rotate(-9 271.6 331.2)"/><ellipse cx="273.6" cy="329.9" rx="0.85" ry="2.12" transform="rotate(-9 273.6 329.9)"/><ellipse cx="275.5" cy="328.6" rx="0.85" ry="2.12" transform="rotate(-9 275.5 328.6)"/><ellipse cx="277.5" cy="327.3" rx="0.85" ry="2.12" transform="rotate(-9 277.5 327.3)"/><ellipse cx="279.4" cy="325.9" rx="0.85" ry="2.12" transform="rotate(-9 279.4 325.9)"/><ellipse cx="281.3" cy="324.6" rx="0.85" ry="2.12" transform="rotate(-9 281.3 324.6)"/></g>
<path d="M286.9 340.5L293.5 334.7" stroke="#0b800b" stroke-width="1.40" stroke-linecap="butt"/>
<g fill="#25dc25" stroke="#0b800b" stroke-width="0.25"><ellipse cx="287.7" cy="339.7" rx="0.85" ry="2.00" transform="rotate(-17 287.7 339.7)"/><ellipse cx="289.4" cy="338.3" rx="0.85" ry="2.00" transform="rotate(-17 289.4 338.3)"/><ellipse cx="291.0" cy="336.8" rx="0.85" ry="2.00" transform="rotate(-17 291.0 336.8)"/><ellipse cx="292.7" cy="335.4" rx="0.85" ry="2.00" transform="rotate(-17 292.7 335.4)"/></g>
<circle cx="263.9" cy="338.8" r="1.5" stroke="#0b800b" stroke-width="1.5"/><circle cx="263.9" cy="338.8" r="1.5" stroke="#25dc25" stroke-width="0.9" stroke-dasharray="1.3 0.6"/>
<path d="M259.0 332.2L264.3 336.6" stroke="#0b800b" stroke-width="1.49" stroke-linecap="butt"/>
<g fill="#25dc25" stroke="#0b800b" stroke-width="0.25"><ellipse cx="259.9" cy="333.0" rx="0.85" ry="2.12" transform="rotate(64 259.9 333.0)"/><ellipse cx="261.7" cy="334.4" rx="0.85" ry="2.12" transform="rotate(64 261.7 334.4)"/><ellipse cx="263.4" cy="335.9" rx="0.85" ry="2.12" transform="rotate(64 263.4 335.9)"/></g>
<path d="M271.1 338.9C270.7 338.7 269.6 338.3 269.0 337.9C268.4 337.5 268.0 336.5 267.3 336.3C266.7 336.0 265.7 335.9 265.0 336.2C264.3 336.5 263.8 337.2 263.3 337.8C262.9 338.4 262.9 339.4 262.4 339.9C261.9 340.4 260.8 340.3 260.3 340.9C259.8 341.4 259.3 342.3 259.3 343.0C259.4 343.7 259.9 344.6 260.5 345.0C261.0 345.4 262.2 345.5 262.8 345.2C263.4 345.0 263.8 344.0 264.0 343.3C264.2 342.6 264.0 341.7 264.1 341.0C264.2 340.2 264.2 339.3 264.6 338.7C265.0 338.1 266.0 338.0 266.5 337.4C267.0 336.9 267.4 336.2 267.7 335.5C268.0 334.8 268.3 334.0 268.3 333.2C268.3 332.5 267.9 331.3 267.8 331.0" stroke="#fff" stroke-width="0.95"/>
<path d="M271.1 338.9C270.7 338.7 269.6 338.3 269.0 337.9C268.4 337.5 268.0 336.5 267.3 336.3C266.7 336.0 265.7 335.9 265.0 336.2C264.3 336.5 263.8 337.2 263.3 337.8C262.9 338.4 262.9 339.4 262.4 339.9C261.9 340.4 260.8 340.3 260.3 340.9C259.8 341.4 259.3 342.3 259.3 343.0C259.4 343.7 259.9 344.6 260.5 345.0C261.0 345.4 262.2 345.5 262.8 345.2C263.4 345.0 263.8 344.0 264.0 343.3C264.2 342.6 264.0 341.7 264.1 341.0C264.2 340.2 264.2 339.3 264.6 338.7C265.0 338.1 266.0 338.0 266.5 337.4C267.0 336.9 267.4 336.2 267.7 335.5C268.0 334.8 268.3 334.0 268.3 333.2C268.3 332.5 267.9 331.3 267.8 331.0" stroke="#12b012" stroke-width="0.60"/>
<path d="M239.6 327.1L246.4 327.9" stroke="#0b800b" stroke-width="1.75" stroke-linecap="butt"/>
<g fill="#25dc25" stroke="#0b800b" stroke-width="0.25"><ellipse cx="240.7" cy="327.2" rx="0.85" ry="2.50" transform="rotate(31 240.7 327.2)"/><ellipse cx="243.0" cy="327.5" rx="0.85" ry="2.50" transform="rotate(31 243.0 327.5)"/><ellipse cx="245.2" cy="327.7" rx="0.85" ry="2.50" transform="rotate(31 245.2 327.7)"/></g>
<circle cx="254.1" cy="332.7" r="1.5" stroke="#0b800b" stroke-width="1.5"/><circle cx="254.1" cy="332.7" r="1.5" stroke="#25dc25" stroke-width="0.9" stroke-dasharray="1.3 0.6"/>
<path d="M244.9 306.0L266.3 315.2" stroke="#0b800b" stroke-width="1.57" stroke-linecap="butt"/>
<g fill="#25dc25" stroke="#0b800b" stroke-width="0.25"><ellipse cx="246.0" cy="306.5" rx="0.85" ry="2.25" transform="rotate(48 246.0 306.5)"/><ellipse cx="248.1" cy="307.4" rx="0.85" ry="2.25" transform="rotate(48 248.1 307.4)"/><ellipse cx="250.3" cy="308.3" rx="0.85" ry="2.25" transform="rotate(48 250.3 308.3)"/><ellipse cx="252.4" cy="309.2" rx="0.85" ry="2.25" transform="rotate(48 252.4 309.2)"/><ellipse cx="254.5" cy="310.1" rx="0.85" ry="2.25" transform="rotate(48 254.5 310.1)"/><ellipse cx="256.7" cy="311.1" rx="0.85" ry="2.25" transform="rotate(48 256.7 311.1)"/><ellipse cx="258.8" cy="312.0" rx="0.85" ry="2.25" transform="rotate(48 258.8 312.0)"/><ellipse cx="260.9" cy="312.9" rx="0.85" ry="2.25" transform="rotate(48 260.9 312.9)"/><ellipse cx="263.1" cy="313.8" rx="0.85" ry="2.25" transform="rotate(48 263.1 313.8)"/><ellipse cx="265.2" cy="314.8" rx="0.85" ry="2.25" transform="rotate(48 265.2 314.8)"/></g>
<path d="M266.3 345.3L271.6 344.8" stroke="#0b800b" stroke-width="1.31" stroke-linecap="butt"/>
<g fill="#25dc25" stroke="#0b800b" stroke-width="0.25"><ellipse cx="267.6" cy="345.2" rx="0.85" ry="1.88" transform="rotate(20 267.6 345.2)"/><ellipse cx="270.3" cy="345.0" rx="0.85" ry="1.88" transform="rotate(20 270.3 345.0)"/></g>
<path d="M254.4 332.5C254.7 332.6 255.7 332.8 256.3 332.9C257.0 333.0 257.7 332.9 258.3 333.1C258.9 333.3 259.5 333.7 259.9 334.2C260.3 334.7 260.2 335.7 260.6 336.1C261.1 336.4 262.0 336.2 262.5 336.5C263.1 336.9 263.8 337.4 264.0 337.9C264.2 338.4 263.6 339.2 263.6 339.8C263.7 340.5 264.3 341.0 264.5 341.6C264.8 342.2 265.0 342.9 265.0 343.5C265.0 344.1 264.8 345.0 264.4 345.4C264.0 345.8 263.2 346.1 262.6 346.0C262.0 346.0 261.3 345.6 260.8 345.3C260.3 344.9 259.7 344.4 259.4 343.8C259.1 343.3 259.0 342.6 259.0 341.9C258.9 341.3 259.2 340.6 259.1 339.9C259.1 339.3 258.7 338.6 258.7 338.0C258.8 337.4 259.4 336.5 259.5 336.2" stroke="#fff" stroke-width="0.95"/>
<path d="M254.4 332.5C254.7 332.6 255.7 332.8 256.3 332.9C257.0 333.0 257.7 332.9 258.3 333.1C258.9 333.3 259.5 333.7 259.9 334.2C260.3 334.7 260.2 335.7 260.6 336.1C261.1 336.4 262.0 336.2 262.5 336.5C263.1 336.9 263.8 337.4 264.0 337.9C264.2 338.4 263.6 339.2 263.6 339.8C263.7 340.5 264.3 341.0 264.5 341.6C264.8 342.2 265.0 342.9 265.0 343.5C265.0 344.1 264.8 345.0 264.4 345.4C264.0 345.8 263.2 346.1 262.6 346.0C262.0 346.0 261.3 345.6 260.8 345.3C260.3 344.9 259.7 344.4 259.4 343.8C259.1 343.3 259.0 342.6 259.0 341.9C258.9 341.3 259.2 340.6 259.1 339.9C259.1 339.3 258.7 338.6 258.7 338.0C258.8 337.4 259.4 336.5 259.5 336.2" stroke="#12b012" stroke-width="0.60"/>
<path d="M272.3 318.7C272.1 318.4 271.6 317.3 271.0 317.2C270.5 317.1 269.8 317.7 269.2 317.8C268.5 317.9 267.7 318.1 267.2 317.8C266.7 317.6 266.6 316.5 266.1 316.2C265.6 316.0 264.6 316.5 264.1 316.2C263.7 315.9 263.6 315.0 263.3 314.4C263.1 313.8 263.0 312.9 262.5 312.6C262.1 312.3 261.2 312.7 260.6 312.6C259.9 312.5 259.3 312.2 258.7 312.1C258.1 311.9 257.3 312.1 256.8 311.8C256.2 311.5 255.9 310.6 255.4 310.4C254.8 310.1 253.9 310.0 253.4 310.2C252.9 310.5 252.7 311.3 252.4 311.9C252.2 312.5 251.9 313.2 252.0 313.8C252.1 314.4 252.6 315.1 253.0 315.5C253.5 315.8 254.4 315.7 254.9 316.1C255.4 316.5 255.8 317.1 256.1 317.6C256.5 318.2 257.0 318.7 257.1 319.3C257.1 319.9 256.9 320.8 256.4 321.2C256.0 321.5 255.1 321.1 254.5 321.4C253.9 321.6 253.5 322.5 252.9 322.5C252.4 322.5 251.5 321.7 251.2 321.6" stroke="#fff" stroke-width="0.95"/>
<path d="M272.3 318.7C272.1 318.4 271.6 317.3 271.0 317.2C270.5 317.1 269.8 317.7 269.2 317.8C268.5 317.9 267.7 318.1 267.2 317.8C266.7 317.6 266.6 316.5 266.1 316.2C265.6 316.0 264.6 316.5 264.1 316.2C263.7 315.9 263.6 315.0 263.3 314.4C263.1 313.8 263.0 312.9 262.5 312.6C262.1 312.3 261.2 312.7 260.6 312.6C259.9 312.5 259.3 312.2 258.7 312.1C258.1 311.9 257.3 312.1 256.8 311.8C256.2 311.5 255.9 310.6 255.4 310.4C254.8 310.1 253.9 310.0 253.4 310.2C252.9 310.5 252.7 311.3 252.4 311.9C252.2 312.5 251.9 313.2 252.0 313.8C252.1 314.4 252.6 315.1 253.0 315.5C253.5 315.8 254.4 315.7 254.9 316.1C255.4 316.5 255.8 317.1 256.1 317.6C256.5 318.2 257.0 318.7 257.1 319.3C257.1 319.9 256.9 320.8 256.4 321.2C256.0 321.5 255.1 321.1 254.5 321.4C253.9 321.6 253.5 322.5 252.9 322.5C252.4 322.5 251.5 321.7 251.2 321.6" stroke="#12b012" stroke-width="0.60"/>
<path d="M255.9 337.6C255.6 337.6 254.6 337.6 254.0 337.8C253.3 337.9 252.7 338.2 252.1 338.5C251.5 338.8 251.0 339.3 250.4 339.5C249.8 339.7 249.1 339.5 248.5 339.5C247.8 339.6 247.0 339.3 246.5 339.5C245.9 339.8 245.6 340.9 245.1 341.0C244.6 341.0 244.1 340.2 243.6 339.8C243.1 339.4 242.6 338.9 242.1 338.5C241.6 338.1 240.8 337.9 240.4 337.4C240.1 336.9 240.2 336.1 240.3 335.4C240.3 334.8 240.5 334.1 240.8 333.5C241.1 332.9 241.6 332.5 242.0 331.9C242.4 331.4 242.9 330.9 243.2 330.4C243.5 329.8 243.8 329.2 244.0 328.6C244.2 328.0 244.2 327.3 244.5 326.7C244.8 326.1 245.4 325.7 245.7 325.1C246.1 324.6 246.7 324.0 246.7 323.4C246.7 322.9 246.2 322.1 245.8 321.7C245.3 321.3 244.5 320.9 244.0 320.9C243.4 321.0 242.6 321.6 242.4 322.2C242.2 322.7 242.6 323.5 242.8 324.1C243.0 324.7 243.4 325.3 243.8 325.8C244.2 326.3 244.7 326.8 245.2 327.2C245.7 327.6 246.2 328.2 246.8 328.4C247.4 328.5 248.4 328.3 248.7 328.2" stroke="#fff" stroke-width="0.95"/>
<path d="M255.9 337.6C255.6 337.6 254.6 337.6 254.0 337.8C253.3 337.9 252.7 338.2 252.1 338.5C251.5 338.8 251.0 339.3 250.4 339.5C249.8 339.7 249.1 339.5 248.5 339.5C247.8 339.6 247.0 339.3 246.5 339.5C245.9 339.8 245.6 340.9 245.1 341.0C244.6 341.0 244.1 340.2 243.6 339.8C243.1 339.4 242.6 338.9 242.1 338.5C241.6 338.1 240.8 337.9 240.4 337.4C240.1 336.9 240.2 336.1 240.3 335.4C240.3 334.8 240.5 334.1 240.8 333.5C241.1 332.9 241.6 332.5 242.0 331.9C242.4 331.4 242.9 330.9 243.2 330.4C243.5 329.8 243.8 329.2 244.0 328.6C244.2 328.0 244.2 327.3 244.5 326.7C244.8 326.1 245.4 325.7 245.7 325.1C246.1 324.6 246.7 324.0 246.7 323.4C246.7 322.9 246.2 322.1 245.8 321.7C245.3 321.3 244.5 320.9 244.0 320.9C243.4 321.0 242.6 321.6 242.4 322.2C242.2 322.7 242.6 323.5 242.8 324.1C243.0 324.7 243.4 325.3 243.8 325.8C244.2 326.3 244.7 326.8 245.2 327.2C245.7 327.6 246.2 328.2 246.8 328.4C247.4 328.5 248.4 328.3 248.7 328.2" stroke="#12b012" stroke-width="0.60"/>
<circle cx="241.5" cy="327.4" r="1.5" stroke="#0b800b" stroke-width="1.5"/><circle cx="241.5" cy="327.4" r="1.5" stroke="#25dc25" stroke-width="0.9" stroke-dasharray="1.3 0.6"/>
<path d="M246.4 334.2L253.2 332.7" stroke="#0b800b" stroke-width="1.57" stroke-linecap="butt"/>
<g fill="#25dc25" stroke="#0b800b" stroke-width="0.25"><ellipse cx="247.5" cy="333.9" rx="0.85" ry="2.25" transform="rotate(13 247.5 333.9)"/><ellipse cx="249.8" cy="333.4" rx="0.85" ry="2.25" transform="rotate(13 249.8 333.4)"/><ellipse cx="252.0" cy="333.0" rx="0.85" ry="2.25" transform="rotate(13 252.0 333.0)"/></g>
<path d="M278.8 316.6C279.2 316.9 280.3 317.5 280.9 318.1C281.6 318.7 282.5 319.4 282.5 320.1C282.6 320.9 281.5 321.6 281.3 322.4C281.1 323.2 281.6 324.2 281.4 325.0C281.1 325.8 279.9 326.4 279.9 327.1C279.9 327.8 280.6 329.0 281.3 329.3C281.9 329.6 283.0 328.8 283.8 329.0C284.6 329.2 285.2 330.3 286.0 330.4C286.8 330.5 287.6 329.5 288.4 329.5C289.3 329.5 290.1 329.9 290.9 330.2C291.7 330.5 292.5 330.9 293.3 331.3C294.1 331.6 295.3 331.6 295.7 332.2C296.1 332.7 295.7 333.9 295.6 334.7C295.5 335.6 295.6 337.0 295.1 337.3C294.6 337.6 293.4 336.5 292.6 336.5C291.9 336.6 291.1 337.3 290.3 337.7C289.6 338.1 288.8 338.6 288.0 338.8C287.2 339.1 285.9 339.2 285.5 339.3" stroke="#fff" stroke-width="0.95"/>
<path d="M278.8 316.6C279.2 316.9 280.3 317.5 280.9 318.1C281.6 318.7 282.5 319.4 282.5 320.1C282.6 320.9 281.5 321.6 281.3 322.4C281.1 323.2 281.6 324.2 281.4 325.0C281.1 325.8 279.9 326.4 279.9 327.1C279.9 327.8 280.6 329.0 281.3 329.3C281.9 329.6 283.0 328.8 283.8 329.0C284.6 329.2 285.2 330.3 286.0 330.4C286.8 330.5 287.6 329.5 288.4 329.5C289.3 329.5 290.1 329.9 290.9 330.2C291.7 330.5 292.5 330.9 293.3 331.3C294.1 331.6 295.3 331.6 295.7 332.2C296.1 332.7 295.7 333.9 295.6 334.7C295.5 335.6 295.6 337.0 295.1 337.3C294.6 337.6 293.4 336.5 292.6 336.5C291.9 336.6 291.1 337.3 290.3 337.7C289.6 338.1 288.8 338.6 288.0 338.8C287.2 339.1 285.9 339.2 285.5 339.3" stroke="#12b012" stroke-width="0.60"/>
<path d="M243.9 334.4C244.1 334.2 244.6 333.5 245.0 333.2C245.4 332.8 245.8 332.2 246.3 332.1C246.7 332.0 247.3 332.7 247.8 332.6C248.3 332.6 248.8 331.8 249.2 331.8C249.7 331.8 250.2 332.6 250.7 332.5C251.1 332.5 251.5 331.7 252.0 331.6C252.5 331.5 253.1 331.8 253.6 332.0C254.1 332.1 254.6 332.5 255.1 332.7C255.6 332.9 256.0 333.3 256.6 333.4C257.1 333.5 257.7 333.0 258.2 333.0C258.7 333.1 259.1 333.6 259.6 333.9C260.0 334.2 260.7 334.5 260.8 334.9C261.0 335.4 260.9 336.1 260.6 336.6C260.4 337.0 259.7 337.6 259.5 337.8" stroke="#fff" stroke-width="0.95"/>
<path d="M243.9 334.4C244.1 334.2 244.6 333.5 245.0 333.2C245.4 332.8 245.8 332.2 246.3 332.1C246.7 332.0 247.3 332.7 247.8 332.6C248.3 332.6 248.8 331.8 249.2 331.8C249.7 331.8 250.2 332.6 250.7 332.5C251.1 332.5 251.5 331.7 252.0 331.6C252.5 331.5 253.1 331.8 253.6 332.0C254.1 332.1 254.6 332.5 255.1 332.7C255.6 332.9 256.0 333.3 256.6 333.4C257.1 333.5 257.7 333.0 258.2 333.0C258.7 333.1 259.1 333.6 259.6 333.9C260.0 334.2 260.7 334.5 260.8 334.9C261.0 335.4 260.9 336.1 260.6 336.6C260.4 337.0 259.7 337.6 259.5 337.8" stroke="#12b012" stroke-width="0.60"/>
<path d="M288.8 333.0C288.8 332.7 289.1 331.5 288.9 330.8C288.8 330.1 288.1 329.5 288.0 328.8C287.9 328.1 288.3 327.3 288.4 326.6C288.4 325.8 288.2 325.1 288.3 324.3C288.4 323.6 289.2 322.8 289.1 322.2C288.9 321.6 288.1 320.8 287.5 320.6C286.9 320.4 286.0 320.8 285.3 321.1C284.6 321.4 284.2 322.1 283.5 322.5C282.9 322.8 282.1 322.8 281.4 323.2C280.7 323.5 280.1 324.0 279.6 324.5C279.0 325.0 278.7 326.0 278.1 326.2C277.5 326.4 276.6 326.0 275.9 325.7C275.2 325.5 274.3 325.4 273.8 324.9C273.4 324.4 273.7 323.3 273.3 322.7C272.9 322.2 272.1 321.7 271.4 321.6C270.7 321.5 269.9 322.1 269.2 322.1C268.5 322.0 267.7 321.7 267.0 321.5C266.3 321.2 265.6 320.9 264.9 320.7C264.2 320.4 263.1 320.2 262.8 320.1" stroke="#fff" stroke-width="0.95"/>
<path d="M288.8 333.0C288.8 332.7 289.1 331.5 288.9 330.8C288.8 330.1 288.1 329.5 288.0 328.8C287.9 328.1 288.3 327.3 288.4 326.6C288.4 325.8 288.2 325.1 288.3 324.3C288.4 323.6 289.2 322.8 289.1 322.2C288.9 321.6 288.1 320.8 287.5 320.6C286.9 320.4 286.0 320.8 285.3 321.1C284.6 321.4 284.2 322.1 283.5 322.5C282.9 322.8 282.1 322.8 281.4 323.2C280.7 323.5 280.1 324.0 279.6 324.5C279.0 325.0 278.7 326.0 278.1 326.2C277.5 326.4 276.6 326.0 275.9 325.7C275.2 325.5 274.3 325.4 273.8 324.9C273.4 324.4 273.7 323.3 273.3 322.7C272.9 322.2 272.1 321.7 271.4 321.6C270.7 321.5 269.9 322.1 269.2 322.1C268.5 322.0 267.7 321.7 267.0 321.5C266.3 321.2 265.6 320.9 264.9 320.7C264.2 320.4 263.1 320.2 262.8 320.1" stroke="#12b012" stroke-width="0.60"/>
<path d="M248.7 302.8C248.9 302.5 249.5 301.7 249.8 301.1C250.2 300.6 250.4 299.9 250.5 299.3C250.7 298.6 250.7 297.3 250.8 297.3C250.9 297.3 251.1 298.7 251.0 299.3C250.8 299.9 250.3 300.6 249.8 300.9C249.2 301.1 248.3 300.5 247.8 300.7C247.2 300.9 246.8 302.0 246.3 302.1C245.7 302.2 245.1 301.5 244.5 301.2C243.9 301.0 243.2 300.5 242.6 300.5C242.0 300.6 241.6 301.4 241.0 301.8C240.4 302.1 239.6 302.3 239.2 302.7C238.9 303.2 239.0 304.1 238.8 304.7C238.6 305.3 238.1 305.9 237.9 306.5C237.8 307.2 237.7 308.0 238.0 308.5C238.3 309.1 239.1 309.3 239.6 309.7C240.1 310.1 240.6 310.7 241.0 311.1C241.5 311.6 242.3 311.9 242.5 312.5C242.8 313.0 242.5 313.8 242.5 314.5C242.5 315.1 242.7 315.9 242.5 316.5C242.3 317.1 241.6 317.4 241.2 317.9C240.7 318.5 240.4 319.1 240.1 319.7C239.8 320.2 239.1 320.9 239.2 321.5C239.3 322.0 240.0 322.7 240.5 323.0C241.1 323.2 241.9 323.1 242.5 323.2C243.2 323.2 244.2 323.2 244.5 323.2" stroke="#fff" stroke-width="0.95"/>
<path d="M248.7 302.8C248.9 302.5 249.5 301.7 249.8 301.1C250.2 300.6 250.4 299.9 250.5 299.3C250.7 298.6 250.7 297.3 250.8 297.3C250.9 297.3 251.1 298.7 251.0 299.3C250.8 299.9 250.3 300.6 249.8 300.9C249.2 301.1 248.3 300.5 247.8 300.7C247.2 300.9 246.8 302.0 246.3 302.1C245.7 302.2 245.1 301.5 244.5 301.2C243.9 301.0 243.2 300.5 242.6 300.5C242.0 300.6 241.6 301.4 241.0 301.8C240.4 302.1 239.6 302.3 239.2 302.7C238.9 303.2 239.0 304.1 238.8 304.7C238.6 305.3 238.1 305.9 237.9 306.5C237.8 307.2 237.7 308.0 238.0 308.5C238.3 309.1 239.1 309.3 239.6 309.7C240.1 310.1 240.6 310.7 241.0 311.1C241.5 311.6 242.3 311.9 242.5 312.5C242.8 313.0 242.5 313.8 242.5 314.5C242.5 315.1 242.7 315.9 242.5 316.5C242.3 317.1 241.6 317.4 241.2 317.9C240.7 318.5 240.4 319.1 240.1 319.7C239.8 320.2 239.1 320.9 239.2 321.5C239.3 322.0 240.0 322.7 240.5 323.0C241.1 323.2 241.9 323.1 242.5 323.2C243.2 323.2 244.2 323.2 244.5 323.2" stroke="#12b012" stroke-width="0.60"/>
<path d="M249.6 301.6C249.3 301.8 248.2 302.0 247.7 302.5C247.2 303.0 246.9 303.8 246.8 304.5C246.8 305.1 247.0 306.0 247.4 306.5C247.8 307.0 248.6 307.2 249.2 307.5C249.8 307.9 250.8 308.2 251.0 308.8C251.2 309.3 250.7 310.1 250.6 310.8C250.4 311.5 250.2 312.2 250.2 312.9C250.2 313.6 250.8 314.3 250.7 315.0C250.7 315.7 250.1 316.3 249.9 316.9C249.7 317.6 249.6 318.3 249.5 319.0C249.5 319.7 249.5 320.5 249.8 321.1C250.1 321.7 250.8 322.2 251.3 322.6C251.9 323.1 252.7 323.3 253.1 323.8C253.5 324.3 253.9 325.1 253.9 325.8C254.0 326.4 253.9 327.4 253.5 327.8C253.1 328.3 252.2 328.5 251.6 328.7C250.9 328.9 250.2 329.2 249.5 329.1C248.8 329.0 248.1 328.2 247.5 328.3C246.9 328.4 246.1 329.1 245.8 329.7C245.6 330.2 245.6 331.2 245.8 331.8C246.1 332.4 247.1 332.7 247.3 333.3C247.5 333.9 246.9 334.8 247.0 335.4C247.1 336.1 247.4 337.0 247.8 337.4C248.3 337.8 249.5 337.9 249.9 338.0" stroke="#fff" stroke-width="0.95"/>
<path d="M249.6 301.6C249.3 301.8 248.2 302.0 247.7 302.5C247.2 303.0 246.9 303.8 246.8 304.5C246.8 305.1 247.0 306.0 247.4 306.5C247.8 307.0 248.6 307.2 249.2 307.5C249.8 307.9 250.8 308.2 251.0 308.8C251.2 309.3 250.7 310.1 250.6 310.8C250.4 311.5 250.2 312.2 250.2 312.9C250.2 313.6 250.8 314.3 250.7 315.0C250.7 315.7 250.1 316.3 249.9 316.9C249.7 317.6 249.6 318.3 249.5 319.0C249.5 319.7 249.5 320.5 249.8 321.1C250.1 321.7 250.8 322.2 251.3 322.6C251.9 323.1 252.7 323.3 253.1 323.8C253.5 324.3 253.9 325.1 253.9 325.8C254.0 326.4 253.9 327.4 253.5 327.8C253.1 328.3 252.2 328.5 251.6 328.7C250.9 328.9 250.2 329.2 249.5 329.1C248.8 329.0 248.1 328.2 247.5 328.3C246.9 328.4 246.1 329.1 245.8 329.7C245.6 330.2 245.6 331.2 245.8 331.8C246.1 332.4 247.1 332.7 247.3 333.3C247.5 333.9 246.9 334.8 247.0 335.4C247.1 336.1 247.4 337.0 247.8 337.4C248.3 337.8 249.5 337.9 249.9 338.0" stroke="#12b012" stroke-width="0.60"/>
<path d="M244.9 299.2L252.2 300.2" stroke="#0b800b" stroke-width="1.40" stroke-linecap="butt"/>
<g fill="#25dc25" stroke="#0b800b" stroke-width="0.25"><ellipse cx="246.1" cy="299.4" rx="0.85" ry="2.00" transform="rotate(33 246.1 299.4)"/><ellipse cx="248.6" cy="299.7" rx="0.85" ry="2.00" transform="rotate(33 248.6 299.7)"/><ellipse cx="251.0" cy="300.0" rx="0.85" ry="2.00" transform="rotate(33 251.0 300.0)"/></g>
<path d="M246.2 312.7C246.5 312.4 247.4 311.8 247.8 311.2C248.1 310.6 248.1 309.7 248.2 309.0C248.4 308.3 248.9 307.6 248.8 306.9C248.7 306.2 248.0 305.7 247.7 305.0C247.4 304.4 247.4 303.6 247.1 302.9C246.9 302.2 246.3 301.6 246.2 300.9C246.2 300.2 246.4 299.3 246.8 298.8C247.3 298.3 248.3 297.8 248.8 297.9C249.4 298.1 250.0 299.0 250.1 299.7C250.2 300.3 249.5 301.1 249.5 301.8C249.6 302.5 250.5 303.0 250.6 303.7C250.7 304.4 250.0 305.1 250.0 305.8C250.0 306.5 250.3 307.3 250.8 307.9C251.2 308.4 252.1 308.6 252.6 309.0C253.1 309.5 253.4 310.3 254.0 310.8C254.5 311.2 255.3 311.6 256.0 311.6C256.7 311.7 257.6 311.4 258.1 311.0C258.5 310.5 258.7 309.5 258.6 308.9C258.6 308.2 258.1 307.4 257.6 306.9C257.1 306.5 255.9 306.7 255.5 306.2C255.1 305.8 255.0 304.5 255.0 304.1" stroke="#fff" stroke-width="0.95"/>
<path d="M246.2 312.7C246.5 312.4 247.4 311.8 247.8 311.2C248.1 310.6 248.1 309.7 248.2 309.0C248.4 308.3 248.9 307.6 248.8 306.9C248.7 306.2 248.0 305.7 247.7 305.0C247.4 304.4 247.4 303.6 247.1 302.9C246.9 302.2 246.3 301.6 246.2 300.9C246.2 300.2 246.4 299.3 246.8 298.8C247.3 298.3 248.3 297.8 248.8 297.9C249.4 298.1 250.0 299.0 250.1 299.7C250.2 300.3 249.5 301.1 249.5 301.8C249.6 302.5 250.5 303.0 250.6 303.7C250.7 304.4 250.0 305.1 250.0 305.8C250.0 306.5 250.3 307.3 250.8 307.9C251.2 308.4 252.1 308.6 252.6 309.0C253.1 309.5 253.4 310.3 254.0 310.8C254.5 311.2 255.3 311.6 256.0 311.6C256.7 311.7 257.6 311.4 258.1 311.0C258.5 310.5 258.7 309.5 258.6 308.9C258.6 308.2 258.1 307.4 257.6 306.9C257.1 306.5 255.9 306.7 255.5 306.2C255.1 305.8 255.0 304.5 255.0 304.1" stroke="#12b012" stroke-width="0.60"/>
</g>
<g fill="none" stroke-linecap="round" stroke-linejoin="round">
<path d="M433.4 246.0C433.2 246.4 433.0 247.5 432.3 248.2C431.6 249.0 430.3 249.6 429.5 250.5C428.8 251.3 428.2 252.2 427.8 253.2C427.5 254.3 427.6 255.6 427.3 256.6C427.0 257.6 426.0 258.6 426.2 259.4C426.3 260.1 427.6 260.5 428.4 261.1C429.1 261.6 430.1 262.1 430.6 262.7C431.2 263.4 431.4 264.8 431.7 265.0C432.1 265.1 432.7 263.8 432.9 263.5" stroke="#14a014" stroke-width="0.60"/>
<path d="M435.6 242.1C435.2 242.5 433.9 243.5 432.9 244.3C431.8 245.2 430.6 246.4 429.5 247.1C428.4 247.9 427.1 248.0 426.2 248.8C425.2 249.5 424.4 250.6 423.9 251.6C423.5 252.5 423.8 253.6 423.4 254.4C422.9 255.1 421.6 255.3 421.1 256.0C420.7 256.8 420.5 258.0 420.6 258.8C420.7 259.7 421.8 260.4 421.7 261.1C421.6 261.7 420.3 262.5 420.0 262.7" stroke="#14a014" stroke-width="0.60"/>
<path d="M433.4 230.4C433.6 230.8 434.5 232.3 434.5 233.2C434.5 234.0 433.3 234.7 433.4 235.4C433.5 236.0 434.4 236.6 435.1 237.1C435.7 237.5 436.9 237.6 437.3 238.2C437.8 238.7 438.1 239.8 437.9 240.4C437.7 241.0 436.0 241.9 436.2 241.9C436.4 241.9 438.1 240.7 439.0 240.4C439.9 240.2 440.9 240.0 441.8 240.4C442.6 240.8 443.6 241.9 444.0 242.6C444.5 243.4 444.1 244.2 444.6 244.9C445.0 245.5 446.2 245.9 446.8 246.6C447.4 247.2 448.1 248.3 447.9 248.8C447.7 249.3 446.3 249.4 445.7 249.3C445.1 249.3 444.8 249.1 444.2 248.6C443.7 248.0 442.9 246.1 442.3 246.0C441.7 245.9 440.9 247.6 440.7 248.2C440.5 248.9 441.5 249.4 441.2 249.9C440.9 250.4 439.5 250.6 439.0 251.2C438.5 251.9 438.0 253.1 438.2 253.8C438.4 254.5 439.3 255.3 440.1 255.5C440.9 255.7 442.1 255.1 442.9 254.9C443.7 254.7 444.5 254.0 445.1 254.4C445.7 254.7 446.2 257.1 446.5 257.2C446.8 257.2 446.5 255.7 446.8 254.9C447.1 254.2 447.8 253.3 448.5 252.7C449.1 252.0 450.2 251.6 450.7 251.0C451.2 250.5 450.8 249.9 451.3 249.3C451.7 248.8 452.7 248.3 453.5 247.9C454.3 247.5 455.4 247.8 456.3 247.1C457.2 246.4 458.5 244.0 458.8 243.8C459.0 243.5 458.6 245.2 458.0 245.4C457.4 245.7 456.1 245.3 455.2 245.4C454.2 245.5 453.1 245.4 452.4 246.0C451.6 246.6 451.5 248.3 450.7 248.8C450.0 249.3 448.4 249.0 447.9 249.0" stroke="#14a014" stroke-width="0.60"/>
<path d="M429.5 226.5C430.2 226.5 432.9 226.0 433.4 226.7C434.0 227.3 433.4 229.5 432.9 230.4C432.3 231.3 431.1 231.4 430.1 232.0C429.0 232.7 427.2 233.6 426.7 234.3C426.3 234.9 426.9 235.8 427.3 236.0C427.6 236.1 428.5 235.0 429.0 235.4C429.4 235.8 429.5 237.5 430.1 238.2C430.6 238.9 431.5 239.3 432.3 239.6C433.1 240.0 434.4 240.1 435.1 240.4C435.7 240.7 436.0 241.3 436.2 241.5" stroke="#14a014" stroke-width="0.60"/>
<path d="M450.5 275.8C450.4 276.1 449.7 277.0 449.8 277.5C449.8 278.1 450.3 278.9 450.8 279.1C451.3 279.4 452.2 279.3 452.7 279.1C453.3 278.9 453.7 278.3 454.2 277.9C454.7 277.5 455.2 277.1 455.7 276.7C456.1 276.3 456.5 275.6 457.1 275.4C457.6 275.2 458.5 275.2 459.0 275.5C459.5 275.8 460.0 276.6 460.0 277.1C460.1 277.7 459.4 278.3 459.3 278.9C459.2 279.5 459.3 280.2 459.3 280.8C459.3 281.4 459.2 282.2 459.4 282.7C459.7 283.2 460.3 283.8 460.9 283.9C461.5 284.1 462.2 283.9 462.8 283.7C463.4 283.6 464.1 283.5 464.6 283.2C465.2 282.8 466.0 281.8 466.1 281.9C466.1 282.0 465.2 282.9 465.1 283.5C465.0 284.1 465.5 284.9 465.3 285.4C465.1 286.0 464.1 286.4 463.8 286.6" stroke="#14a014" stroke-width="0.60"/>
<path d="M447.0 306.1C446.7 305.9 445.8 305.4 445.2 305.0C444.6 304.7 444.0 304.0 443.4 303.9C442.8 303.8 442.1 304.5 441.4 304.6C440.8 304.7 440.0 304.6 439.3 304.5C438.7 304.3 438.0 303.9 437.3 303.8C436.6 303.8 435.9 304.0 435.3 304.3C434.6 304.5 434.1 305.1 433.4 305.3C432.7 305.4 432.0 305.1 431.3 305.1C430.6 305.1 429.7 305.5 429.2 305.3C428.6 305.0 428.1 304.0 428.1 303.4C428.1 302.8 428.7 302.0 429.3 301.7C429.8 301.3 430.9 301.7 431.4 301.4C431.9 301.0 432.3 300.0 432.3 299.4C432.2 298.8 431.6 298.1 431.1 297.7C430.6 297.2 429.9 296.9 429.2 296.7C428.5 296.5 427.7 296.7 427.1 296.4C426.5 296.2 425.7 295.7 425.4 295.2C425.0 294.6 425.1 293.8 425.1 293.1C425.0 292.4 424.9 291.7 425.0 291.0C425.2 290.3 425.4 289.6 425.7 289.0C426.0 288.3 426.8 287.7 426.7 287.1C426.7 286.5 425.9 286.0 425.5 285.4C425.1 284.8 424.9 284.0 424.4 283.6C423.9 283.2 422.7 283.0 422.4 282.9" stroke="#14a014" stroke-width="0.60"/>
<path d="M444.8 271.6C445.1 271.8 446.1 272.2 446.6 272.6C447.2 273.1 447.5 273.7 448.0 274.2C448.4 274.8 448.9 275.3 449.2 275.9C449.5 276.5 449.5 277.3 449.7 277.9C449.9 278.6 450.4 279.2 450.4 279.9C450.4 280.5 450.0 281.2 449.7 281.8C449.4 282.5 449.1 283.1 448.7 283.7C448.4 284.3 448.0 284.9 447.5 285.3C447.0 285.7 446.0 285.6 445.6 286.1C445.1 286.5 444.8 287.3 444.8 288.0C444.7 288.7 445.5 289.4 445.3 290.0C445.1 290.6 444.3 291.0 443.8 291.4C443.3 291.9 442.7 292.3 442.2 292.7C441.6 293.2 441.3 293.9 440.7 294.3C440.2 294.6 439.4 294.6 438.7 294.7C438.0 294.9 437.2 294.9 436.7 295.3C436.2 295.7 436.1 296.7 435.5 297.0C435.0 297.2 433.8 296.8 433.4 296.7" stroke="#14a014" stroke-width="0.60"/>
<path d="M426.6 299.0C426.3 299.1 425.5 299.4 424.9 299.5C424.3 299.5 423.6 299.3 423.1 299.5C422.7 299.8 422.3 300.5 422.3 301.1C422.2 301.6 422.7 302.2 422.8 302.7C422.9 303.3 423.1 304.1 422.9 304.5C422.7 305.0 422.0 305.4 421.5 305.5C420.9 305.5 420.2 305.2 419.8 304.8C419.4 304.5 419.3 303.8 419.1 303.2C418.9 302.7 419.0 302.0 418.7 301.5C418.4 301.0 417.7 300.8 417.3 300.4C416.8 300.1 416.1 299.9 415.8 299.5C415.5 299.0 415.7 298.2 415.4 297.7C415.1 297.3 414.6 296.7 414.1 296.5C413.6 296.3 412.7 296.7 412.4 296.7" stroke="#14a014" stroke-width="0.60"/>
<path d="M410.6 268.0C410.9 267.8 411.9 267.0 412.6 266.6C413.3 266.2 414.1 266.0 414.7 265.5C415.4 265.0 415.8 264.3 416.3 263.7C416.7 263.0 416.9 261.7 417.4 261.5C418.0 261.4 419.2 262.2 419.5 262.8C419.8 263.5 419.0 264.6 419.2 265.2C419.5 265.9 420.6 266.3 420.9 267.0C421.2 267.7 420.9 268.6 421.0 269.4C421.0 270.2 421.2 271.0 421.3 271.8C421.4 272.6 421.5 273.4 421.5 274.2C421.5 275.0 421.7 276.1 421.3 276.6C420.9 277.2 419.6 277.1 419.1 277.6C418.5 278.2 418.7 279.3 418.2 279.9C417.7 280.5 416.6 280.6 416.2 281.3C415.8 281.9 415.9 282.9 416.0 283.7C416.0 284.5 416.5 285.3 416.4 286.1C416.3 286.8 415.8 287.6 415.3 288.2C414.9 288.9 414.3 289.5 413.6 289.9C412.9 290.4 411.9 290.4 411.4 290.9C410.8 291.4 410.4 292.7 410.2 293.0" stroke="#14a014" stroke-width="0.60"/>
<path d="M448.5 297.3C448.7 297.6 449.7 298.7 449.8 299.5C449.9 300.2 449.6 301.4 449.1 301.9C448.6 302.4 447.1 301.9 446.6 302.4C446.1 302.9 445.9 304.0 446.0 304.8C446.0 305.6 446.6 306.4 447.1 307.1C447.5 307.8 448.6 308.1 448.9 308.8C449.2 309.6 448.9 310.6 448.7 311.4C448.5 312.2 448.1 313.3 447.5 313.6C446.8 313.9 445.8 313.4 445.0 313.2C444.1 313.1 443.1 313.3 442.5 312.8C441.8 312.4 441.7 311.3 441.3 310.6C440.8 309.9 440.4 309.1 439.9 308.4C439.4 307.8 438.9 306.9 438.2 306.6C437.5 306.3 436.4 306.8 435.7 306.6C434.9 306.3 434.2 305.3 433.5 305.3C432.7 305.2 431.5 306.1 431.2 306.3" stroke="#14a014" stroke-width="0.60"/>
<path d="M425.5 300.4C425.8 300.2 426.5 299.7 427.0 299.4C427.4 299.0 428.2 298.7 428.4 298.3C428.5 297.8 427.9 297.0 428.1 296.5C428.3 296.1 429.3 296.0 429.6 295.6C429.9 295.1 429.7 294.4 429.9 293.8C430.1 293.3 430.4 292.7 430.7 292.3C431.0 291.8 431.4 291.3 431.8 290.9C432.3 290.5 433.0 290.4 433.3 290.0C433.6 289.5 433.8 288.7 433.6 288.2C433.4 287.8 432.3 287.7 432.1 287.3C431.9 286.9 432.6 286.0 432.4 285.6C432.2 285.1 431.6 284.5 431.1 284.4C430.6 284.4 430.1 285.2 429.5 285.2C429.0 285.3 428.3 285.1 427.8 284.8C427.4 284.5 426.8 283.9 426.7 283.4C426.7 282.9 427.3 282.0 427.4 281.7" stroke="#14a014" stroke-width="0.60"/>
<path d="M458.8 288.8C459.1 289.0 459.9 289.9 460.5 290.0C461.2 290.1 461.9 289.4 462.6 289.4C463.3 289.4 464.0 289.7 464.7 289.8C465.4 289.9 466.2 289.6 466.9 289.9C467.5 290.1 468.1 290.7 468.4 291.4C468.7 292.0 468.7 292.9 468.4 293.5C468.1 294.1 467.3 294.5 466.7 294.8C466.0 295.1 465.2 295.0 464.6 295.2C463.9 295.5 463.4 296.0 462.8 296.4C462.2 296.9 461.8 297.5 461.1 297.8C460.5 298.1 459.6 297.9 459.0 298.3C458.4 298.6 457.9 299.2 457.5 299.7C457.0 300.3 456.5 300.8 456.1 301.4C455.7 302.0 455.1 302.5 454.9 303.2C454.7 303.9 454.8 304.6 454.7 305.3C454.6 306.0 454.3 306.7 454.1 307.4C453.9 308.1 454.1 309.1 453.6 309.5C453.2 309.9 452.2 310.1 451.5 310.0C450.9 309.9 450.0 309.0 449.7 308.9" stroke="#14a014" stroke-width="0.60"/>
<path d="M412.4 289.4C412.6 289.0 412.8 287.7 413.4 287.2C413.9 286.8 414.9 287.0 415.6 286.7C416.4 286.4 417.0 285.9 417.8 285.6C418.5 285.4 419.6 285.5 420.0 285.0C420.5 284.5 420.0 283.3 420.4 282.7C420.8 282.1 421.7 281.8 422.5 281.6C423.2 281.3 424.2 280.9 424.8 281.2C425.4 281.5 425.5 282.7 426.0 283.3C426.5 283.9 427.1 284.5 427.8 284.8C428.5 285.1 429.4 284.6 430.1 284.8C430.9 285.0 431.4 285.8 432.1 286.1C432.8 286.5 433.6 286.8 434.3 286.9C435.1 287.0 436.0 286.5 436.7 286.7C437.4 287.0 437.8 288.1 438.5 288.2C439.2 288.3 440.0 287.3 440.7 287.4C441.4 287.5 441.8 288.6 442.5 288.9C443.2 289.1 444.1 289.0 444.9 288.8C445.6 288.7 446.5 288.4 447.1 288.0C447.7 287.5 447.9 286.5 448.5 286.1C449.1 285.7 450.3 286.1 450.8 285.7C451.3 285.2 451.7 284.3 451.8 283.5C451.9 282.8 451.5 281.6 451.4 281.2" stroke="#14a014" stroke-width="0.60"/>
<path d="M433.6 313.4C433.6 313.0 433.6 311.8 433.3 311.3C432.9 310.7 432.0 310.4 431.4 310.2C430.7 310.1 429.8 310.1 429.2 310.3C428.6 310.6 428.2 311.7 427.6 311.8C427.0 311.9 426.3 311.3 425.6 311.0C425.0 310.6 424.3 310.2 423.9 309.7C423.4 309.2 423.1 308.5 422.9 307.8C422.7 307.1 422.7 306.4 422.5 305.7C422.4 305.0 422.1 304.3 422.0 303.6C421.9 302.9 421.8 302.0 422.1 301.4C422.4 300.8 423.2 300.2 423.8 300.1C424.4 300.0 425.1 301.0 425.7 301.0C426.4 301.1 427.2 300.4 427.8 300.5C428.5 300.7 429.1 301.3 429.6 301.8C430.1 302.3 430.6 302.9 430.9 303.5C431.2 304.1 431.2 305.3 431.2 305.6" stroke="#14a014" stroke-width="0.60"/>
<path d="M433.2 294.3C433.0 294.0 432.4 293.2 432.0 292.6C431.6 292.0 431.1 291.4 431.0 290.7C430.9 290.1 430.9 289.2 431.3 288.7C431.6 288.2 432.6 288.2 433.2 287.8C433.7 287.4 434.0 286.6 434.5 286.1C435.0 285.7 435.8 285.5 436.3 285.0C436.7 284.5 437.3 283.8 437.3 283.2C437.3 282.6 436.2 282.1 436.2 281.5C436.2 280.9 436.9 280.3 437.2 279.6C437.5 279.0 437.5 278.1 437.9 277.7C438.4 277.2 439.2 277.1 439.9 276.9C440.5 276.6 441.3 276.6 441.8 276.1C442.3 275.7 442.4 274.9 442.6 274.2C442.9 273.6 443.0 272.9 443.3 272.2C443.6 271.6 444.2 270.5 444.5 270.6C444.9 270.6 444.7 272.1 445.2 272.5C445.6 273.0 446.6 272.8 447.2 273.1C447.8 273.4 448.6 273.7 449.0 274.2C449.3 274.8 449.4 275.9 449.5 276.3" stroke="#14a014" stroke-width="0.60"/>
<path d="M462.2 290.4C461.9 290.5 460.9 290.8 460.5 290.6C460.0 290.4 459.5 289.8 459.2 289.3C458.9 288.8 458.5 288.1 458.6 287.6C458.8 287.2 459.7 286.9 460.0 286.5C460.2 286.0 460.0 285.3 460.0 284.7C459.9 284.1 459.6 283.6 459.5 283.0C459.5 282.4 459.5 281.7 459.8 281.2C460.1 280.8 460.6 280.3 461.2 280.1C461.7 280.0 462.5 280.0 462.9 280.3C463.3 280.6 463.4 281.4 463.8 281.9C464.1 282.3 464.9 282.5 465.1 283.0C465.3 283.5 465.1 284.2 464.9 284.7C464.6 285.2 464.1 285.8 463.6 285.9C463.1 286.1 462.5 285.7 461.9 285.5C461.4 285.3 460.8 284.7 460.3 284.8C459.8 284.8 459.3 285.6 458.8 285.6C458.2 285.6 457.4 285.1 457.1 285.0" stroke="#14a014" stroke-width="0.60"/>
<path d="M460.5 279.6C460.9 279.6 462.3 279.6 463.0 280.0C463.6 280.4 463.8 281.4 464.3 282.0C464.7 282.7 465.2 283.4 465.7 284.1C466.2 284.8 466.7 285.4 467.1 286.1C467.4 286.9 468.0 287.8 467.8 288.5C467.6 289.2 466.7 289.7 466.0 290.2C465.3 290.6 464.5 290.9 463.7 291.1C462.9 291.3 461.8 291.1 461.3 291.6C460.7 292.0 460.8 293.2 460.4 293.9C459.9 294.6 458.8 295.0 458.7 295.7C458.6 296.4 459.1 297.5 459.6 298.0C460.1 298.5 461.2 299.0 461.9 298.8C462.6 298.7 463.0 297.5 463.7 297.1C464.4 296.8 465.5 296.4 466.2 296.7C466.8 296.9 467.3 297.9 467.8 298.5C468.2 299.2 468.7 300.0 468.9 300.7C469.1 301.5 469.2 302.8 469.2 303.2" stroke="#14a014" stroke-width="0.60"/>
<path d="M462.9 282.2C462.9 281.9 463.1 281.0 462.9 280.5C462.8 279.9 462.3 279.5 461.9 279.1C461.5 278.6 460.8 278.3 460.6 277.9C460.5 277.4 460.8 276.7 461.1 276.2C461.4 275.7 462.1 275.4 462.3 274.9C462.5 274.4 462.4 273.6 462.1 273.2C461.8 272.7 461.1 272.6 460.6 272.3C460.1 272.1 459.5 271.5 459.0 271.5C458.5 271.5 457.9 272.0 457.6 272.5C457.2 272.9 456.9 273.6 456.9 274.1C457.0 274.6 457.8 275.0 457.9 275.6C458.0 276.1 457.7 276.8 457.4 277.2C457.0 277.6 456.3 277.9 455.7 277.8C455.2 277.8 454.5 277.4 454.2 276.9C454.0 276.5 454.0 275.6 454.2 275.2C454.4 274.7 455.1 274.4 455.5 274.0C456.0 273.7 456.3 273.1 456.9 272.9C457.4 272.7 458.3 272.9 458.6 272.9" stroke="#14a014" stroke-width="0.60"/>
<path d="M437.5 286.1C437.1 285.8 436.1 284.9 435.4 284.6C434.6 284.3 433.7 284.1 432.8 284.1C432.0 284.1 431.1 284.7 430.3 284.6C429.5 284.5 428.8 283.8 428.1 283.4C427.3 283.0 426.5 282.6 425.8 282.1C425.1 281.6 424.3 281.0 424.0 280.2C423.8 279.5 424.7 278.4 424.4 277.7C424.2 277.0 423.3 276.4 422.6 275.9C421.9 275.4 420.8 275.4 420.3 274.8C419.8 274.2 419.8 273.1 419.8 272.3C419.8 271.4 419.9 270.4 420.3 269.7C420.7 269.0 421.6 268.6 422.3 268.2C423.1 267.7 423.9 267.3 424.7 267.3C425.6 267.2 426.5 268.0 427.3 267.8C428.0 267.5 428.8 266.6 429.0 265.9C429.2 265.1 428.4 263.4 428.5 263.4C428.6 263.3 429.2 264.9 429.7 265.7C430.1 266.4 431.0 267.1 431.1 267.8C431.2 268.6 430.8 269.7 430.3 270.3C429.7 270.8 428.2 270.9 427.8 271.0" stroke="#14a014" stroke-width="0.60"/>
<path d="M428.9 291.2C429.3 291.2 430.6 291.3 431.4 291.2C432.2 291.0 432.9 290.5 433.7 290.2C434.4 289.8 435.3 289.6 435.9 289.1C436.6 288.6 437.0 287.9 437.5 287.2C438.1 286.6 438.5 285.7 439.2 285.4C439.9 285.1 441.0 285.7 441.7 285.4C442.4 285.1 443.2 284.3 443.4 283.6C443.6 282.9 443.3 281.8 442.9 281.1C442.5 280.5 441.7 279.6 441.0 279.5C440.3 279.3 439.4 280.0 438.7 280.3C437.9 280.7 437.1 281.0 436.5 281.6C435.9 282.1 435.6 283.0 435.2 283.7C434.8 284.4 433.9 285.1 433.9 285.8C433.9 286.5 434.9 287.2 435.2 287.9C435.5 288.7 436.0 289.6 435.9 290.3C435.8 291.1 435.2 291.9 434.8 292.6C434.4 293.3 434.0 294.1 433.4 294.7C432.8 295.2 431.9 295.4 431.3 296.0C430.8 296.6 430.7 297.5 430.3 298.3C430.0 299.0 429.7 299.9 429.2 300.5C428.6 301.1 427.7 301.3 427.0 301.7C426.3 302.1 425.5 302.7 424.8 302.8C424.0 302.9 422.8 302.9 422.3 302.5C421.8 302.0 421.8 300.9 421.5 300.1C421.3 299.3 421.1 298.4 420.6 297.8C420.1 297.1 419.0 296.5 418.6 296.3" stroke="#14a014" stroke-width="0.60"/>
<path d="M423.8 279.0C424.0 278.7 424.5 277.8 425.0 277.3C425.5 276.8 426.2 276.5 426.8 276.0C427.3 275.5 427.6 274.7 428.2 274.4C428.8 274.1 429.6 274.2 430.3 274.1C431.0 274.0 431.8 273.9 432.4 273.6C433.1 273.4 433.6 272.5 434.2 272.5C434.8 272.4 435.6 273.0 436.2 273.4C436.7 273.8 437.2 274.3 437.8 274.8C438.3 275.3 439.1 275.8 439.3 276.4C439.4 276.9 438.8 277.7 438.4 278.3C438.0 278.9 437.5 279.7 436.8 279.8C436.2 280.0 435.3 279.7 434.8 279.3C434.2 279.0 433.9 278.0 433.4 277.7C432.8 277.4 431.9 277.5 431.2 277.4C430.5 277.3 429.8 277.0 429.1 276.9C428.4 276.7 427.5 276.9 427.0 276.5C426.6 276.1 426.4 275.1 426.4 274.4C426.4 273.8 426.7 273.0 427.1 272.4C427.5 271.8 428.2 271.5 428.8 271.1C429.3 270.6 430.0 270.3 430.5 269.8C431.0 269.3 431.4 268.0 431.7 268.0C432.1 268.1 432.4 269.3 432.6 270.0C432.9 270.6 433.5 271.4 433.4 272.0C433.3 272.6 432.3 273.4 432.0 273.6" stroke="#14a014" stroke-width="0.60"/>
<path d="M463.8 277.4C464.1 277.3 465.3 276.5 465.4 276.7C465.6 276.8 464.8 277.7 464.7 278.3C464.6 278.9 464.9 279.5 464.7 280.1C464.6 280.6 464.1 281.3 463.6 281.5C463.2 281.7 462.5 281.3 461.9 281.3C461.3 281.3 460.7 281.6 460.1 281.6C459.5 281.7 458.9 281.3 458.4 281.5C457.8 281.6 457.5 282.3 457.0 282.6C456.5 282.9 455.8 283.0 455.4 283.4C455.0 283.8 454.7 284.4 454.4 284.9C454.1 285.4 454.0 286.1 453.6 286.5C453.2 286.9 452.5 287.1 451.9 287.1C451.4 287.0 451.0 286.4 450.4 286.1C449.9 285.9 449.2 285.8 448.7 285.5C448.3 285.2 447.9 284.7 447.5 284.2C447.1 283.8 446.8 283.2 446.4 282.8C446.0 282.4 445.5 281.9 445.0 281.8C444.4 281.7 443.6 282.3 443.3 282.4" stroke="#14a014" stroke-width="0.60"/>
<path d="M416.4 304.8C416.2 304.8 415.2 305.3 414.8 305.1C414.4 304.9 413.9 304.2 413.9 303.7C413.9 303.2 414.4 302.7 414.7 302.2C415.0 301.8 415.4 301.3 415.8 301.0C416.3 300.8 417.0 300.9 417.5 300.8C418.0 300.6 418.7 300.5 419.0 300.1C419.3 299.7 419.0 299.0 419.1 298.4C419.2 297.9 419.3 297.1 419.6 296.9C420.0 296.6 420.8 296.9 421.3 296.7C421.8 296.6 422.5 296.2 422.7 295.8C422.9 295.4 422.6 294.7 422.4 294.2C422.3 293.7 421.7 293.3 421.6 292.8C421.4 292.2 421.5 291.6 421.7 291.1C422.0 290.6 422.5 290.1 423.0 290.0C423.5 289.9 424.3 290.4 424.6 290.5" stroke="#14a014" stroke-width="0.60"/>
<path d="M420.6 289.4C420.9 289.6 421.9 290.1 422.2 290.6C422.4 291.1 422.2 291.9 422.1 292.6C422.0 293.2 421.6 293.8 421.4 294.4C421.2 295.0 421.3 295.8 421.1 296.4C420.8 296.9 419.8 297.2 419.7 297.8C419.5 298.4 419.7 299.3 420.1 299.7C420.5 300.2 421.3 300.6 421.9 300.5C422.5 300.5 423.3 300.0 423.6 299.5C423.9 299.0 423.8 298.2 423.7 297.5C423.6 296.9 422.9 296.3 423.0 295.7C423.1 295.1 423.9 294.7 424.2 294.1C424.5 293.5 424.5 292.8 424.7 292.2C424.8 291.6 424.9 290.8 425.2 290.3C425.5 289.7 426.1 289.2 426.6 288.9C427.2 288.7 428.0 288.8 428.6 288.7C429.3 288.7 430.0 288.4 430.6 288.6C431.1 288.8 431.4 289.9 431.9 290.1C432.5 290.2 433.5 289.7 433.9 289.6" stroke="#14a014" stroke-width="0.60"/>
<path d="M449.5 289.2C449.3 289.0 448.7 288.3 448.4 287.8C448.1 287.3 448.2 286.4 447.8 286.1C447.4 285.7 446.6 285.7 446.0 285.6C445.4 285.6 444.6 286.0 444.2 285.8C443.7 285.6 443.7 284.6 443.2 284.2C442.8 283.8 442.1 283.8 441.6 283.4C441.1 283.0 440.6 282.5 440.4 282.0C440.3 281.5 440.8 280.8 440.8 280.2C440.7 279.6 440.6 278.9 440.3 278.4C440.0 278.0 439.4 277.7 438.9 277.3C438.4 277.0 437.5 276.8 437.3 276.3C437.1 275.9 437.4 275.1 437.4 274.5C437.5 273.9 437.1 273.1 437.4 272.7C437.6 272.3 438.5 272.3 439.1 272.2C439.7 272.1 440.4 272.2 440.9 271.9C441.5 271.7 441.8 270.9 442.3 270.7C442.8 270.6 443.8 271.0 444.1 271.1" stroke="#14a014" stroke-width="0.60"/>
<path d="M423.0 297.7C422.8 297.4 422.1 296.3 421.5 296.2C420.8 296.1 420.1 296.6 419.4 296.8C418.7 297.1 418.0 297.8 417.4 297.7C416.8 297.6 416.4 296.6 415.9 296.2C415.3 295.7 414.8 295.1 414.2 294.8C413.5 294.6 412.5 295.0 412.0 294.6C411.5 294.2 411.6 293.0 411.1 292.6C410.6 292.3 409.1 292.9 409.0 292.5C408.8 292.2 409.7 291.2 410.2 290.8C410.7 290.3 411.6 290.3 412.2 290.0C412.8 289.6 413.3 289.0 413.9 288.7C414.6 288.3 415.3 288.2 415.9 287.8C416.5 287.5 417.0 286.9 417.7 286.6C418.3 286.3 419.2 286.5 419.8 286.2C420.4 285.9 421.0 285.3 421.4 284.7C421.7 284.1 422.0 283.3 422.0 282.6C422.1 282.0 421.4 281.1 421.6 280.5C421.8 279.9 422.8 279.6 423.2 279.1C423.6 278.5 423.5 277.6 424.0 277.0C424.4 276.5 425.3 276.4 425.8 276.0C426.4 275.5 426.5 274.4 427.1 274.2C427.6 273.9 428.5 274.4 429.2 274.5C429.9 274.6 431.0 274.7 431.3 274.7" stroke="#14a014" stroke-width="0.60"/>
<path d="M457.9 271.2C458.2 271.1 459.0 270.8 459.6 270.7C460.2 270.6 460.8 270.4 461.4 270.5C461.9 270.6 462.4 271.1 463.0 271.1C463.6 271.1 464.2 270.6 464.7 270.7C465.2 270.8 466.0 271.1 466.3 271.5C466.5 271.9 466.4 272.8 466.2 273.3C465.9 273.7 465.3 274.0 464.8 274.4C464.3 274.7 463.8 275.1 463.3 275.2C462.7 275.3 462.0 274.8 461.5 274.9C461.0 275.1 460.8 275.8 460.4 276.2C460.0 276.7 459.3 277.0 459.1 277.5C459.0 278.0 459.3 278.7 459.3 279.2C459.3 279.8 459.2 280.5 459.4 281.0C459.6 281.5 460.0 282.1 460.4 282.4C460.9 282.7 461.8 282.9 462.1 283.0" stroke="#14a014" stroke-width="0.60"/>
<path d="M438.5 313.8C438.1 313.7 436.9 313.5 436.3 313.2C435.6 312.8 434.8 312.2 434.6 311.6C434.4 310.9 435.2 310.0 435.1 309.3C435.0 308.6 434.3 308.0 433.9 307.3C433.6 306.6 433.5 305.7 433.1 305.1C432.7 304.5 431.5 304.2 431.3 303.6C431.1 303.0 431.7 302.1 431.9 301.4C432.1 300.6 432.6 299.9 432.5 299.1C432.4 298.4 431.6 297.9 431.3 297.1C431.0 296.4 431.0 295.6 430.9 294.9C430.7 294.1 430.4 293.4 430.2 292.6C430.0 291.9 429.9 291.1 429.7 290.4C429.5 289.6 429.4 288.7 428.9 288.2C428.4 287.7 427.4 287.3 426.7 287.3C426.1 287.4 425.4 288.2 424.7 288.5C424.0 288.8 423.0 288.6 422.5 289.1C422.0 289.6 421.8 290.5 421.6 291.2C421.4 292.0 421.4 292.8 421.3 293.5C421.1 294.3 421.1 295.2 420.6 295.8C420.2 296.3 419.1 296.4 418.7 297.0C418.3 297.6 418.3 298.6 418.3 299.3C418.3 300.1 418.2 301.0 418.6 301.6C419.0 302.2 419.9 302.6 420.6 302.8C421.4 302.9 422.4 302.2 422.9 302.5C423.5 302.8 424.0 303.7 424.2 304.4C424.4 305.2 424.2 306.4 424.2 306.8" stroke="#14a014" stroke-width="0.60"/>
<path d="M437.2 308.9C437.3 308.6 437.9 307.7 437.8 307.2C437.7 306.7 436.8 306.5 436.5 306.0C436.1 305.5 436.1 304.8 435.8 304.3C435.5 303.8 434.9 303.4 434.7 302.8C434.5 302.3 434.4 301.6 434.5 301.0C434.7 300.5 435.1 299.9 435.5 299.5C435.9 299.0 436.6 298.8 436.9 298.4C437.2 297.9 437.3 297.3 437.5 296.7C437.7 296.1 438.1 295.4 438.0 294.9C437.8 294.4 436.8 294.2 436.7 293.7C436.6 293.2 437.1 292.5 437.3 292.0C437.6 291.5 437.8 290.7 438.2 290.4C438.7 290.1 439.5 290.5 440.0 290.3C440.6 290.1 441.1 289.7 441.4 289.2C441.8 288.8 442.2 288.2 442.3 287.6C442.4 287.0 441.9 286.4 442.1 285.8C442.2 285.3 442.9 284.6 443.1 284.3" stroke="#14a014" stroke-width="0.60"/>
<path d="M458.4 296.1C458.5 296.4 459.0 297.4 458.9 298.0C458.7 298.5 457.7 298.9 457.6 299.4C457.6 300.0 458.0 300.9 458.5 301.2C459.0 301.4 459.8 300.9 460.4 301.0C461.0 301.0 461.7 301.7 462.2 301.6C462.8 301.5 463.3 300.8 463.6 300.3C463.9 299.8 464.0 299.1 464.1 298.4C464.2 297.8 464.2 297.1 464.2 296.5C464.1 295.9 464.2 295.2 464.0 294.6C463.8 294.0 463.2 293.5 463.0 292.9C462.8 292.3 462.9 291.6 462.7 291.0C462.4 290.4 461.8 290.0 461.5 289.5C461.2 288.9 460.7 288.3 460.7 287.8C460.6 287.2 461.1 286.5 461.5 286.0C461.9 285.6 462.9 285.2 463.2 285.1" stroke="#14a014" stroke-width="0.60"/>
<path d="M414.1 264.2L432.8 275.4" stroke="#0a760a" stroke-width="1.57" stroke-linecap="butt"/>
<g fill="#22d622" stroke="#0a760a" stroke-width="0.25"><ellipse cx="415.1" cy="264.8" rx="0.85" ry="2.25" transform="rotate(56 415.1 264.8)"/><ellipse cx="417.2" cy="266.1" rx="0.85" ry="2.25" transform="rotate(56 417.2 266.1)"/><ellipse cx="419.3" cy="267.3" rx="0.85" ry="2.25" transform="rotate(56 419.3 267.3)"/><ellipse cx="421.4" cy="268.5" rx="0.85" ry="2.25" transform="rotate(56 421.4 268.5)"/><ellipse cx="423.4" cy="269.8" rx="0.85" ry="2.25" transform="rotate(56 423.4 269.8)"/><ellipse cx="425.5" cy="271.0" rx="0.85" ry="2.25" transform="rotate(56 425.5 271.0)"/><ellipse cx="427.6" cy="272.3" rx="0.85" ry="2.25" transform="rotate(56 427.6 272.3)"/><ellipse cx="429.7" cy="273.5" rx="0.85" ry="2.25" transform="rotate(56 429.7 273.5)"/><ellipse cx="431.7" cy="274.7" rx="0.85" ry="2.25" transform="rotate(56 431.7 274.7)"/></g>
<path d="M419.4 261.8L434.0 271.0" stroke="#0a760a" stroke-width="1.49" stroke-linecap="butt"/>
<g fill="#22d622" stroke="#0a760a" stroke-width="0.25"><ellipse cx="420.5" cy="262.4" rx="0.85" ry="2.12" transform="rotate(57 420.5 262.4)"/><ellipse cx="422.5" cy="263.7" rx="0.85" ry="2.12" transform="rotate(57 422.5 263.7)"/><ellipse cx="424.6" cy="265.1" rx="0.85" ry="2.12" transform="rotate(57 424.6 265.1)"/><ellipse cx="426.7" cy="266.4" rx="0.85" ry="2.12" transform="rotate(57 426.7 266.4)"/><ellipse cx="428.8" cy="267.7" rx="0.85" ry="2.12" transform="rotate(57 428.8 267.7)"/><ellipse cx="430.9" cy="269.0" rx="0.85" ry="2.12" transform="rotate(57 430.9 269.0)"/><ellipse cx="433.0" cy="270.3" rx="0.85" ry="2.12" transform="rotate(57 433.0 270.3)"/></g>
<circle cx="420.6" cy="289.9" r="1.5" stroke="#0a760a" stroke-width="1.5"/><circle cx="420.6" cy="289.9" r="1.5" stroke="#22d622" stroke-width="0.9" stroke-dasharray="1.3 0.6"/>
<path d="M434.5 303.1L441.3 311.8" stroke="#0a760a" stroke-width="1.75" stroke-linecap="butt"/>
<g fill="#22d622" stroke="#0a760a" stroke-width="0.25"><ellipse cx="435.2" cy="303.9" rx="0.85" ry="2.50" transform="rotate(77 435.2 303.9)"/><ellipse cx="436.5" cy="305.7" rx="0.85" ry="2.50" transform="rotate(77 436.5 305.7)"/><ellipse cx="437.9" cy="307.4" rx="0.85" ry="2.50" transform="rotate(77 437.9 307.4)"/><ellipse cx="439.2" cy="309.2" rx="0.85" ry="2.50" transform="rotate(77 439.2 309.2)"/><ellipse cx="440.6" cy="310.9" rx="0.85" ry="2.50" transform="rotate(77 440.6 310.9)"/></g>
<path d="M439.3 295.6C439.0 295.5 438.0 294.9 437.3 294.7C436.7 294.5 435.7 294.1 435.2 294.3C434.6 294.6 434.4 295.6 433.9 296.1C433.5 296.7 432.9 297.2 432.5 297.8C432.2 298.4 432.0 299.2 431.8 299.9C431.5 300.5 430.8 301.2 430.9 301.9C431.0 302.5 432.2 303.0 432.2 303.6C432.3 304.2 431.8 305.1 431.3 305.5C430.8 306.0 429.8 305.8 429.2 306.2C428.7 306.6 428.7 307.7 428.2 308.1C427.6 308.5 426.7 308.5 426.0 308.6C425.3 308.7 424.5 308.8 423.8 308.7C423.1 308.5 422.5 308.1 421.9 307.7C421.2 307.4 420.3 307.1 420.0 306.6C419.7 306.0 420.4 305.0 420.2 304.4C420.0 303.8 418.8 303.5 418.6 302.9C418.3 302.3 418.4 301.4 418.7 300.7C418.9 300.0 419.8 299.2 420.0 298.9" stroke="#fff" stroke-width="0.95"/>
<path d="M439.3 295.6C439.0 295.5 438.0 294.9 437.3 294.7C436.7 294.5 435.7 294.1 435.2 294.3C434.6 294.6 434.4 295.6 433.9 296.1C433.5 296.7 432.9 297.2 432.5 297.8C432.2 298.4 432.0 299.2 431.8 299.9C431.5 300.5 430.8 301.2 430.9 301.9C431.0 302.5 432.2 303.0 432.2 303.6C432.3 304.2 431.8 305.1 431.3 305.5C430.8 306.0 429.8 305.8 429.2 306.2C428.7 306.6 428.7 307.7 428.2 308.1C427.6 308.5 426.7 308.5 426.0 308.6C425.3 308.7 424.5 308.8 423.8 308.7C423.1 308.5 422.5 308.1 421.9 307.7C421.2 307.4 420.3 307.1 420.0 306.6C419.7 306.0 420.4 305.0 420.2 304.4C420.0 303.8 418.8 303.5 418.6 302.9C418.3 302.3 418.4 301.4 418.7 300.7C418.9 300.0 419.8 299.2 420.0 298.9" stroke="#14a014" stroke-width="0.60"/>
<path d="M429.6 303.8L434.0 311.8" stroke="#0a760a" stroke-width="1.75" stroke-linecap="butt"/>
<g fill="#22d622" stroke="#0a760a" stroke-width="0.25"><ellipse cx="430.2" cy="304.8" rx="0.85" ry="2.50" transform="rotate(86 430.2 304.8)"/><ellipse cx="431.3" cy="306.8" rx="0.85" ry="2.50" transform="rotate(86 431.3 306.8)"/><ellipse cx="432.4" cy="308.8" rx="0.85" ry="2.50" transform="rotate(86 432.4 308.8)"/><ellipse cx="433.5" cy="310.8" rx="0.85" ry="2.50" transform="rotate(86 433.5 310.8)"/></g>
<path d="M466.4 290.0C466.4 289.7 466.3 288.8 466.5 288.2C466.7 287.7 467.4 286.6 467.5 286.7C467.7 286.8 467.4 287.9 467.5 288.5C467.5 289.1 467.7 289.7 467.9 290.3C468.0 290.9 468.1 291.5 468.2 292.1C468.3 292.7 468.4 293.3 468.5 293.9C468.6 294.5 468.7 295.2 468.5 295.7C468.4 296.3 467.9 296.8 467.6 297.3C467.3 297.9 466.9 298.4 466.7 298.9C466.5 299.5 466.8 300.3 466.5 300.8C466.3 301.2 465.4 301.4 465.0 301.8C464.6 302.2 464.4 302.9 463.9 303.2C463.4 303.6 462.6 303.5 462.2 303.9C461.8 304.3 461.8 305.0 461.7 305.6C461.5 306.2 461.3 306.9 461.5 307.4C461.6 308.0 462.5 308.3 462.6 308.9C462.7 309.4 462.0 310.3 461.9 310.5" stroke="#fff" stroke-width="0.95"/>
<path d="M466.4 290.0C466.4 289.7 466.3 288.8 466.5 288.2C466.7 287.7 467.4 286.6 467.5 286.7C467.7 286.8 467.4 287.9 467.5 288.5C467.5 289.1 467.7 289.7 467.9 290.3C468.0 290.9 468.1 291.5 468.2 292.1C468.3 292.7 468.4 293.3 468.5 293.9C468.6 294.5 468.7 295.2 468.5 295.7C468.4 296.3 467.9 296.8 467.6 297.3C467.3 297.9 466.9 298.4 466.7 298.9C466.5 299.5 466.8 300.3 466.5 300.8C466.3 301.2 465.4 301.4 465.0 301.8C464.6 302.2 464.4 302.9 463.9 303.2C463.4 303.6 462.6 303.5 462.2 303.9C461.8 304.3 461.8 305.0 461.7 305.6C461.5 306.2 461.3 306.9 461.5 307.4C461.6 308.0 462.5 308.3 462.6 308.9C462.7 309.4 462.0 310.3 461.9 310.5" stroke="#14a014" stroke-width="0.60"/>
<path d="M411.7 291.9L416.0 294.3" stroke="#0a760a" stroke-width="1.49" stroke-linecap="butt"/>
<g fill="#22d622" stroke="#0a760a" stroke-width="0.25"><ellipse cx="412.7" cy="292.5" rx="0.85" ry="2.12" transform="rotate(54 412.7 292.5)"/><ellipse cx="414.9" cy="293.7" rx="0.85" ry="2.12" transform="rotate(54 414.9 293.7)"/></g>
<path d="M459.0 289.0C458.9 289.3 458.5 290.1 458.4 290.6C458.3 291.1 458.2 291.7 458.2 292.2C458.2 292.8 458.2 293.4 458.5 293.8C458.7 294.3 459.5 294.6 459.6 295.0C459.7 295.5 459.2 296.1 459.2 296.6C459.1 297.1 459.1 297.7 459.3 298.2C459.5 298.7 459.9 299.1 460.2 299.6C460.5 300.0 460.7 300.5 461.0 301.0C461.3 301.5 461.8 302.0 461.8 302.5C461.8 303.0 461.5 303.5 461.2 304.0C461.0 304.5 460.4 304.9 460.3 305.4C460.2 305.9 460.1 306.7 460.4 307.0C460.7 307.4 461.4 307.5 462.0 307.6C462.5 307.6 463.2 307.6 463.6 307.3C464.0 307.0 464.3 306.4 464.4 305.9C464.4 305.4 464.0 304.8 464.1 304.3C464.1 303.7 464.3 303.0 464.6 302.7C465.0 302.4 465.7 302.5 466.2 302.4C466.8 302.3 467.5 302.6 467.9 302.3C468.3 302.0 468.3 301.0 468.4 300.8" stroke="#fff" stroke-width="0.95"/>
<path d="M459.0 289.0C458.9 289.3 458.5 290.1 458.4 290.6C458.3 291.1 458.2 291.7 458.2 292.2C458.2 292.8 458.2 293.4 458.5 293.8C458.7 294.3 459.5 294.6 459.6 295.0C459.7 295.5 459.2 296.1 459.2 296.6C459.1 297.1 459.1 297.7 459.3 298.2C459.5 298.7 459.9 299.1 460.2 299.6C460.5 300.0 460.7 300.5 461.0 301.0C461.3 301.5 461.8 302.0 461.8 302.5C461.8 303.0 461.5 303.5 461.2 304.0C461.0 304.5 460.4 304.9 460.3 305.4C460.2 305.9 460.1 306.7 460.4 307.0C460.7 307.4 461.4 307.5 462.0 307.6C462.5 307.6 463.2 307.6 463.6 307.3C464.0 307.0 464.3 306.4 464.4 305.9C464.4 305.4 464.0 304.8 464.1 304.3C464.1 303.7 464.3 303.0 464.6 302.7C465.0 302.4 465.7 302.5 466.2 302.4C466.8 302.3 467.5 302.6 467.9 302.3C468.3 302.0 468.3 301.0 468.4 300.8" stroke="#14a014" stroke-width="0.60"/>
<path d="M440.6 277.9C440.9 278.0 441.9 278.5 442.5 278.4C443.1 278.2 443.7 277.6 444.0 277.1C444.4 276.5 444.7 275.8 444.7 275.2C444.7 274.6 444.1 273.9 444.2 273.3C444.2 272.6 445.0 272.0 445.0 271.4C445.0 270.8 444.6 269.9 444.1 269.7C443.7 269.4 442.2 269.9 442.1 269.8C442.1 269.7 443.5 268.8 444.0 269.0C444.4 269.2 444.8 270.2 444.9 270.8C444.9 271.4 444.5 272.1 444.4 272.7C444.4 273.4 444.6 274.1 444.5 274.7C444.4 275.3 443.9 275.9 443.8 276.6C443.7 277.2 444.1 277.9 444.1 278.5C444.1 279.2 443.6 280.0 443.9 280.5C444.1 281.1 444.8 281.4 445.4 281.8C446.0 282.1 446.7 282.6 447.3 282.5C447.8 282.4 448.2 281.6 448.7 281.2C449.2 280.7 449.8 280.4 450.2 279.8C450.6 279.3 450.7 278.4 451.2 278.1C451.7 277.8 452.5 277.9 453.2 277.9C453.8 277.9 454.7 277.8 455.1 278.1C455.6 278.5 455.5 279.5 455.9 280.0C456.3 280.4 457.1 280.7 457.7 280.8C458.3 281.0 459.1 280.7 459.7 280.8C460.3 281.0 461.2 281.6 461.5 281.8" stroke="#fff" stroke-width="0.95"/>
<path d="M440.6 277.9C440.9 278.0 441.9 278.5 442.5 278.4C443.1 278.2 443.7 277.6 444.0 277.1C444.4 276.5 444.7 275.8 444.7 275.2C444.7 274.6 444.1 273.9 444.2 273.3C444.2 272.6 445.0 272.0 445.0 271.4C445.0 270.8 444.6 269.9 444.1 269.7C443.7 269.4 442.2 269.9 442.1 269.8C442.1 269.7 443.5 268.8 444.0 269.0C444.4 269.2 444.8 270.2 444.9 270.8C444.9 271.4 444.5 272.1 444.4 272.7C444.4 273.4 444.6 274.1 444.5 274.7C444.4 275.3 443.9 275.9 443.8 276.6C443.7 277.2 444.1 277.9 444.1 278.5C444.1 279.2 443.6 280.0 443.9 280.5C444.1 281.1 444.8 281.4 445.4 281.8C446.0 282.1 446.7 282.6 447.3 282.5C447.8 282.4 448.2 281.6 448.7 281.2C449.2 280.7 449.8 280.4 450.2 279.8C450.6 279.3 450.7 278.4 451.2 278.1C451.7 277.8 452.5 277.9 453.2 277.9C453.8 277.9 454.7 277.8 455.1 278.1C455.6 278.5 455.5 279.5 455.9 280.0C456.3 280.4 457.1 280.7 457.7 280.8C458.3 281.0 459.1 280.7 459.7 280.8C460.3 281.0 461.2 281.6 461.5 281.8" stroke="#14a014" stroke-width="0.60"/>
<path d="M418.5 298.8C418.9 299.0 420.4 299.3 420.8 299.9C421.2 300.5 421.2 301.7 421.0 302.4C420.7 303.1 419.5 303.5 419.3 304.3C419.0 305.0 419.7 306.0 419.4 306.8C419.2 307.5 418.3 308.7 417.7 308.7C417.2 308.7 416.3 307.7 415.9 307.0C415.5 306.3 415.6 305.3 415.5 304.5C415.4 303.6 415.0 302.6 415.4 301.9C415.7 301.3 417.1 301.3 417.5 300.6C418.0 300.0 417.6 298.8 418.0 298.2C418.5 297.6 419.6 297.4 420.3 297.0C421.0 296.6 421.7 296.1 422.5 295.8C423.3 295.4 424.0 294.9 424.8 294.7C425.6 294.5 426.7 295.1 427.3 294.7C428.0 294.3 428.4 293.3 428.6 292.5C428.8 291.7 428.7 290.8 428.7 289.9C428.6 289.1 428.2 288.3 428.1 287.5C428.0 286.7 428.0 285.8 428.0 285.0C428.1 284.1 428.3 283.3 428.4 282.5C428.4 281.6 428.3 280.8 428.2 279.9C428.2 279.1 428.3 278.2 428.1 277.4C427.8 276.6 427.2 275.8 426.6 275.4C425.9 275.0 424.9 275.1 424.1 275.0C423.3 274.8 422.0 274.6 421.6 274.5" stroke="#fff" stroke-width="0.95"/>
<path d="M418.5 298.8C418.9 299.0 420.4 299.3 420.8 299.9C421.2 300.5 421.2 301.7 421.0 302.4C420.7 303.1 419.5 303.5 419.3 304.3C419.0 305.0 419.7 306.0 419.4 306.8C419.2 307.5 418.3 308.7 417.7 308.7C417.2 308.7 416.3 307.7 415.9 307.0C415.5 306.3 415.6 305.3 415.5 304.5C415.4 303.6 415.0 302.6 415.4 301.9C415.7 301.3 417.1 301.3 417.5 300.6C418.0 300.0 417.6 298.8 418.0 298.2C418.5 297.6 419.6 297.4 420.3 297.0C421.0 296.6 421.7 296.1 422.5 295.8C423.3 295.4 424.0 294.9 424.8 294.7C425.6 294.5 426.7 295.1 427.3 294.7C428.0 294.3 428.4 293.3 428.6 292.5C428.8 291.7 428.7 290.8 428.7 289.9C428.6 289.1 428.2 288.3 428.1 287.5C428.0 286.7 428.0 285.8 428.0 285.0C428.1 284.1 428.3 283.3 428.4 282.5C428.4 281.6 428.3 280.8 428.2 279.9C428.2 279.1 428.3 278.2 428.1 277.4C427.8 276.6 427.2 275.8 426.6 275.4C425.9 275.0 424.9 275.1 424.1 275.0C423.3 274.8 422.0 274.6 421.6 274.5" stroke="#14a014" stroke-width="0.60"/>
<circle cx="444.9" cy="300.1" r="1.5" stroke="#0a760a" stroke-width="1.5"/><circle cx="444.9" cy="300.1" r="1.5" stroke="#22d622" stroke-width="0.9" stroke-dasharray="1.3 0.6"/>
<path d="M450.5 298.2L461.9 288.5" stroke="#0a760a" stroke-width="1.49" stroke-linecap="butt"/>
<g fill="#22d622" stroke="#0a760a" stroke-width="0.25"><ellipse cx="451.3" cy="297.5" rx="0.85" ry="2.12" transform="rotate(-15 451.3 297.5)"/><ellipse cx="453.0" cy="296.1" rx="0.85" ry="2.12" transform="rotate(-15 453.0 296.1)"/><ellipse cx="454.6" cy="294.7" rx="0.85" ry="2.12" transform="rotate(-15 454.6 294.7)"/><ellipse cx="456.2" cy="293.3" rx="0.85" ry="2.12" transform="rotate(-15 456.2 293.3)"/><ellipse cx="457.8" cy="291.9" rx="0.85" ry="2.12" transform="rotate(-15 457.8 291.9)"/><ellipse cx="459.5" cy="290.6" rx="0.85" ry="2.12" transform="rotate(-15 459.5 290.6)"/><ellipse cx="461.1" cy="289.2" rx="0.85" ry="2.12" transform="rotate(-15 461.1 289.2)"/></g>
<path d="M415.1 300.1L423.8 304.0" stroke="#0a760a" stroke-width="1.57" stroke-linecap="butt"/>
<g fill="#22d622" stroke="#0a760a" stroke-width="0.25"><ellipse cx="416.1" cy="300.6" rx="0.85" ry="2.25" transform="rotate(49 416.1 300.6)"/><ellipse cx="418.3" cy="301.6" rx="0.85" ry="2.25" transform="rotate(49 418.3 301.6)"/><ellipse cx="420.5" cy="302.6" rx="0.85" ry="2.25" transform="rotate(49 420.5 302.6)"/><ellipse cx="422.7" cy="303.5" rx="0.85" ry="2.25" transform="rotate(49 422.7 303.5)"/></g>
<path d="M417.6 285.3C417.6 285.6 417.5 286.7 417.8 287.3C418.0 287.9 418.4 288.7 419.0 288.9C419.5 289.2 420.5 288.8 421.0 289.0C421.6 289.3 421.8 290.3 422.3 290.6C422.8 290.9 423.7 290.7 424.3 291.0C424.9 291.3 425.6 291.9 425.7 292.4C425.8 293.0 425.0 293.8 425.1 294.4C425.3 294.9 426.0 295.5 426.6 295.8C427.2 296.0 428.0 296.0 428.7 295.9C429.3 295.8 430.2 295.7 430.6 295.2C430.9 294.8 430.5 293.8 430.7 293.2C430.9 292.6 431.4 292.0 431.8 291.5C432.1 290.9 432.9 290.4 432.9 289.8C432.9 289.2 432.4 288.3 431.9 288.0C431.4 287.7 430.6 288.0 429.9 288.0C429.2 287.9 428.2 287.6 427.9 287.5" stroke="#fff" stroke-width="0.95"/>
<path d="M417.6 285.3C417.6 285.6 417.5 286.7 417.8 287.3C418.0 287.9 418.4 288.7 419.0 288.9C419.5 289.2 420.5 288.8 421.0 289.0C421.6 289.3 421.8 290.3 422.3 290.6C422.8 290.9 423.7 290.7 424.3 291.0C424.9 291.3 425.6 291.9 425.7 292.4C425.8 293.0 425.0 293.8 425.1 294.4C425.3 294.9 426.0 295.5 426.6 295.8C427.2 296.0 428.0 296.0 428.7 295.9C429.3 295.8 430.2 295.7 430.6 295.2C430.9 294.8 430.5 293.8 430.7 293.2C430.9 292.6 431.4 292.0 431.8 291.5C432.1 290.9 432.9 290.4 432.9 289.8C432.9 289.2 432.4 288.3 431.9 288.0C431.4 287.7 430.6 288.0 429.9 288.0C429.2 287.9 428.2 287.6 427.9 287.5" stroke="#14a014" stroke-width="0.60"/>
<path d="M460.7 307.4L466.8 301.4" stroke="#0a760a" stroke-width="1.40" stroke-linecap="butt"/>
<g fill="#22d622" stroke="#0a760a" stroke-width="0.25"><ellipse cx="461.5" cy="306.7" rx="0.85" ry="2.00" transform="rotate(-20 461.5 306.7)"/><ellipse cx="463.0" cy="305.1" rx="0.85" ry="2.00" transform="rotate(-20 463.0 305.1)"/><ellipse cx="464.5" cy="303.6" rx="0.85" ry="2.00" transform="rotate(-20 464.5 303.6)"/><ellipse cx="466.0" cy="302.1" rx="0.85" ry="2.00" transform="rotate(-20 466.0 302.1)"/></g>
<circle cx="414.6" cy="301.4" r="1.5" stroke="#0a760a" stroke-width="1.5"/><circle cx="414.6" cy="301.4" r="1.5" stroke="#22d622" stroke-width="0.9" stroke-dasharray="1.3 0.6"/>
<path d="M455.8 282.0C456.1 282.0 456.9 282.3 457.5 282.2C458.0 282.1 458.5 281.7 458.9 281.3C459.2 280.9 459.3 280.3 459.5 279.8C459.6 279.2 459.7 278.7 459.9 278.1C460.0 277.6 460.3 277.1 460.5 276.6C460.7 276.1 460.8 275.4 461.1 275.0C461.4 274.6 462.1 274.5 462.5 274.1C462.8 273.7 462.9 273.1 463.2 272.6C463.5 272.2 463.8 271.6 464.3 271.3C464.7 271.1 465.6 271.0 465.9 271.3C466.3 271.5 466.2 272.4 466.1 272.9C466.0 273.4 465.8 274.1 465.4 274.4C465.1 274.8 464.4 274.9 463.9 275.0C463.3 275.0 462.6 275.2 462.2 274.9C461.8 274.7 461.6 274.0 461.4 273.5C461.2 272.9 460.9 272.3 461.0 271.9C461.0 271.4 461.5 270.7 461.9 270.5C462.4 270.3 463.1 270.3 463.6 270.5C464.0 270.8 464.4 271.7 464.6 271.9" stroke="#fff" stroke-width="0.95"/>
<path d="M455.8 282.0C456.1 282.0 456.9 282.3 457.5 282.2C458.0 282.1 458.5 281.7 458.9 281.3C459.2 280.9 459.3 280.3 459.5 279.8C459.6 279.2 459.7 278.7 459.9 278.1C460.0 277.6 460.3 277.1 460.5 276.6C460.7 276.1 460.8 275.4 461.1 275.0C461.4 274.6 462.1 274.5 462.5 274.1C462.8 273.7 462.9 273.1 463.2 272.6C463.5 272.2 463.8 271.6 464.3 271.3C464.7 271.1 465.6 271.0 465.9 271.3C466.3 271.5 466.2 272.4 466.1 272.9C466.0 273.4 465.8 274.1 465.4 274.4C465.1 274.8 464.4 274.9 463.9 275.0C463.3 275.0 462.6 275.2 462.2 274.9C461.8 274.7 461.6 274.0 461.4 273.5C461.2 272.9 460.9 272.3 461.0 271.9C461.0 271.4 461.5 270.7 461.9 270.5C462.4 270.3 463.1 270.3 463.6 270.5C464.0 270.8 464.4 271.7 464.6 271.9" stroke="#14a014" stroke-width="0.60"/>
<path d="M449.0 274.6C448.8 274.5 448.1 273.7 447.6 273.7C447.1 273.7 446.6 274.7 446.2 274.7C445.7 274.6 445.3 273.7 444.8 273.7C444.3 273.6 443.6 274.0 443.3 274.3C442.9 274.7 442.9 275.4 442.7 275.9C442.5 276.5 442.2 277.0 442.2 277.5C442.1 278.1 442.5 278.6 442.6 279.2C442.7 279.7 442.8 280.3 442.9 280.8C443.1 281.4 443.3 281.9 443.4 282.5C443.5 283.0 443.5 283.6 443.5 284.1C443.5 284.7 443.3 285.3 443.4 285.8C443.6 286.4 443.8 287.0 444.2 287.3C444.6 287.7 445.3 287.7 445.7 288.0C446.2 288.3 446.4 288.9 446.8 289.3C447.2 289.7 447.7 290.0 448.1 290.4C448.5 290.8 449.2 291.1 449.3 291.6C449.5 292.0 449.1 293.0 449.0 293.2" stroke="#fff" stroke-width="0.95"/>
<path d="M449.0 274.6C448.8 274.5 448.1 273.7 447.6 273.7C447.1 273.7 446.6 274.7 446.2 274.7C445.7 274.6 445.3 273.7 444.8 273.7C444.3 273.6 443.6 274.0 443.3 274.3C442.9 274.7 442.9 275.4 442.7 275.9C442.5 276.5 442.2 277.0 442.2 277.5C442.1 278.1 442.5 278.6 442.6 279.2C442.7 279.7 442.8 280.3 442.9 280.8C443.1 281.4 443.3 281.9 443.4 282.5C443.5 283.0 443.5 283.6 443.5 284.1C443.5 284.7 443.3 285.3 443.4 285.8C443.6 286.4 443.8 287.0 444.2 287.3C444.6 287.7 445.3 287.7 445.7 288.0C446.2 288.3 446.4 288.9 446.8 289.3C447.2 289.7 447.7 290.0 448.1 290.4C448.5 290.8 449.2 291.1 449.3 291.6C449.5 292.0 449.1 293.0 449.0 293.2" stroke="#14a014" stroke-width="0.60"/>
<path d="M441.8 297.2L446.1 301.6" stroke="#0a760a" stroke-width="1.49" stroke-linecap="butt"/>
<g fill="#22d622" stroke="#0a760a" stroke-width="0.25"><ellipse cx="442.5" cy="298.0" rx="0.85" ry="2.12" transform="rotate(70 442.5 298.0)"/><ellipse cx="444.0" cy="299.4" rx="0.85" ry="2.12" transform="rotate(70 444.0 299.4)"/><ellipse cx="445.4" cy="300.9" rx="0.85" ry="2.12" transform="rotate(70 445.4 300.9)"/></g>
<path d="M440.8 277.8C440.8 278.2 440.5 279.2 440.7 279.7C440.9 280.2 441.8 280.4 442.1 280.9C442.4 281.5 442.1 282.3 442.4 282.8C442.6 283.4 443.2 284.0 443.7 284.2C444.3 284.3 445.1 284.2 445.6 283.9C446.1 283.6 446.4 282.9 446.6 282.3C446.9 281.7 447.1 281.1 447.0 280.5C447.0 279.8 446.3 279.3 446.3 278.7C446.4 278.1 446.8 277.5 447.1 277.0C447.5 276.4 447.9 276.0 448.4 275.5C448.8 275.1 449.4 274.2 449.8 274.3C450.2 274.4 450.2 275.5 450.6 276.0C451.0 276.5 451.8 276.6 452.2 277.0C452.6 277.5 452.8 278.2 453.0 278.7C453.3 279.3 453.4 279.9 453.7 280.5C453.9 281.1 454.1 281.9 454.5 282.2C455.0 282.5 455.9 282.2 456.4 282.4C456.9 282.7 457.4 283.6 457.7 283.9" stroke="#fff" stroke-width="0.95"/>
<path d="M440.8 277.8C440.8 278.2 440.5 279.2 440.7 279.7C440.9 280.2 441.8 280.4 442.1 280.9C442.4 281.5 442.1 282.3 442.4 282.8C442.6 283.4 443.2 284.0 443.7 284.2C444.3 284.3 445.1 284.2 445.6 283.9C446.1 283.6 446.4 282.9 446.6 282.3C446.9 281.7 447.1 281.1 447.0 280.5C447.0 279.8 446.3 279.3 446.3 278.7C446.4 278.1 446.8 277.5 447.1 277.0C447.5 276.4 447.9 276.0 448.4 275.5C448.8 275.1 449.4 274.2 449.8 274.3C450.2 274.4 450.2 275.5 450.6 276.0C451.0 276.5 451.8 276.6 452.2 277.0C452.6 277.5 452.8 278.2 453.0 278.7C453.3 279.3 453.4 279.9 453.7 280.5C453.9 281.1 454.1 281.9 454.5 282.2C455.0 282.5 455.9 282.2 456.4 282.4C456.9 282.7 457.4 283.6 457.7 283.9" stroke="#14a014" stroke-width="0.60"/>
<path d="M449.5 309.8C449.7 310.1 450.4 311.1 450.8 311.7C451.2 312.4 452.1 313.4 451.9 313.7C451.7 314.1 450.2 314.2 449.6 313.9C449.0 313.6 448.5 312.7 448.3 312.0C448.1 311.3 448.4 310.4 448.2 309.7C448.1 309.0 447.7 308.2 447.2 307.6C446.7 307.1 445.7 307.1 445.1 306.7C444.5 306.2 444.1 305.4 443.5 305.0C442.9 304.6 441.9 304.1 441.3 304.3C440.7 304.4 440.0 305.3 439.7 305.9C439.3 306.5 439.0 307.4 439.1 308.1C439.2 308.8 439.6 309.8 440.1 310.2C440.7 310.6 441.6 310.8 442.4 310.8C443.1 310.7 443.8 310.2 444.6 310.1C445.3 310.0 446.5 310.1 446.9 310.1" stroke="#fff" stroke-width="0.95"/>
<path d="M449.5 309.8C449.7 310.1 450.4 311.1 450.8 311.7C451.2 312.4 452.1 313.4 451.9 313.7C451.7 314.1 450.2 314.2 449.6 313.9C449.0 313.6 448.5 312.7 448.3 312.0C448.1 311.3 448.4 310.4 448.2 309.7C448.1 309.0 447.7 308.2 447.2 307.6C446.7 307.1 445.7 307.1 445.1 306.7C444.5 306.2 444.1 305.4 443.5 305.0C442.9 304.6 441.9 304.1 441.3 304.3C440.7 304.4 440.0 305.3 439.7 305.9C439.3 306.5 439.0 307.4 439.1 308.1C439.2 308.8 439.6 309.8 440.1 310.2C440.7 310.6 441.6 310.8 442.4 310.8C443.1 310.7 443.8 310.2 444.6 310.1C445.3 310.0 446.5 310.1 446.9 310.1" stroke="#14a014" stroke-width="0.60"/>
<path d="M434.9 271.0C434.6 271.4 434.1 272.8 433.4 273.1C432.8 273.3 431.8 272.8 430.9 272.6C430.1 272.4 429.3 272.2 428.5 272.1C427.7 272.0 426.7 271.7 426.0 271.9C425.2 272.2 424.5 272.9 424.1 273.6C423.7 274.3 423.4 275.2 423.3 276.0C423.3 276.8 423.7 277.6 423.8 278.5C423.9 279.3 423.6 280.3 424.0 281.0C424.3 281.7 425.5 281.9 425.9 282.5C426.3 283.2 425.9 284.4 426.4 285.0C426.8 285.6 428.0 285.6 428.7 286.0C429.4 286.5 430.1 287.0 430.6 287.7C431.1 288.3 431.8 289.1 431.8 289.9C431.8 290.6 430.7 291.4 430.7 292.1C430.8 292.9 431.4 293.8 432.0 294.3C432.7 294.8 433.9 294.5 434.5 295.0C435.0 295.5 434.9 296.7 435.5 297.3C436.1 297.8 437.4 298.1 437.8 298.2" stroke="#fff" stroke-width="0.95"/>
<path d="M434.9 271.0C434.6 271.4 434.1 272.8 433.4 273.1C432.8 273.3 431.8 272.8 430.9 272.6C430.1 272.4 429.3 272.2 428.5 272.1C427.7 272.0 426.7 271.7 426.0 271.9C425.2 272.2 424.5 272.9 424.1 273.6C423.7 274.3 423.4 275.2 423.3 276.0C423.3 276.8 423.7 277.6 423.8 278.5C423.9 279.3 423.6 280.3 424.0 281.0C424.3 281.7 425.5 281.9 425.9 282.5C426.3 283.2 425.9 284.4 426.4 285.0C426.8 285.6 428.0 285.6 428.7 286.0C429.4 286.5 430.1 287.0 430.6 287.7C431.1 288.3 431.8 289.1 431.8 289.9C431.8 290.6 430.7 291.4 430.7 292.1C430.8 292.9 431.4 293.8 432.0 294.3C432.7 294.8 433.9 294.5 434.5 295.0C435.0 295.5 434.9 296.7 435.5 297.3C436.1 297.8 437.4 298.1 437.8 298.2" stroke="#14a014" stroke-width="0.60"/>
<path d="M418.2 289.9L422.3 290.9" stroke="#0a760a" stroke-width="1.75" stroke-linecap="butt"/>
<g fill="#22d622" stroke="#0a760a" stroke-width="0.25"><ellipse cx="419.2" cy="290.2" rx="0.85" ry="2.50" transform="rotate(38 419.2 290.2)"/><ellipse cx="421.3" cy="290.7" rx="0.85" ry="2.50" transform="rotate(38 421.3 290.7)"/></g>
<path d="M454.6 280.7L463.6 269.8" stroke="#0a760a" stroke-width="1.49" stroke-linecap="butt"/>
<g fill="#22d622" stroke="#0a760a" stroke-width="0.25"><ellipse cx="455.4" cy="279.8" rx="0.85" ry="2.12" transform="rotate(-26 455.4 279.8)"/><ellipse cx="456.9" cy="278.0" rx="0.85" ry="2.12" transform="rotate(-26 456.9 278.0)"/><ellipse cx="458.4" cy="276.2" rx="0.85" ry="2.12" transform="rotate(-26 458.4 276.2)"/><ellipse cx="459.9" cy="274.3" rx="0.85" ry="2.12" transform="rotate(-26 459.9 274.3)"/><ellipse cx="461.4" cy="272.5" rx="0.85" ry="2.12" transform="rotate(-26 461.4 272.5)"/><ellipse cx="462.9" cy="270.7" rx="0.85" ry="2.12" transform="rotate(-26 462.9 270.7)"/></g>
<path d="M420.6 305.9C420.3 305.9 419.3 306.3 418.8 306.2C418.2 306.1 417.5 305.7 417.1 305.2C416.8 304.7 416.9 304.0 416.7 303.4C416.6 302.7 416.3 302.0 416.4 301.5C416.6 301.0 417.2 300.5 417.7 300.1C418.2 299.8 418.8 299.5 419.4 299.4C420.0 299.3 420.8 299.9 421.3 299.7C421.8 299.6 421.9 298.4 422.4 298.2C422.8 298.0 423.8 298.1 424.2 298.5C424.6 298.8 424.5 299.8 424.9 300.2C425.3 300.7 426.0 301.1 426.5 301.2C427.1 301.2 427.9 300.8 428.2 300.4C428.6 300.0 428.8 299.1 428.7 298.6C428.6 298.0 427.8 297.6 427.5 297.2C427.1 296.7 426.6 296.2 426.4 295.6C426.2 295.0 426.3 294.0 426.2 293.7" stroke="#fff" stroke-width="0.95"/>
<path d="M420.6 305.9C420.3 305.9 419.3 306.3 418.8 306.2C418.2 306.1 417.5 305.7 417.1 305.2C416.8 304.7 416.9 304.0 416.7 303.4C416.6 302.7 416.3 302.0 416.4 301.5C416.6 301.0 417.2 300.5 417.7 300.1C418.2 299.8 418.8 299.5 419.4 299.4C420.0 299.3 420.8 299.9 421.3 299.7C421.8 299.6 421.9 298.4 422.4 298.2C422.8 298.0 423.8 298.1 424.2 298.5C424.6 298.8 424.5 299.8 424.9 300.2C425.3 300.7 426.0 301.1 426.5 301.2C427.1 301.2 427.9 300.8 428.2 300.4C428.6 300.0 428.8 299.1 428.7 298.6C428.6 298.0 427.8 297.6 427.5 297.2C427.1 296.7 426.6 296.2 426.4 295.6C426.2 295.0 426.3 294.0 426.2 293.7" stroke="#14a014" stroke-width="0.60"/>
</g>
<g fill="none" stroke-linecap="round" stroke-linejoin="round">
<path d="M593.8 198.4C593.5 199.1 592.3 201.4 591.6 202.4C590.8 203.4 589.9 203.8 589.3 204.7C588.6 205.5 588.0 206.5 587.6 207.5C587.1 208.6 586.7 209.9 586.4 211.0C586.1 212.0 585.7 213.1 585.8 213.8C586.0 214.6 587.3 215.2 587.6 215.5" stroke="#14a014" stroke-width="0.60"/>
<path d="M595.0 197.3C594.5 197.6 593.2 198.8 592.1 199.5C591.1 200.3 589.9 201.2 588.7 201.8C587.5 202.5 585.7 202.9 584.7 203.5C583.7 204.2 583.1 205.0 582.4 205.8C581.8 206.7 581.4 207.8 580.7 208.7C580.0 209.5 578.6 210.2 578.4 211.0C578.2 211.7 578.8 213.1 579.6 213.2C580.3 213.4 582.6 211.8 583.0 212.1C583.4 212.4 582.0 214.5 581.8 215.0" stroke="#14a014" stroke-width="0.60"/>
<path d="M593.0 183.0C593.2 183.8 593.9 186.2 593.8 187.6C593.8 188.9 592.6 190.0 592.7 191.0C592.8 191.9 593.8 192.6 594.4 193.3C595.0 193.9 595.4 194.6 596.1 195.0C596.9 195.4 597.9 195.5 599.0 195.5C600.0 195.6 601.4 195.0 602.4 195.3C603.4 195.6 604.3 196.7 605.3 197.3C606.2 197.9 607.5 198.2 608.1 199.0C608.7 199.7 608.9 201.1 608.7 201.8C608.5 202.6 606.9 203.2 607.0 203.5C607.1 203.9 608.3 203.9 609.2 204.1C610.2 204.3 611.6 205.2 612.7 204.9C613.7 204.6 614.5 203.0 615.5 202.4C616.6 201.8 617.7 201.3 618.9 201.3C620.2 201.3 621.9 201.9 622.9 202.4C624.0 202.9 624.9 203.8 625.0 204.5C625.1 205.1 624.2 206.2 623.5 206.4C622.8 206.6 621.6 206.3 620.7 205.8C619.7 205.3 618.8 203.7 617.8 203.5C616.9 203.4 615.9 204.4 615.0 204.9C614.0 205.4 613.1 206.0 612.1 206.4C611.1 206.8 610.1 207.1 609.2 207.5C608.4 208.0 607.5 208.6 607.0 209.2C606.4 209.9 605.8 210.7 605.8 211.5C605.8 212.4 607.1 214.3 607.0 214.4C606.9 214.5 606.0 212.6 605.3 212.1C604.5 211.6 603.3 211.9 602.4 211.5C601.5 211.1 600.6 210.5 600.1 209.8C599.6 209.2 599.4 208.2 599.5 207.5C599.7 206.9 600.5 206.2 601.3 205.8C602.0 205.4 603.7 205.8 604.1 205.3C604.5 204.7 603.7 203.3 603.5 202.4C603.3 201.4 603.4 200.3 603.0 199.5C602.5 198.8 601.5 198.0 600.7 197.8C599.8 197.6 598.6 198.5 597.8 198.4C597.1 198.3 596.4 197.5 596.1 197.3" stroke="#14a014" stroke-width="0.60"/>
<path d="M588.7 179.6C589.4 179.6 592.0 179.2 592.7 179.8C593.4 180.4 593.1 181.9 593.0 183.0C592.9 184.1 592.8 185.7 592.1 186.4C591.4 187.1 589.7 186.6 588.7 187.0C587.7 187.4 586.5 188.0 585.8 188.7C585.2 189.4 584.5 190.7 584.7 191.0C584.9 191.3 586.2 190.2 587.0 190.4C587.7 190.6 588.6 191.5 589.3 192.1C589.9 192.8 590.2 193.8 591.0 194.4C591.7 195.0 593.1 195.3 593.8 195.5C594.6 195.8 595.3 196.0 595.5 196.1" stroke="#14a014" stroke-width="0.60"/>
<path d="M602.6 234.6C602.6 234.9 602.6 235.7 602.7 236.3C602.7 236.9 603.0 237.4 603.1 237.9C603.2 238.5 603.1 239.1 603.4 239.6C603.6 240.1 604.0 240.7 604.4 240.9C604.9 241.0 605.8 240.8 606.1 240.5C606.4 240.1 606.3 239.3 606.3 238.8C606.4 238.2 606.6 237.6 606.4 237.1C606.2 236.6 605.5 236.3 605.3 235.8C605.1 235.3 605.2 234.7 605.3 234.1C605.5 233.6 605.8 233.1 606.2 232.7C606.6 232.3 607.1 232.0 607.7 231.9C608.2 231.7 608.9 231.6 609.3 231.8C609.8 231.9 610.4 232.5 610.6 232.9C610.7 233.4 610.5 234.4 610.5 234.6" stroke="#14a014" stroke-width="0.60"/>
<path d="M604.2 249.6C604.1 249.2 603.3 248.2 603.3 247.4C603.3 246.7 603.8 246.0 604.2 245.3C604.7 244.6 605.4 244.2 605.7 243.5C606.1 242.8 606.4 241.7 606.1 241.1C605.8 240.6 604.7 240.4 604.1 239.9C603.4 239.5 603.0 238.5 602.3 238.4C601.7 238.2 600.8 238.9 600.2 239.3C599.5 239.8 599.1 240.9 598.5 241.0C597.9 241.1 597.1 240.2 596.3 240.1C595.6 240.0 594.8 240.6 594.0 240.5C593.2 240.5 592.4 240.3 591.7 239.9C591.1 239.5 590.8 238.6 590.1 238.2C589.5 237.7 588.7 237.6 588.0 237.2C587.3 236.8 586.4 236.4 586.1 235.8C585.8 235.2 585.9 234.2 586.1 233.5C586.3 232.7 587.1 232.2 587.3 231.4C587.6 230.7 587.2 229.6 587.7 229.1C588.1 228.6 589.2 228.6 590.0 228.6C590.7 228.5 591.5 229.1 592.3 229.0C593.0 228.9 593.7 228.0 594.4 227.9C595.1 227.9 596.1 228.2 596.7 228.6C597.3 229.1 597.9 229.9 598.0 230.6C598.1 231.3 597.8 232.3 597.3 232.8C596.8 233.4 595.5 233.7 595.2 233.8" stroke="#14a014" stroke-width="0.60"/>
<path d="M584.9 243.7C585.2 243.9 586.3 244.2 586.8 244.7C587.3 245.2 587.8 245.9 587.9 246.5C588.0 247.1 587.5 247.8 587.4 248.5C587.3 249.2 587.4 250.0 587.2 250.6C586.9 251.2 586.1 251.6 585.9 252.3C585.7 252.9 586.2 253.7 586.0 254.3C585.8 255.0 585.2 255.5 584.9 256.1C584.5 256.7 584.3 257.4 584.2 258.1C584.1 258.7 584.0 259.5 584.2 260.1C584.4 260.8 584.8 261.4 585.3 261.9C585.8 262.4 586.3 263.0 586.9 263.2C587.6 263.4 588.4 262.9 589.0 263.0C589.7 263.1 590.3 263.8 591.0 263.8C591.6 263.8 592.4 263.4 592.9 262.9C593.3 262.4 593.2 261.5 593.5 260.9C593.7 260.2 594.1 259.2 594.2 258.9" stroke="#14a014" stroke-width="0.60"/>
<path d="M599.0 225.9C599.3 225.9 600.4 225.9 601.0 225.7C601.6 225.5 602.1 224.9 602.7 224.7C603.4 224.6 604.1 224.7 604.7 224.9C605.3 225.2 605.9 225.7 606.2 226.2C606.5 226.8 606.1 227.7 606.4 228.2C606.7 228.7 607.6 228.8 608.0 229.3C608.4 229.8 608.7 230.5 608.9 231.1C609.0 231.7 608.5 232.5 608.8 233.1C609.0 233.6 610.0 233.7 610.4 234.2C610.7 234.8 611.1 235.6 611.0 236.1C610.8 236.7 609.9 237.0 609.6 237.6C609.2 238.1 609.1 238.8 608.8 239.4C608.6 240.0 608.2 240.6 608.0 241.2C607.8 241.8 607.6 242.8 607.5 243.1" stroke="#14a014" stroke-width="0.60"/>
<path d="M592.9 221.5C592.5 221.4 591.2 220.8 590.4 220.9C589.6 221.1 588.8 221.8 588.3 222.4C587.7 223.1 587.7 224.4 587.1 224.8C586.5 225.1 585.3 225.0 584.5 224.8C583.7 224.6 583.1 223.6 582.3 223.4C581.6 223.3 580.6 223.7 579.8 223.9C579.0 224.1 578.2 224.5 577.3 224.7C576.5 224.9 575.5 224.8 574.8 225.2C574.1 225.5 573.3 226.3 573.0 227.0C572.6 227.7 572.4 228.9 572.7 229.6C573.0 230.3 574.0 230.6 574.7 231.2C575.3 231.7 575.9 232.4 576.6 232.9C577.3 233.4 578.1 233.8 578.9 234.1C579.7 234.4 580.6 234.4 581.5 234.5C582.3 234.6 583.2 234.8 584.0 234.7C584.9 234.7 585.7 234.4 586.5 234.0C587.3 233.7 588.4 232.9 588.7 232.7" stroke="#14a014" stroke-width="0.60"/>
<path d="M632.2 235.5C632.5 235.7 633.7 236.4 634.2 237.1C634.7 237.7 635.0 238.6 635.3 239.4C635.5 240.2 635.9 241.2 635.6 241.9C635.3 242.6 634.3 243.4 633.6 243.5C632.9 243.6 632.1 242.6 631.3 242.4C630.4 242.3 629.5 242.3 628.7 242.7C627.9 243.0 627.3 243.6 626.7 244.2C626.1 244.9 625.5 245.6 625.2 246.3C625.0 247.1 624.9 248.2 625.3 248.9C625.7 249.6 626.8 249.8 627.4 250.4C627.9 251.0 628.2 251.9 628.5 252.7C628.7 253.5 629.2 254.9 628.8 255.3C628.5 255.6 627.0 255.3 626.3 254.8C625.7 254.4 625.6 253.0 625.0 252.6C624.3 252.2 623.3 252.5 622.4 252.5C621.6 252.5 620.7 252.5 619.8 252.6C619.0 252.6 618.2 252.8 617.3 253.0C616.5 253.1 615.5 253.7 614.8 253.5C614.1 253.3 613.7 252.1 613.0 251.7C612.2 251.3 611.3 251.0 610.5 251.0C609.7 251.1 608.9 251.6 608.1 251.9C607.3 252.2 606.5 252.6 605.7 252.9C604.9 253.2 604.0 253.2 603.2 253.5C602.5 253.8 601.8 254.5 601.1 254.8C600.3 255.2 599.3 255.8 598.6 255.5C597.9 255.3 597.3 253.8 597.0 253.5" stroke="#14a014" stroke-width="0.60"/>
<path d="M585.8 223.9C586.0 223.6 586.4 222.5 586.8 221.9C587.3 221.4 588.0 221.0 588.5 220.5C589.1 220.0 589.9 219.6 590.2 219.0C590.4 218.3 589.9 217.5 589.9 216.8C589.8 216.0 589.9 214.5 590.0 214.5C590.0 214.5 590.1 216.0 590.1 216.8C590.2 217.5 590.3 218.2 590.3 219.0C590.3 219.7 589.9 220.6 590.2 221.2C590.4 221.8 591.1 222.5 591.8 222.7C592.4 223.0 593.4 222.9 594.0 222.6C594.6 222.2 594.7 220.8 595.2 220.7C595.7 220.6 596.5 221.4 597.0 222.0C597.4 222.6 597.5 223.4 597.7 224.1C597.9 224.8 597.7 225.7 598.0 226.3C598.3 226.9 599.0 227.5 599.5 228.0C600.1 228.4 600.7 228.9 601.4 229.2C602.1 229.5 603.1 229.3 603.5 229.8C604.0 230.2 604.1 231.2 604.1 231.9C604.2 232.6 604.1 233.5 603.7 234.1C603.3 234.7 602.5 235.0 601.8 235.3C601.1 235.6 600.2 235.9 599.6 235.7C599.0 235.5 598.5 234.6 598.3 233.9C598.0 233.3 598.6 232.2 598.3 231.7C597.9 231.2 596.5 231.0 596.2 230.9" stroke="#14a014" stroke-width="0.60"/>
<path d="M575.5 219.8C575.2 219.6 573.6 218.7 573.7 218.5C573.8 218.2 575.2 218.0 575.9 218.2C576.6 218.3 577.4 218.9 577.7 219.4C578.1 220.0 578.0 220.9 578.2 221.6C578.4 222.3 578.6 223.1 578.9 223.7C579.2 224.4 579.6 225.1 580.2 225.5C580.8 225.9 581.6 226.0 582.3 226.2C583.0 226.5 583.7 226.9 584.4 227.0C585.1 227.1 585.9 226.9 586.6 226.7C587.3 226.6 588.0 226.2 588.7 226.1C589.5 226.0 590.3 225.8 591.0 226.1C591.6 226.3 592.3 227.0 592.5 227.7C592.7 228.3 592.0 229.3 592.2 229.9C592.5 230.5 593.6 230.6 594.0 231.2C594.4 231.8 594.5 233.0 594.6 233.3" stroke="#14a014" stroke-width="0.60"/>
<path d="M575.1 237.4C575.0 237.7 574.5 238.6 574.2 239.2C573.9 239.8 573.5 241.1 573.3 241.0C573.2 241.0 573.2 239.7 573.2 239.0C573.3 238.3 573.1 237.5 573.4 237.0C573.7 236.5 574.6 235.9 575.2 235.9C575.7 236.0 576.2 237.0 576.8 237.1C577.4 237.3 578.4 237.3 578.9 237.0C579.3 236.7 579.2 235.7 579.5 235.1C579.8 234.5 580.3 233.9 580.7 233.5C581.2 233.0 581.8 232.7 582.4 232.3C582.9 231.8 583.3 231.1 583.9 230.9C584.5 230.7 585.3 230.9 585.9 231.2C586.5 231.5 586.9 232.1 587.5 232.5C588.1 232.8 588.7 233.4 589.3 233.4C589.9 233.4 590.4 232.6 591.0 232.4C591.7 232.2 592.4 232.3 593.1 232.3C593.7 232.2 594.4 231.9 595.1 232.0C595.7 232.1 596.6 232.7 596.9 232.8" stroke="#14a014" stroke-width="0.60"/>
<path d="M600.5 244.7C600.5 244.2 600.1 242.9 600.3 242.2C600.6 241.4 601.2 240.5 601.9 240.2C602.5 239.8 603.7 239.8 604.4 240.1C605.1 240.4 605.5 241.3 606.1 241.9C606.6 242.6 607.5 243.3 607.5 244.0C607.5 244.7 606.4 245.3 606.1 246.1C605.7 246.8 605.3 247.7 605.4 248.5C605.4 249.3 605.9 250.3 606.4 250.7C607.0 251.2 608.1 250.9 608.9 251.1C609.7 251.4 610.4 252.1 611.2 252.2C612.0 252.3 613.0 251.7 613.7 251.9C614.4 252.2 614.7 253.4 615.3 253.8C616.0 254.2 617.0 254.1 617.8 254.2C618.6 254.3 619.5 254.3 620.3 254.2C621.1 254.1 622.2 254.1 622.7 253.5C623.2 253.0 623.4 252.0 623.5 251.2C623.7 250.4 623.6 249.1 623.6 248.7" stroke="#14a014" stroke-width="0.60"/>
<path d="M625.5 247.8C625.4 248.1 625.5 249.0 625.2 249.4C624.9 249.7 624.1 249.7 623.7 250.0C623.3 250.3 623.0 250.9 622.6 251.2C622.2 251.5 621.6 251.7 621.1 251.8C620.6 251.9 619.9 251.6 619.5 251.9C619.1 252.1 618.7 252.8 618.7 253.2C618.7 253.7 619.3 254.2 619.4 254.7C619.6 255.2 619.4 255.8 619.6 256.3C619.9 256.7 620.3 257.3 620.8 257.4C621.2 257.5 621.8 257.0 622.3 257.0C622.8 257.0 623.8 257.2 623.8 257.4C623.9 257.7 622.9 258.0 622.5 258.3C622.0 258.5 621.5 258.8 621.1 259.0C620.6 259.3 620.1 259.6 619.6 259.8C619.1 259.9 618.5 259.7 618.0 259.9C617.5 260.0 617.1 260.5 616.6 260.5C616.1 260.6 615.4 260.4 615.0 260.1C614.6 259.9 614.4 259.1 614.0 258.9C613.6 258.7 612.9 258.9 612.4 258.7C611.9 258.6 611.4 258.2 610.9 258.1C610.4 258.0 609.8 257.8 609.3 257.9C608.9 258.1 608.5 259.0 608.3 259.2" stroke="#14a014" stroke-width="0.60"/>
<path d="M572.5 232.5C572.6 232.8 573.0 234.1 573.6 234.4C574.1 234.7 575.0 234.6 575.7 234.6C576.4 234.5 577.4 234.6 577.8 234.2C578.3 233.7 578.5 232.7 578.4 232.1C578.3 231.4 577.2 230.9 577.1 230.3C577.1 229.7 577.7 229.0 578.1 228.4C578.4 227.7 579.1 227.2 579.2 226.5C579.2 225.8 579.1 224.8 578.7 224.4C578.2 224.0 577.3 223.9 576.6 223.9C575.9 223.9 575.1 224.1 574.5 224.5C573.9 224.8 573.4 225.7 572.8 225.8C572.2 225.9 571.3 225.5 570.8 225.1C570.3 224.6 569.7 223.6 569.9 223.1C570.0 222.6 571.1 222.3 571.7 221.9C572.3 221.5 573.0 220.9 573.6 220.9C574.2 221.0 575.1 221.7 575.3 222.2C575.6 222.8 575.2 223.7 575.0 224.4C574.7 225.0 574.2 225.6 574.0 226.3C573.8 227.0 573.7 227.7 573.8 228.4C573.9 229.1 574.2 230.0 574.7 230.4C575.2 230.9 576.0 231.1 576.7 231.2C577.4 231.2 578.1 230.7 578.8 230.5C579.5 230.4 580.2 230.6 580.9 230.5C581.6 230.4 582.7 230.1 583.0 230.0" stroke="#14a014" stroke-width="0.60"/>
<path d="M585.0 222.2C585.4 222.2 586.5 222.1 587.2 221.9C587.9 221.7 588.6 221.3 589.3 221.1C590.0 220.8 590.8 220.9 591.4 220.5C592.0 220.1 592.1 218.8 592.7 218.7C593.2 218.5 594.2 219.1 594.7 219.5C595.3 220.0 595.9 220.6 596.1 221.3C596.3 222.0 595.8 222.8 596.0 223.5C596.2 224.2 597.2 224.7 597.2 225.4C597.2 226.0 596.6 226.8 596.1 227.3C595.6 227.8 594.9 228.2 594.2 228.5C593.6 228.7 592.8 228.9 592.1 228.8C591.3 228.7 590.6 228.4 590.0 228.0C589.4 227.6 589.2 226.5 588.7 226.2C588.1 226.0 587.1 226.6 586.4 226.4C585.8 226.2 585.6 225.0 584.9 224.8C584.3 224.5 583.4 225.1 582.7 224.9C582.0 224.7 581.1 224.2 580.9 223.6C580.7 223.0 581.0 221.9 581.4 221.5C581.9 221.0 582.9 221.1 583.6 221.1C584.3 221.1 585.1 221.4 585.8 221.4C586.5 221.4 587.3 221.2 588.0 221.2C588.7 221.3 589.4 221.7 590.2 221.8C590.9 221.9 591.6 222.1 592.4 222.1C593.1 222.0 594.1 221.4 594.4 221.3" stroke="#14a014" stroke-width="0.60"/>
<path d="M595.4 219.9C595.2 220.3 594.6 221.4 594.5 222.2C594.3 223.0 594.9 224.1 594.5 224.7C594.2 225.4 593.0 225.9 592.3 225.9C591.6 225.9 590.5 225.2 590.2 224.6C589.9 223.9 590.2 222.8 590.4 222.0C590.7 221.3 591.7 220.7 591.8 219.9C591.9 219.1 591.6 218.1 591.2 217.5C590.7 216.8 589.8 216.4 589.0 216.2C588.2 216.0 586.5 216.4 586.5 216.2C586.4 216.1 588.3 215.1 588.8 215.3C589.3 215.6 589.1 217.0 589.4 217.8C589.7 218.6 590.2 219.3 590.5 220.1C590.7 220.9 591.0 221.9 590.8 222.6C590.6 223.3 589.8 224.1 589.1 224.5C588.4 224.9 587.2 224.3 586.6 224.8C586.0 225.2 585.9 226.3 585.6 227.1C585.3 227.9 584.9 228.6 584.6 229.4C584.4 230.2 584.0 231.2 584.2 231.9C584.4 232.6 585.7 233.1 585.8 233.8C586.0 234.6 585.7 235.6 585.2 236.3C584.7 236.9 583.4 237.4 583.0 237.6" stroke="#14a014" stroke-width="0.60"/>
<path d="M594.9 225.9C594.5 225.8 593.2 225.3 592.4 225.3C591.6 225.4 590.7 225.6 590.0 226.1C589.4 226.5 589.0 227.6 588.3 227.9C587.6 228.2 586.6 228.1 585.8 227.8C585.1 227.6 584.5 226.4 583.8 226.3C583.2 226.3 582.2 227.0 581.7 227.6C581.1 228.1 581.2 229.5 580.6 229.8C580.0 230.2 578.7 229.3 578.1 229.6C577.5 230.0 577.6 231.5 576.9 231.9C576.3 232.2 575.0 232.3 574.4 231.9C573.9 231.5 573.3 230.3 573.4 229.6C573.6 228.9 574.7 228.5 575.1 227.7C575.5 227.0 575.9 226.2 575.9 225.4C575.9 224.6 575.2 223.8 575.2 223.0C575.1 222.1 575.4 221.3 575.6 220.5C575.9 219.7 576.4 218.6 576.6 218.2" stroke="#14a014" stroke-width="0.60"/>
<path d="M616.2 256.7C615.8 256.5 614.3 256.1 614.0 255.4C613.6 254.8 614.0 253.7 614.1 252.9C614.2 252.0 614.5 251.2 614.6 250.3C614.7 249.5 614.8 248.6 614.8 247.8C614.8 246.9 614.9 246.0 614.6 245.2C614.3 244.4 613.7 243.4 613.1 243.1C612.4 242.9 611.4 243.6 610.5 243.6C609.7 243.6 608.8 243.5 608.0 243.3C607.1 243.1 606.3 242.3 605.6 242.4C604.8 242.4 604.2 243.7 603.5 243.8C602.7 243.9 601.6 243.4 601.1 242.8C600.6 242.2 600.4 241.0 600.6 240.3C600.8 239.5 601.7 238.9 602.2 238.3C602.8 237.6 603.5 237.1 604.0 236.4C604.5 235.7 604.9 234.9 605.3 234.2C605.6 233.4 606.1 232.6 606.3 231.8C606.5 231.0 606.2 229.8 606.6 229.3C607.1 228.7 608.3 228.2 609.0 228.4C609.8 228.5 610.7 229.2 611.1 229.9C611.4 230.6 611.0 231.6 611.0 232.5C611.0 233.3 610.9 234.2 610.8 235.0C610.7 235.9 610.8 236.8 610.5 237.6C610.3 238.4 609.4 239.0 609.2 239.8C608.9 240.6 608.8 241.6 609.1 242.3C609.3 243.1 610.5 244.0 610.8 244.3" stroke="#14a014" stroke-width="0.60"/>
<path d="M580.0 221.2C579.8 221.5 579.1 222.3 578.9 222.9C578.7 223.5 578.6 224.4 578.9 224.9C579.2 225.4 580.3 225.4 580.7 225.9C581.1 226.3 581.1 227.3 581.5 227.7C582.0 228.1 582.9 228.2 583.5 228.1C584.1 228.0 584.7 227.4 585.2 227.0C585.8 226.6 586.1 225.8 586.7 225.6C587.3 225.4 588.2 225.9 588.7 225.6C589.2 225.3 589.3 224.3 589.8 223.8C590.2 223.4 591.1 223.4 591.6 223.0C592.1 222.6 592.5 222.0 592.9 221.4C593.2 220.9 593.3 219.8 593.7 219.6C594.2 219.4 595.3 219.8 595.6 220.2C596.0 220.7 595.5 221.7 595.7 222.3C595.9 222.9 596.6 223.3 596.9 223.9C597.2 224.5 597.3 225.3 597.6 225.8C598.0 226.4 598.5 226.9 599.1 227.2C599.6 227.6 600.7 227.8 601.0 228.0" stroke="#14a014" stroke-width="0.60"/>
<path d="M623.5 250.0C623.4 250.3 623.1 251.4 623.3 252.0C623.5 252.5 624.2 253.1 624.8 253.3C625.3 253.4 626.1 253.1 626.7 253.1C627.4 253.2 628.0 253.5 628.7 253.5C629.3 253.4 630.0 253.3 630.6 253.0C631.1 252.7 631.9 252.2 632.0 251.7C632.2 251.2 631.8 250.3 631.4 249.8C631.0 249.4 630.1 249.3 629.7 248.9C629.3 248.4 629.4 247.6 629.1 247.0C628.9 246.4 628.2 245.9 628.2 245.3C628.2 244.7 628.6 244.0 629.0 243.5C629.5 243.0 630.4 242.9 630.6 242.4C630.9 241.9 630.6 241.0 630.4 240.4C630.2 239.8 629.9 239.2 629.6 238.6C629.2 238.1 628.4 237.9 628.1 237.4C627.7 236.8 627.6 236.1 627.5 235.5C627.4 234.8 627.8 234.0 627.5 233.5C627.2 233.0 626.5 232.6 625.9 232.4C625.3 232.2 624.5 232.5 624.0 232.2C623.5 231.8 623.1 230.8 623.0 230.5" stroke="#14a014" stroke-width="0.60"/>
<path d="M636.2 241.0C636.4 241.3 637.1 242.1 637.3 242.7C637.4 243.3 637.2 244.1 636.9 244.7C636.7 245.4 636.3 246.2 635.8 246.4C635.3 246.7 634.2 246.0 633.7 246.3C633.2 246.5 633.3 247.7 632.8 248.1C632.3 248.4 631.2 248.0 630.8 248.3C630.3 248.7 630.3 249.6 630.2 250.3C630.1 251.0 630.1 251.7 630.1 252.4C630.1 253.0 630.5 254.2 630.2 254.4C629.9 254.7 628.7 254.2 628.2 253.9C627.7 253.5 627.6 252.4 627.0 252.2C626.5 251.9 625.5 252.1 625.0 252.4C624.5 252.8 624.5 253.7 624.1 254.2C623.6 254.8 622.7 254.9 622.4 255.5C622.1 256.0 622.6 257.1 622.2 257.5C621.9 258.0 621.0 258.2 620.3 258.4C619.7 258.6 618.9 258.9 618.3 258.7C617.7 258.4 617.5 257.4 616.9 257.1C616.4 256.9 615.5 256.8 614.9 257.0C614.3 257.1 613.6 257.6 613.2 258.1C612.7 258.6 612.4 259.6 612.2 259.9" stroke="#14a014" stroke-width="0.60"/>
<path d="M630.4 235.6C630.1 235.4 628.8 235.0 628.4 234.5C627.9 233.9 627.7 232.2 627.8 232.2C627.8 232.2 628.6 233.6 628.7 234.4C628.8 235.1 628.6 236.0 628.3 236.7C628.0 237.4 627.4 237.9 627.0 238.6C626.6 239.3 626.4 240.1 626.1 240.8C625.9 241.6 626.0 242.6 625.5 243.1C625.1 243.5 623.9 243.2 623.2 243.5C622.6 243.9 621.8 244.5 621.5 245.1C621.1 245.7 621.4 246.7 621.1 247.4C620.9 248.1 620.1 248.7 619.8 249.4C619.6 250.1 620.0 251.1 619.7 251.7C619.3 252.3 618.2 252.4 617.7 253.0C617.1 253.5 617.0 254.6 616.4 254.9C615.7 255.2 614.8 254.7 614.0 254.8C613.2 254.9 612.4 255.5 611.7 255.4C611.0 255.2 610.3 254.5 609.9 253.9C609.5 253.3 609.2 252.4 609.2 251.6C609.2 250.9 609.9 250.1 609.9 249.4C609.8 248.6 609.4 247.7 608.9 247.2C608.4 246.7 607.4 246.3 606.7 246.4C606.1 246.5 605.3 247.4 605.0 248.0C604.7 248.7 605.1 249.6 605.0 250.4C604.8 251.1 603.9 251.9 604.0 252.5C604.0 253.2 605.1 254.1 605.3 254.4" stroke="#14a014" stroke-width="0.60"/>
<path d="M612.8 242.9C612.6 243.1 612.1 243.7 611.9 244.2C611.6 244.7 611.6 245.3 611.3 245.7C611.0 246.1 610.3 246.4 609.8 246.3C609.4 246.2 609.0 245.5 608.6 245.2C608.2 244.9 607.5 244.8 607.2 244.5C606.8 244.1 606.3 243.6 606.3 243.1C606.2 242.7 606.8 242.1 606.8 241.6C606.9 241.1 606.8 240.5 606.6 240.0C606.5 239.5 606.2 239.0 606.0 238.5C605.8 238.0 605.2 237.6 605.2 237.1C605.1 236.7 605.6 236.1 605.6 235.6C605.6 235.1 605.1 234.5 605.2 234.0C605.3 233.5 606.1 233.3 606.3 232.8C606.5 232.3 606.2 231.7 606.3 231.2C606.4 230.7 606.8 230.0 606.9 229.7" stroke="#14a014" stroke-width="0.60"/>
<path d="M629.1 242.7C628.9 242.6 627.9 242.6 627.6 242.2C627.3 241.9 627.4 241.2 627.2 240.7C627.0 240.2 626.5 239.7 626.5 239.2C626.5 238.8 627.1 238.3 627.4 237.9C627.7 237.4 627.8 236.9 628.2 236.5C628.5 236.1 629.3 235.9 629.4 235.4C629.5 235.0 629.3 234.3 629.0 233.9C628.7 233.4 628.2 233.1 627.7 232.9C627.2 232.7 626.6 232.7 626.1 232.7C625.6 232.8 624.9 232.8 624.5 233.0C624.1 233.3 623.9 233.9 623.6 234.4C623.3 234.8 622.9 235.4 623.0 235.9C623.0 236.3 623.6 236.7 623.9 237.2C624.1 237.7 624.6 238.2 624.5 238.7C624.5 239.1 623.9 239.7 623.5 239.9C623.1 240.1 622.4 240.0 621.9 240.0C621.4 239.9 620.6 239.9 620.3 239.5C620.0 239.2 620.0 238.5 620.1 237.9C620.2 237.4 620.4 236.9 620.7 236.5C621.0 236.0 621.5 235.7 621.8 235.2C622.1 234.8 622.7 234.4 622.7 233.9C622.8 233.5 622.1 232.9 622.1 232.4C622.2 232.0 622.6 231.3 623.0 231.1C623.4 230.8 624.1 230.8 624.6 231.0C625.1 231.1 625.6 231.8 625.8 232.0" stroke="#14a014" stroke-width="0.60"/>
<path d="M587.2 239.8C587.5 239.9 588.4 240.0 589.0 240.3C589.5 240.5 589.9 241.3 590.4 241.4C591.0 241.5 591.6 240.7 592.2 240.8C592.7 240.9 593.5 241.4 593.7 241.9C593.9 242.3 593.4 243.1 593.5 243.7C593.6 244.3 593.7 245.0 594.1 245.4C594.4 245.9 595.3 246.1 595.6 246.5C595.8 247.0 595.4 247.9 595.6 248.4C595.9 248.9 596.5 249.3 597.1 249.5C597.6 249.7 598.4 249.8 598.9 249.6C599.5 249.4 599.8 248.7 600.3 248.4C600.8 248.0 601.3 247.5 601.9 247.4C602.5 247.3 603.2 247.9 603.7 247.7C604.2 247.5 604.8 246.8 604.9 246.3C605.0 245.8 604.4 244.8 604.3 244.5" stroke="#14a014" stroke-width="0.60"/>
<path d="M625.0 242.0C624.9 242.4 624.3 243.5 624.2 244.2C624.0 245.0 624.1 245.8 624.3 246.6C624.4 247.3 624.6 248.3 625.1 248.8C625.6 249.3 626.8 249.2 627.2 249.8C627.7 250.3 627.4 251.4 627.9 252.0C628.3 252.6 629.8 253.0 629.8 253.4C629.7 253.9 628.4 254.3 627.7 254.6C626.9 254.8 626.1 254.7 625.3 254.8C624.6 254.8 623.5 254.4 623.0 254.8C622.4 255.1 622.5 256.4 622.0 256.9C621.5 257.4 620.4 257.3 619.8 257.8C619.2 258.2 618.9 259.6 618.4 259.7C617.8 259.7 617.2 258.6 616.5 258.3C615.8 257.9 615.0 257.4 614.3 257.4C613.5 257.5 612.8 258.1 612.1 258.3C611.3 258.6 610.6 258.9 609.8 259.1C609.1 259.3 608.3 259.5 607.5 259.4C606.7 259.3 606.0 258.9 605.3 258.6C604.5 258.4 603.7 258.2 603.0 257.9C602.3 257.6 601.5 257.4 600.9 256.9C600.4 256.3 600.2 255.3 599.6 254.9C599.0 254.4 598.1 254.2 597.4 254.3C596.6 254.4 596.0 255.0 595.3 255.4C594.6 255.8 594.0 256.5 593.3 256.7C592.6 256.8 591.6 256.8 590.9 256.5C590.3 256.2 589.5 255.1 589.3 254.9" stroke="#14a014" stroke-width="0.60"/>
<path d="M591.1 257.9C591.0 257.6 590.5 256.5 590.4 255.8C590.2 255.0 589.9 254.2 590.1 253.5C590.3 252.8 591.2 252.3 591.4 251.6C591.7 250.9 591.8 250.0 591.6 249.3C591.4 248.6 590.6 248.2 590.1 247.6C589.6 247.0 589.3 246.1 588.7 245.7C588.1 245.4 587.2 245.6 586.4 245.6C585.6 245.6 584.7 245.5 584.1 245.8C583.5 246.2 583.5 247.4 582.9 247.8C582.3 248.2 581.4 248.2 580.7 248.5C580.0 248.7 578.9 248.6 578.5 249.1C578.1 249.6 578.0 250.7 578.2 251.4C578.3 252.1 578.9 252.8 579.5 253.3C580.0 253.8 580.8 254.4 581.5 254.4C582.1 254.4 582.9 253.7 583.4 253.2C584.0 252.7 584.3 251.8 584.9 251.4C585.5 251.1 586.4 251.2 587.2 251.3C587.9 251.4 588.6 251.8 589.3 252.1C590.0 252.4 590.8 252.6 591.4 253.0C592.1 253.4 593.0 254.1 593.3 254.3" stroke="#14a014" stroke-width="0.60"/>
<path d="M618.3 241.6C618.6 241.7 619.7 242.0 620.0 242.4C620.3 242.9 620.4 243.7 620.4 244.3C620.3 244.8 620.0 245.5 619.5 245.9C619.1 246.4 618.4 246.4 617.9 246.8C617.4 247.1 617.0 247.7 616.4 248.0C615.9 248.3 615.3 248.5 614.7 248.6C614.0 248.6 613.4 248.5 612.8 248.4C612.2 248.3 611.5 248.1 611.0 247.7C610.5 247.4 610.2 246.8 609.8 246.3C609.4 245.8 609.3 245.0 608.8 244.7C608.4 244.4 607.4 244.7 607.0 244.3C606.6 243.9 606.4 243.1 606.5 242.5C606.5 241.9 607.3 241.3 607.2 240.8C607.2 240.3 606.5 239.7 606.0 239.4C605.5 239.0 604.7 238.7 604.2 238.8C603.7 238.9 603.4 239.9 602.9 240.1C602.3 240.3 601.6 239.9 601.0 240.0C600.4 240.1 599.7 240.3 599.3 240.7C598.8 241.1 598.6 242.0 598.1 242.2C597.6 242.4 596.8 241.9 596.2 242.0C595.6 242.0 595.0 242.3 594.5 242.7C594.0 243.0 593.4 243.6 593.3 244.1C593.2 244.6 593.6 245.4 594.0 245.9C594.3 246.3 595.0 246.6 595.5 247.0C595.9 247.4 596.2 248.1 596.8 248.4C597.3 248.6 598.3 248.3 598.6 248.3" stroke="#14a014" stroke-width="0.60"/>
<path d="M575.9 254.3C575.8 254.6 575.5 255.9 575.7 256.6C575.9 257.3 577.1 258.5 577.2 258.4C577.3 258.4 576.3 257.0 576.2 256.3C576.1 255.5 576.1 254.5 576.5 253.9C576.8 253.4 578.0 253.4 578.6 252.9C579.2 252.4 579.2 251.3 579.8 250.9C580.4 250.5 581.5 250.9 582.2 250.6C582.9 250.4 583.6 249.6 584.3 249.5C585.0 249.4 585.9 250.3 586.6 250.2C587.3 250.0 587.8 248.8 588.5 248.8C589.2 248.7 589.9 249.5 590.6 249.8C591.4 250.1 592.1 250.5 592.9 250.5C593.6 250.5 594.4 250.0 595.1 249.7C595.8 249.4 596.9 249.2 597.2 248.7C597.6 248.1 597.4 246.8 597.0 246.3C596.6 245.8 595.6 245.7 594.8 245.4C594.1 245.2 593.3 245.0 592.6 244.7C591.9 244.4 590.8 244.1 590.5 243.5C590.3 242.9 590.8 241.9 590.9 241.2C591.1 240.4 591.3 239.2 591.4 238.9" stroke="#fff" stroke-width="0.95"/>
<path d="M575.9 254.3C575.8 254.6 575.5 255.9 575.7 256.6C575.9 257.3 577.1 258.5 577.2 258.4C577.3 258.4 576.3 257.0 576.2 256.3C576.1 255.5 576.1 254.5 576.5 253.9C576.8 253.4 578.0 253.4 578.6 252.9C579.2 252.4 579.2 251.3 579.8 250.9C580.4 250.5 581.5 250.9 582.2 250.6C582.9 250.4 583.6 249.6 584.3 249.5C585.0 249.4 585.9 250.3 586.6 250.2C587.3 250.0 587.8 248.8 588.5 248.8C589.2 248.7 589.9 249.5 590.6 249.8C591.4 250.1 592.1 250.5 592.9 250.5C593.6 250.5 594.4 250.0 595.1 249.7C595.8 249.4 596.9 249.2 597.2 248.7C597.6 248.1 597.4 246.8 597.0 246.3C596.6 245.8 595.6 245.7 594.8 245.4C594.1 245.2 593.3 245.0 592.6 244.7C591.9 244.4 590.8 244.1 590.5 243.5C590.3 242.9 590.8 241.9 590.9 241.2C591.1 240.4 591.3 239.2 591.4 238.9" stroke="#14a014" stroke-width="0.60"/>
<path d="M576.8 244.8C576.7 244.4 576.4 243.2 576.5 242.4C576.6 241.6 577.0 240.7 577.6 240.1C578.1 239.5 579.2 239.4 579.6 238.8C580.0 238.1 579.6 237.1 579.8 236.3C580.1 235.6 581.0 234.9 581.0 234.2C581.1 233.4 580.0 232.6 580.1 231.9C580.1 231.2 580.8 230.4 581.4 229.8C582.0 229.3 582.9 228.6 583.5 228.6C584.2 228.6 584.8 230.0 585.6 230.0C586.3 230.1 587.1 229.5 587.8 229.0C588.4 228.5 588.7 227.6 589.3 227.0C589.9 226.5 590.6 226.0 591.4 225.7C592.1 225.3 593.1 225.3 593.7 224.8C594.3 224.3 594.2 223.1 594.8 222.6C595.4 222.2 596.5 222.0 597.2 222.2C598.0 222.4 598.5 223.4 599.2 223.7C599.9 224.0 600.9 223.9 601.6 224.2C602.4 224.5 602.9 225.2 603.7 225.6C604.4 225.9 605.3 226.0 605.9 226.5C606.6 226.9 607.4 227.9 607.7 228.2" stroke="#fff" stroke-width="0.95"/>
<path d="M576.8 244.8C576.7 244.4 576.4 243.2 576.5 242.4C576.6 241.6 577.0 240.7 577.6 240.1C578.1 239.5 579.2 239.4 579.6 238.8C580.0 238.1 579.6 237.1 579.8 236.3C580.1 235.6 581.0 234.9 581.0 234.2C581.1 233.4 580.0 232.6 580.1 231.9C580.1 231.2 580.8 230.4 581.4 229.8C582.0 229.3 582.9 228.6 583.5 228.6C584.2 228.6 584.8 230.0 585.6 230.0C586.3 230.1 587.1 229.5 587.8 229.0C588.4 228.5 588.7 227.6 589.3 227.0C589.9 226.5 590.6 226.0 591.4 225.7C592.1 225.3 593.1 225.3 593.7 224.8C594.3 224.3 594.2 223.1 594.8 222.6C595.4 222.2 596.5 222.0 597.2 222.2C598.0 222.4 598.5 223.4 599.2 223.7C599.9 224.0 600.9 223.9 601.6 224.2C602.4 224.5 602.9 225.2 603.7 225.6C604.4 225.9 605.3 226.0 605.9 226.5C606.6 226.9 607.4 227.9 607.7 228.2" stroke="#14a014" stroke-width="0.60"/>
<path d="M587.4 231.8C587.4 232.1 587.4 233.3 587.6 234.0C587.8 234.6 588.5 235.1 588.7 235.8C588.9 236.5 588.9 237.3 588.7 238.0C588.5 238.7 587.9 239.2 587.6 239.9C587.2 240.5 586.6 241.2 586.6 241.8C586.6 242.4 587.2 243.2 587.6 243.7C588.0 244.3 588.7 244.8 589.3 245.1C589.9 245.5 590.6 245.7 591.2 246.1C591.9 246.4 592.3 247.2 592.9 247.4C593.6 247.6 594.4 247.6 595.1 247.4C595.8 247.2 596.5 246.8 597.0 246.3C597.6 245.9 598.1 245.2 598.3 244.6C598.5 243.9 598.4 243.1 598.3 242.4C598.1 241.7 597.3 241.2 597.1 240.5C596.8 239.9 597.0 239.0 596.7 238.4C596.4 237.8 595.9 237.0 595.3 236.7C594.7 236.5 593.8 236.7 593.1 237.0C592.5 237.2 591.9 237.7 591.4 238.3C590.9 238.8 590.7 239.5 590.3 240.1C589.9 240.7 589.4 241.3 588.9 241.8C588.4 242.3 587.7 242.7 587.1 243.1C586.5 243.5 585.6 244.1 585.3 244.3" stroke="#fff" stroke-width="0.95"/>
<path d="M587.4 231.8C587.4 232.1 587.4 233.3 587.6 234.0C587.8 234.6 588.5 235.1 588.7 235.8C588.9 236.5 588.9 237.3 588.7 238.0C588.5 238.7 587.9 239.2 587.6 239.9C587.2 240.5 586.6 241.2 586.6 241.8C586.6 242.4 587.2 243.2 587.6 243.7C588.0 244.3 588.7 244.8 589.3 245.1C589.9 245.5 590.6 245.7 591.2 246.1C591.9 246.4 592.3 247.2 592.9 247.4C593.6 247.6 594.4 247.6 595.1 247.4C595.8 247.2 596.5 246.8 597.0 246.3C597.6 245.9 598.1 245.2 598.3 244.6C598.5 243.9 598.4 243.1 598.3 242.4C598.1 241.7 597.3 241.2 597.1 240.5C596.8 239.9 597.0 239.0 596.7 238.4C596.4 237.8 595.9 237.0 595.3 236.7C594.7 236.5 593.8 236.7 593.1 237.0C592.5 237.2 591.9 237.7 591.4 238.3C590.9 238.8 590.7 239.5 590.3 240.1C589.9 240.7 589.4 241.3 588.9 241.8C588.4 242.3 587.7 242.7 587.1 243.1C586.5 243.5 585.6 244.1 585.3 244.3" stroke="#14a014" stroke-width="0.60"/>
<path d="M575.1 221.0L596.4 219.5" stroke="#0a760a" stroke-width="1.49" stroke-linecap="butt"/>
<g fill="#22d622" stroke="#0a760a" stroke-width="0.25"><ellipse cx="576.2" cy="220.9" rx="0.85" ry="2.12" transform="rotate(21 576.2 220.9)"/><ellipse cx="578.6" cy="220.8" rx="0.85" ry="2.12" transform="rotate(21 578.6 220.8)"/><ellipse cx="581.0" cy="220.6" rx="0.85" ry="2.12" transform="rotate(21 581.0 220.6)"/><ellipse cx="583.4" cy="220.4" rx="0.85" ry="2.12" transform="rotate(21 583.4 220.4)"/><ellipse cx="585.7" cy="220.3" rx="0.85" ry="2.12" transform="rotate(21 585.7 220.3)"/><ellipse cx="588.1" cy="220.1" rx="0.85" ry="2.12" transform="rotate(21 588.1 220.1)"/><ellipse cx="590.5" cy="219.9" rx="0.85" ry="2.12" transform="rotate(21 590.5 219.9)"/><ellipse cx="592.9" cy="219.8" rx="0.85" ry="2.12" transform="rotate(21 592.9 219.8)"/><ellipse cx="595.2" cy="219.6" rx="0.85" ry="2.12" transform="rotate(21 595.2 219.6)"/></g>
<path d="M583.8 257.4L594.0 260.3" stroke="#0a760a" stroke-width="1.57" stroke-linecap="butt"/>
<g fill="#22d622" stroke="#0a760a" stroke-width="0.25"><ellipse cx="584.8" cy="257.7" rx="0.85" ry="2.25" transform="rotate(41 584.8 257.7)"/><ellipse cx="586.9" cy="258.3" rx="0.85" ry="2.25" transform="rotate(41 586.9 258.3)"/><ellipse cx="588.9" cy="258.9" rx="0.85" ry="2.25" transform="rotate(41 588.9 258.9)"/><ellipse cx="590.9" cy="259.5" rx="0.85" ry="2.25" transform="rotate(41 590.9 259.5)"/><ellipse cx="593.0" cy="260.0" rx="0.85" ry="2.25" transform="rotate(41 593.0 260.0)"/></g>
<circle cx="617.1" cy="244.1" r="1.5" stroke="#0a760a" stroke-width="1.5"/><circle cx="617.1" cy="244.1" r="1.5" stroke="#22d622" stroke-width="0.9" stroke-dasharray="1.3 0.6"/>
<path d="M623.6 234.4C623.8 234.8 624.0 235.9 624.4 236.6C624.7 237.2 625.7 237.7 625.7 238.4C625.8 239.0 624.7 239.7 624.6 240.3C624.5 241.0 624.9 241.8 625.2 242.5C625.5 243.2 626.3 243.8 626.4 244.5C626.4 245.2 626.1 246.2 625.7 246.6C625.2 247.1 623.9 246.6 623.4 247.1C622.9 247.5 622.8 248.4 622.6 249.2C622.3 249.9 622.2 250.6 622.0 251.4C621.8 252.1 621.7 252.9 621.3 253.5C620.9 254.1 619.8 254.4 619.6 255.0C619.4 255.6 620.2 256.4 620.3 257.2C620.4 257.9 620.6 259.0 620.2 259.5C619.8 259.9 618.7 259.8 617.9 259.7C617.2 259.5 616.5 259.1 615.9 258.7C615.2 258.4 614.5 258.1 613.9 257.6C613.3 257.2 612.5 256.8 612.2 256.1C611.9 255.5 612.4 254.4 612.0 253.9C611.6 253.3 610.4 253.4 610.0 252.8C609.6 252.3 609.5 251.1 609.8 250.5C610.1 250.0 611.5 250.0 611.8 249.5C612.1 248.9 611.7 247.9 611.8 247.2C611.9 246.5 612.5 245.8 612.6 245.1C612.6 244.3 612.2 243.6 612.3 242.8C612.3 242.1 612.2 241.0 612.6 240.6C613.1 240.1 614.5 240.2 614.9 240.1" stroke="#fff" stroke-width="0.95"/>
<path d="M623.6 234.4C623.8 234.8 624.0 235.9 624.4 236.6C624.7 237.2 625.7 237.7 625.7 238.4C625.8 239.0 624.7 239.7 624.6 240.3C624.5 241.0 624.9 241.8 625.2 242.5C625.5 243.2 626.3 243.8 626.4 244.5C626.4 245.2 626.1 246.2 625.7 246.6C625.2 247.1 623.9 246.6 623.4 247.1C622.9 247.5 622.8 248.4 622.6 249.2C622.3 249.9 622.2 250.6 622.0 251.4C621.8 252.1 621.7 252.9 621.3 253.5C620.9 254.1 619.8 254.4 619.6 255.0C619.4 255.6 620.2 256.4 620.3 257.2C620.4 257.9 620.6 259.0 620.2 259.5C619.8 259.9 618.7 259.8 617.9 259.7C617.2 259.5 616.5 259.1 615.9 258.7C615.2 258.4 614.5 258.1 613.9 257.6C613.3 257.2 612.5 256.8 612.2 256.1C611.9 255.5 612.4 254.4 612.0 253.9C611.6 253.3 610.4 253.4 610.0 252.8C609.6 252.3 609.5 251.1 609.8 250.5C610.1 250.0 611.5 250.0 611.8 249.5C612.1 248.9 611.7 247.9 611.8 247.2C611.9 246.5 612.5 245.8 612.6 245.1C612.6 244.3 612.2 243.6 612.3 242.8C612.3 242.1 612.2 241.0 612.6 240.6C613.1 240.1 614.5 240.2 614.9 240.1" stroke="#14a014" stroke-width="0.60"/>
<path d="M631.9 249.7L632.9 238.0" stroke="#0a760a" stroke-width="1.57" stroke-linecap="butt"/>
<g fill="#22d622" stroke="#0a760a" stroke-width="0.25"><ellipse cx="632.0" cy="248.5" rx="0.85" ry="2.25" transform="rotate(-60 632.0 248.5)"/><ellipse cx="632.2" cy="246.2" rx="0.85" ry="2.25" transform="rotate(-60 632.2 246.2)"/><ellipse cx="632.4" cy="243.8" rx="0.85" ry="2.25" transform="rotate(-60 632.4 243.8)"/><ellipse cx="632.6" cy="241.5" rx="0.85" ry="2.25" transform="rotate(-60 632.6 241.5)"/><ellipse cx="632.8" cy="239.2" rx="0.85" ry="2.25" transform="rotate(-60 632.8 239.2)"/></g>
<path d="M602.5 255.5L612.2 250.6" stroke="#0a760a" stroke-width="1.66" stroke-linecap="butt"/>
<g fill="#22d622" stroke="#0a760a" stroke-width="0.25"><ellipse cx="603.5" cy="255.0" rx="0.85" ry="2.38" transform="rotate(-2 603.5 255.0)"/><ellipse cx="605.4" cy="254.0" rx="0.85" ry="2.38" transform="rotate(-2 605.4 254.0)"/><ellipse cx="607.4" cy="253.1" rx="0.85" ry="2.38" transform="rotate(-2 607.4 253.1)"/><ellipse cx="609.3" cy="252.1" rx="0.85" ry="2.38" transform="rotate(-2 609.3 252.1)"/><ellipse cx="611.2" cy="251.1" rx="0.85" ry="2.38" transform="rotate(-2 611.2 251.1)"/></g>
<circle cx="608.6" cy="253.8" r="1.5" stroke="#0a760a" stroke-width="1.5"/><circle cx="608.6" cy="253.8" r="1.5" stroke="#22d622" stroke-width="0.9" stroke-dasharray="1.3 0.6"/>
<path d="M621.9 233.6L625.6 230.7" stroke="#0a760a" stroke-width="1.31" stroke-linecap="butt"/>
<g fill="#22d622" stroke="#0a760a" stroke-width="0.25"><ellipse cx="622.8" cy="232.9" rx="0.85" ry="1.88" transform="rotate(-14 622.8 232.9)"/><ellipse cx="624.7" cy="231.4" rx="0.85" ry="1.88" transform="rotate(-14 624.7 231.4)"/></g>
<path d="M594.3 241.5C594.6 241.3 595.4 240.5 596.0 240.3C596.6 240.0 597.6 240.5 598.0 240.2C598.5 239.9 598.8 239.0 598.9 238.3C599.0 237.7 598.5 236.8 598.7 236.3C599.0 235.7 599.7 235.3 600.4 235.0C601.0 234.8 601.8 234.7 602.4 234.9C603.0 235.0 603.5 235.9 604.2 236.0C604.8 236.1 605.7 235.9 606.2 235.5C606.7 235.2 606.9 234.3 607.2 233.7C607.5 233.1 607.8 232.5 608.2 231.9C608.6 231.4 609.4 231.0 609.6 230.4C609.8 229.8 609.1 229.0 609.3 228.4C609.5 227.8 610.3 226.9 610.7 226.9C611.2 226.9 611.9 227.9 612.0 228.5C612.1 229.1 611.5 229.8 611.4 230.5C611.3 231.1 611.2 231.9 611.3 232.5C611.5 233.2 612.2 233.7 612.3 234.4C612.3 235.0 611.8 235.7 611.6 236.3C611.4 237.0 611.3 237.7 611.0 238.3C610.7 238.9 610.4 239.6 609.9 240.0C609.4 240.5 608.4 240.8 608.1 241.0" stroke="#fff" stroke-width="0.95"/>
<path d="M594.3 241.5C594.6 241.3 595.4 240.5 596.0 240.3C596.6 240.0 597.6 240.5 598.0 240.2C598.5 239.9 598.8 239.0 598.9 238.3C599.0 237.7 598.5 236.8 598.7 236.3C599.0 235.7 599.7 235.3 600.4 235.0C601.0 234.8 601.8 234.7 602.4 234.9C603.0 235.0 603.5 235.9 604.2 236.0C604.8 236.1 605.7 235.9 606.2 235.5C606.7 235.2 606.9 234.3 607.2 233.7C607.5 233.1 607.8 232.5 608.2 231.9C608.6 231.4 609.4 231.0 609.6 230.4C609.8 229.8 609.1 229.0 609.3 228.4C609.5 227.8 610.3 226.9 610.7 226.9C611.2 226.9 611.9 227.9 612.0 228.5C612.1 229.1 611.5 229.8 611.4 230.5C611.3 231.1 611.2 231.9 611.3 232.5C611.5 233.2 612.2 233.7 612.3 234.4C612.3 235.0 611.8 235.7 611.6 236.3C611.4 237.0 611.3 237.7 611.0 238.3C610.7 238.9 610.4 239.6 609.9 240.0C609.4 240.5 608.4 240.8 608.1 241.0" stroke="#14a014" stroke-width="0.60"/>
<circle cx="584.3" cy="247.2" r="1.5" stroke="#0a760a" stroke-width="1.5"/><circle cx="584.3" cy="247.2" r="1.5" stroke="#22d622" stroke-width="0.9" stroke-dasharray="1.3 0.6"/>
<path d="M625.8 230.8C626.0 230.4 627.0 229.2 626.9 228.5C626.8 227.8 625.3 226.5 625.1 226.6C624.9 226.7 625.5 228.3 625.6 229.1C625.8 230.0 626.0 230.8 625.9 231.7C625.9 232.5 626.0 233.6 625.6 234.2C625.1 234.8 624.1 234.9 623.3 235.3C622.5 235.6 621.5 235.7 620.9 236.3C620.4 236.8 620.5 238.0 620.1 238.7C619.7 239.4 618.5 239.9 618.4 240.6C618.3 241.3 619.1 242.1 619.3 243.0C619.4 243.8 619.0 244.9 619.4 245.5C619.7 246.2 621.2 246.2 621.5 246.8C621.8 247.5 621.3 248.5 621.3 249.4C621.2 250.2 620.9 251.2 621.2 251.9C621.5 252.7 622.2 253.5 622.9 253.8C623.6 254.2 624.8 253.8 625.4 254.2C626.1 254.6 626.6 256.0 626.9 256.3" stroke="#fff" stroke-width="0.95"/>
<path d="M625.8 230.8C626.0 230.4 627.0 229.2 626.9 228.5C626.8 227.8 625.3 226.5 625.1 226.6C624.9 226.7 625.5 228.3 625.6 229.1C625.8 230.0 626.0 230.8 625.9 231.7C625.9 232.5 626.0 233.6 625.6 234.2C625.1 234.8 624.1 234.9 623.3 235.3C622.5 235.6 621.5 235.7 620.9 236.3C620.4 236.8 620.5 238.0 620.1 238.7C619.7 239.4 618.5 239.9 618.4 240.6C618.3 241.3 619.1 242.1 619.3 243.0C619.4 243.8 619.0 244.9 619.4 245.5C619.7 246.2 621.2 246.2 621.5 246.8C621.8 247.5 621.3 248.5 621.3 249.4C621.2 250.2 620.9 251.2 621.2 251.9C621.5 252.7 622.2 253.5 622.9 253.8C623.6 254.2 624.8 253.8 625.4 254.2C626.1 254.6 626.6 256.0 626.9 256.3" stroke="#14a014" stroke-width="0.60"/>
<path d="M617.3 222.9L621.7 211.8" stroke="#0a760a" stroke-width="1.66" stroke-linecap="butt"/>
<g fill="#22d622" stroke="#0a760a" stroke-width="0.25"><ellipse cx="617.7" cy="221.8" rx="0.85" ry="2.38" transform="rotate(-44 617.7 221.8)"/><ellipse cx="618.6" cy="219.6" rx="0.85" ry="2.38" transform="rotate(-44 618.6 219.6)"/><ellipse cx="619.5" cy="217.4" rx="0.85" ry="2.38" transform="rotate(-44 619.5 217.4)"/><ellipse cx="620.4" cy="215.1" rx="0.85" ry="2.38" transform="rotate(-44 620.4 215.1)"/><ellipse cx="621.2" cy="212.9" rx="0.85" ry="2.38" transform="rotate(-44 621.2 212.9)"/></g>
<path d="M606.1 224.0C605.7 223.9 604.1 223.5 604.0 223.5C604.0 223.6 605.6 224.0 605.9 224.5C606.2 225.0 605.9 225.9 606.0 226.6C606.1 227.3 606.2 228.0 606.3 228.7C606.4 229.4 606.3 230.2 606.6 230.8C606.9 231.3 607.7 231.6 608.1 232.2C608.6 232.7 608.8 233.4 609.2 234.0C609.6 234.5 610.2 234.9 610.7 235.4C611.2 236.0 611.6 236.5 611.9 237.1C612.3 237.7 613.0 238.3 613.0 239.0C613.0 239.6 612.5 240.4 612.0 240.8C611.5 241.3 610.7 241.7 610.1 241.7C609.5 241.7 608.7 241.1 608.3 240.6C608.0 240.1 608.4 239.0 608.1 238.5C607.7 238.0 606.8 237.9 606.2 237.6C605.7 237.2 604.9 236.4 604.7 236.1" stroke="#fff" stroke-width="0.95"/>
<path d="M606.1 224.0C605.7 223.9 604.1 223.5 604.0 223.5C604.0 223.6 605.6 224.0 605.9 224.5C606.2 225.0 605.9 225.9 606.0 226.6C606.1 227.3 606.2 228.0 606.3 228.7C606.4 229.4 606.3 230.2 606.6 230.8C606.9 231.3 607.7 231.6 608.1 232.2C608.6 232.7 608.8 233.4 609.2 234.0C609.6 234.5 610.2 234.9 610.7 235.4C611.2 236.0 611.6 236.5 611.9 237.1C612.3 237.7 613.0 238.3 613.0 239.0C613.0 239.6 612.5 240.4 612.0 240.8C611.5 241.3 610.7 241.7 610.1 241.7C609.5 241.7 608.7 241.1 608.3 240.6C608.0 240.1 608.4 239.0 608.1 238.5C607.7 238.0 606.8 237.9 606.2 237.6C605.7 237.2 604.9 236.4 604.7 236.1" stroke="#14a014" stroke-width="0.60"/>
<path d="M612.8 237.5C612.7 237.8 612.6 239.1 612.2 239.6C611.7 240.1 610.5 240.1 610.2 240.7C609.9 241.2 610.3 242.2 610.3 242.9C610.2 243.6 610.1 244.5 609.7 245.1C609.3 245.7 608.6 246.4 608.0 246.5C607.3 246.6 606.6 245.8 605.9 245.6C605.2 245.4 604.4 245.7 603.7 245.6C602.9 245.4 602.1 245.2 601.6 244.8C601.0 244.3 601.0 243.4 600.5 242.8C600.0 242.3 599.1 242.1 598.7 241.5C598.2 241.0 598.0 240.1 598.0 239.4C598.0 238.7 598.2 237.7 598.7 237.2C599.1 236.8 600.1 237.0 600.9 236.8C601.6 236.6 602.5 236.5 602.9 236.0C603.4 235.4 603.4 234.1 603.5 233.8" stroke="#fff" stroke-width="0.95"/>
<path d="M612.8 237.5C612.7 237.8 612.6 239.1 612.2 239.6C611.7 240.1 610.5 240.1 610.2 240.7C609.9 241.2 610.3 242.2 610.3 242.9C610.2 243.6 610.1 244.5 609.7 245.1C609.3 245.7 608.6 246.4 608.0 246.5C607.3 246.6 606.6 245.8 605.9 245.6C605.2 245.4 604.4 245.7 603.7 245.6C602.9 245.4 602.1 245.2 601.6 244.8C601.0 244.3 601.0 243.4 600.5 242.8C600.0 242.3 599.1 242.1 598.7 241.5C598.2 241.0 598.0 240.1 598.0 239.4C598.0 238.7 598.2 237.7 598.7 237.2C599.1 236.8 600.1 237.0 600.9 236.8C601.6 236.6 602.5 236.5 602.9 236.0C603.4 235.4 603.4 234.1 603.5 233.8" stroke="#14a014" stroke-width="0.60"/>
<path d="M574.1 224.6L596.4 222.9" stroke="#0a760a" stroke-width="1.57" stroke-linecap="butt"/>
<g fill="#22d622" stroke="#0a760a" stroke-width="0.25"><ellipse cx="575.2" cy="224.6" rx="0.85" ry="2.25" transform="rotate(21 575.2 224.6)"/><ellipse cx="577.4" cy="224.4" rx="0.85" ry="2.25" transform="rotate(21 577.4 224.4)"/><ellipse cx="579.7" cy="224.2" rx="0.85" ry="2.25" transform="rotate(21 579.7 224.2)"/><ellipse cx="581.9" cy="224.0" rx="0.85" ry="2.25" transform="rotate(21 581.9 224.0)"/><ellipse cx="584.1" cy="223.9" rx="0.85" ry="2.25" transform="rotate(21 584.1 223.9)"/><ellipse cx="586.4" cy="223.7" rx="0.85" ry="2.25" transform="rotate(21 586.4 223.7)"/><ellipse cx="588.6" cy="223.5" rx="0.85" ry="2.25" transform="rotate(21 588.6 223.5)"/><ellipse cx="590.8" cy="223.4" rx="0.85" ry="2.25" transform="rotate(21 590.8 223.4)"/><ellipse cx="593.1" cy="223.2" rx="0.85" ry="2.25" transform="rotate(21 593.1 223.2)"/><ellipse cx="595.3" cy="223.0" rx="0.85" ry="2.25" transform="rotate(21 595.3 223.0)"/></g>
<path d="M593.9 248.2C594.1 248.5 595.0 249.5 595.2 250.3C595.5 251.1 595.1 252.1 595.3 252.9C595.5 253.7 595.9 254.5 596.2 255.2C596.6 256.0 597.1 256.7 597.5 257.5C597.8 258.2 597.9 259.2 598.4 259.8C598.9 260.5 599.7 261.0 600.4 261.4C601.1 261.8 602.8 262.2 602.7 262.3C602.7 262.5 600.9 262.7 600.2 262.4C599.5 262.1 599.3 260.7 598.6 260.5C597.9 260.2 596.9 260.8 596.0 260.8C595.2 260.7 594.3 259.9 593.6 260.1C592.9 260.3 592.5 261.4 591.8 261.9C591.2 262.5 590.6 263.3 589.9 263.6C589.1 263.8 588.0 263.1 587.4 263.4C586.7 263.8 586.8 265.5 586.2 265.7C585.6 265.9 584.7 264.9 583.9 264.5C583.2 264.0 582.1 263.7 581.8 263.1C581.5 262.4 582.0 261.0 582.1 260.6" stroke="#fff" stroke-width="0.95"/>
<path d="M593.9 248.2C594.1 248.5 595.0 249.5 595.2 250.3C595.5 251.1 595.1 252.1 595.3 252.9C595.5 253.7 595.9 254.5 596.2 255.2C596.6 256.0 597.1 256.7 597.5 257.5C597.8 258.2 597.9 259.2 598.4 259.8C598.9 260.5 599.7 261.0 600.4 261.4C601.1 261.8 602.8 262.2 602.7 262.3C602.7 262.5 600.9 262.7 600.2 262.4C599.5 262.1 599.3 260.7 598.6 260.5C597.9 260.2 596.9 260.8 596.0 260.8C595.2 260.7 594.3 259.9 593.6 260.1C592.9 260.3 592.5 261.4 591.8 261.9C591.2 262.5 590.6 263.3 589.9 263.6C589.1 263.8 588.0 263.1 587.4 263.4C586.7 263.8 586.8 265.5 586.2 265.7C585.6 265.9 584.7 264.9 583.9 264.5C583.2 264.0 582.1 263.7 581.8 263.1C581.5 262.4 582.0 261.0 582.1 260.6" stroke="#14a014" stroke-width="0.60"/>
<path d="M627.6 236.9C627.3 237.1 626.5 237.6 625.9 237.9C625.3 238.1 624.7 238.6 624.1 238.6C623.5 238.5 623.1 237.8 622.5 237.6C621.9 237.4 621.2 237.4 620.6 237.3C620.0 237.3 619.3 237.5 618.7 237.4C618.1 237.3 617.6 236.8 617.0 236.5C616.4 236.2 615.9 235.6 615.3 235.5C614.8 235.5 613.9 235.6 613.5 236.0C613.1 236.4 613.0 237.2 612.9 237.8C612.8 238.5 612.7 239.2 612.9 239.7C613.1 240.3 613.7 240.7 614.2 241.1C614.7 241.5 615.1 242.1 615.7 242.3C616.3 242.5 617.1 242.2 617.6 242.5C618.1 242.8 618.0 243.9 618.4 244.2C618.9 244.5 619.9 244.6 620.4 244.4C620.8 244.1 621.1 243.3 621.2 242.7C621.4 242.1 621.0 241.2 621.3 240.8C621.5 240.3 622.4 240.2 622.9 239.8C623.3 239.3 624.0 238.7 624.0 238.2C624.0 237.7 623.5 236.8 623.0 236.6C622.5 236.3 621.7 236.6 621.1 236.7C620.4 236.8 619.8 237.2 619.2 237.2C618.6 237.1 617.9 236.6 617.6 236.2C617.2 235.7 617.5 234.8 617.1 234.3C616.7 233.9 615.6 233.7 615.4 233.6" stroke="#fff" stroke-width="0.95"/>
<path d="M627.6 236.9C627.3 237.1 626.5 237.6 625.9 237.9C625.3 238.1 624.7 238.6 624.1 238.6C623.5 238.5 623.1 237.8 622.5 237.6C621.9 237.4 621.2 237.4 620.6 237.3C620.0 237.3 619.3 237.5 618.7 237.4C618.1 237.3 617.6 236.8 617.0 236.5C616.4 236.2 615.9 235.6 615.3 235.5C614.8 235.5 613.9 235.6 613.5 236.0C613.1 236.4 613.0 237.2 612.9 237.8C612.8 238.5 612.7 239.2 612.9 239.7C613.1 240.3 613.7 240.7 614.2 241.1C614.7 241.5 615.1 242.1 615.7 242.3C616.3 242.5 617.1 242.2 617.6 242.5C618.1 242.8 618.0 243.9 618.4 244.2C618.9 244.5 619.9 244.6 620.4 244.4C620.8 244.1 621.1 243.3 621.2 242.7C621.4 242.1 621.0 241.2 621.3 240.8C621.5 240.3 622.4 240.2 622.9 239.8C623.3 239.3 624.0 238.7 624.0 238.2C624.0 237.7 623.5 236.8 623.0 236.6C622.5 236.3 621.7 236.6 621.1 236.7C620.4 236.8 619.8 237.2 619.2 237.2C618.6 237.1 617.9 236.6 617.6 236.2C617.2 235.7 617.5 234.8 617.1 234.3C616.7 233.9 615.6 233.7 615.4 233.6" stroke="#14a014" stroke-width="0.60"/>
<path d="M591.8 227.6C592.1 227.4 593.5 227.2 593.8 226.6C594.1 226.1 593.6 225.1 593.7 224.4C593.9 223.7 594.4 223.1 594.9 222.5C595.3 221.9 595.9 220.8 596.4 220.8C596.8 220.9 597.0 222.4 597.6 222.7C598.1 223.1 599.1 222.8 599.8 223.1C600.4 223.5 600.7 224.4 601.3 224.7C601.9 225.1 602.8 224.8 603.5 225.0C604.2 225.3 605.0 225.6 605.5 226.1C605.9 226.6 605.9 227.7 606.4 228.2C606.9 228.6 607.8 229.0 608.5 228.9C609.1 228.9 610.0 228.5 610.5 228.0C611.0 227.5 610.9 226.1 611.4 226.0C611.8 225.8 612.8 227.1 613.1 227.3" stroke="#fff" stroke-width="0.95"/>
<path d="M591.8 227.6C592.1 227.4 593.5 227.2 593.8 226.6C594.1 226.1 593.6 225.1 593.7 224.4C593.9 223.7 594.4 223.1 594.9 222.5C595.3 221.9 595.9 220.8 596.4 220.8C596.8 220.9 597.0 222.4 597.6 222.7C598.1 223.1 599.1 222.8 599.8 223.1C600.4 223.5 600.7 224.4 601.3 224.7C601.9 225.1 602.8 224.8 603.5 225.0C604.2 225.3 605.0 225.6 605.5 226.1C605.9 226.6 605.9 227.7 606.4 228.2C606.9 228.6 607.8 229.0 608.5 228.9C609.1 228.9 610.0 228.5 610.5 228.0C611.0 227.5 610.9 226.1 611.4 226.0C611.8 225.8 612.8 227.1 613.1 227.3" stroke="#14a014" stroke-width="0.60"/>
<path d="M579.4 245.3L587.2 247.7" stroke="#0a760a" stroke-width="1.75" stroke-linecap="butt"/>
<g fill="#22d622" stroke="#0a760a" stroke-width="0.25"><ellipse cx="580.4" cy="245.6" rx="0.85" ry="2.50" transform="rotate(42 580.4 245.6)"/><ellipse cx="582.3" cy="246.2" rx="0.85" ry="2.50" transform="rotate(42 582.3 246.2)"/><ellipse cx="584.3" cy="246.8" rx="0.85" ry="2.50" transform="rotate(42 584.3 246.8)"/><ellipse cx="586.2" cy="247.4" rx="0.85" ry="2.50" transform="rotate(42 586.2 247.4)"/></g>
<path d="M612.2 245.8L618.8 242.9" stroke="#0a760a" stroke-width="1.49" stroke-linecap="butt"/>
<g fill="#22d622" stroke="#0a760a" stroke-width="0.25"><ellipse cx="613.3" cy="245.3" rx="0.85" ry="2.12" transform="rotate(1 613.3 245.3)"/><ellipse cx="615.5" cy="244.3" rx="0.85" ry="2.12" transform="rotate(1 615.5 244.3)"/><ellipse cx="617.7" cy="243.3" rx="0.85" ry="2.12" transform="rotate(1 617.7 243.3)"/></g>
<path d="M621.5 226.8C621.7 226.9 622.5 227.2 622.9 227.4C623.4 227.7 623.8 228.1 624.2 228.5C624.6 228.8 625.3 229.2 625.4 229.6C625.5 230.1 625.1 230.7 624.8 231.1C624.4 231.5 623.8 231.7 623.4 232.0C623.0 232.4 622.6 232.9 622.2 233.1C621.7 233.4 621.1 233.4 620.6 233.7C620.1 233.9 619.8 234.4 619.3 234.6C618.8 234.9 618.2 234.9 617.7 235.0C617.2 235.1 616.6 235.2 616.1 235.3C615.5 235.3 614.8 235.2 614.4 235.5C614.1 235.8 614.2 236.6 613.9 237.0C613.6 237.4 613.0 237.8 612.5 237.9C612.0 237.9 611.2 237.4 611.0 237.2" stroke="#fff" stroke-width="0.95"/>
<path d="M621.5 226.8C621.7 226.9 622.5 227.2 622.9 227.4C623.4 227.7 623.8 228.1 624.2 228.5C624.6 228.8 625.3 229.2 625.4 229.6C625.5 230.1 625.1 230.7 624.8 231.1C624.4 231.5 623.8 231.7 623.4 232.0C623.0 232.4 622.6 232.9 622.2 233.1C621.7 233.4 621.1 233.4 620.6 233.7C620.1 233.9 619.8 234.4 619.3 234.6C618.8 234.9 618.2 234.9 617.7 235.0C617.2 235.1 616.6 235.2 616.1 235.3C615.5 235.3 614.8 235.2 614.4 235.5C614.1 235.8 614.2 236.6 613.9 237.0C613.6 237.4 613.0 237.8 612.5 237.9C612.0 237.9 611.2 237.4 611.0 237.2" stroke="#14a014" stroke-width="0.60"/>
</g>
</svg>
</body></html>
